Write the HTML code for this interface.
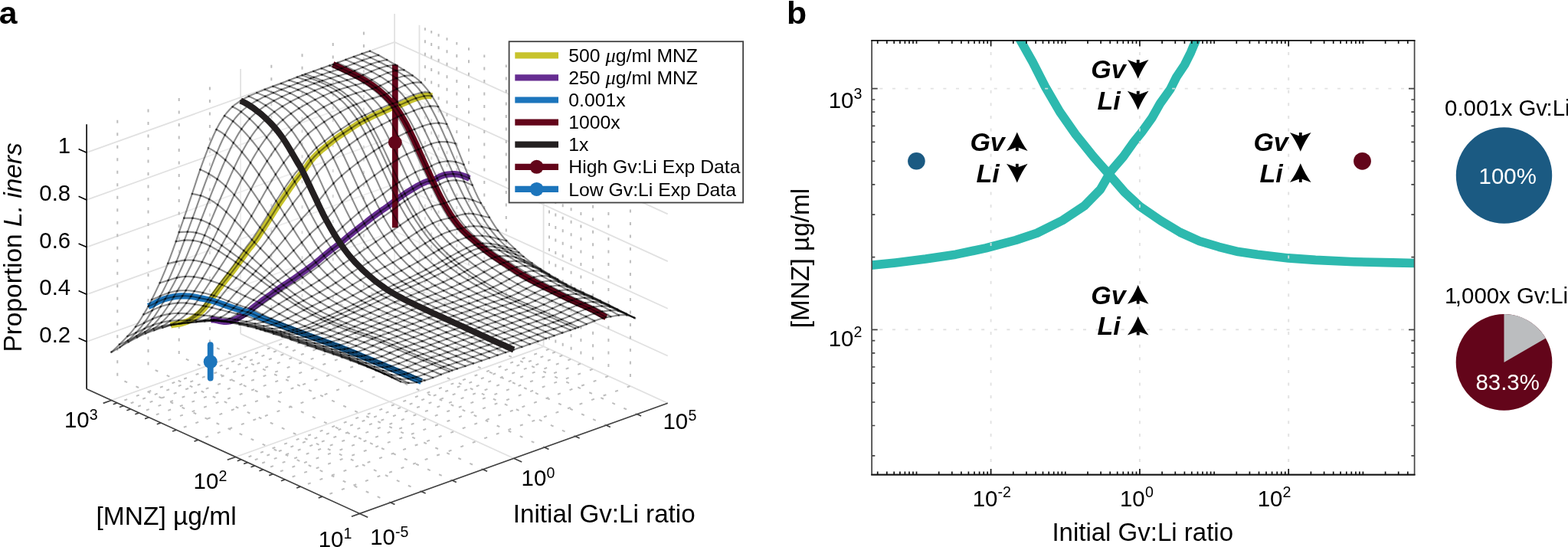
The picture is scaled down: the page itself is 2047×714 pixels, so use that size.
<!DOCTYPE html>
<html lang="en"><head><meta charset="utf-8"><title>Figure</title>
<style>html,body{margin:0;padding:0;background:#fff}body{width:2047px;height:714px;overflow:hidden}svg{display:block}text{font-family:"Liberation Sans",Arial,Helvetica,sans-serif;fill:#000}.t29{font-size:29.4px}.t33{font-size:33px}.t23{font-size:23.4px}.sup{font-size:19.6px}.lab{font-size:41.5px;font-weight:bold}.bi{font-size:34px;font-weight:bold;font-style:italic}.mu{font-family:"Liberation Serif","DejaVu Serif",serif;font-style:italic;font-size:25px}.gmaj path{fill:none;stroke:#e1e1e1;stroke-width:1.8}.gmin path{fill:none;stroke:#bdbdbd;stroke-width:2;stroke-dasharray:4 12.5}.ax path{fill:none;stroke:#404040;stroke-width:1.7}.zax path{fill:none;stroke:#000;stroke-width:1.6}.mesh path{fill:none;stroke:#000;stroke-opacity:.45;stroke-width:2.1;stroke-linejoin:round}.bgrid path{fill:none;stroke:#dfdfdf;stroke-opacity:.9;stroke-width:1.9;stroke-dasharray:4 12.6}.bax path{fill:none;stroke-width:1.7}</style></head><body>
<svg width="2047" height="714" viewBox="0 0 2047 714">
<rect width="2047" height="714" fill="#fff"/>
<g class="gmaj">
<path d="M113.1 446 L515.1 301.8 L871.7 464.5"/>
<path d="M113.1 384.3 L515.1 240.1 L871.7 402.8"/>
<path d="M113.1 322.6 L515.1 178.4 L871.7 341.1"/>
<path d="M113.1 260.9 L515.1 116.7 L871.7 279.4"/>
<path d="M113.1 199.2 L515.1 55 L871.7 217.7"/>
<path d="M314.1 435.6L314.1 90.1"/>
<path d="M515.1 363.5L515.1 18"/>
<path d="M709.6 452.3L709.6 106.7"/>
<path d="M547.5 378.3L547.5 32.8"/>
<path d="M670.7 598.3L314.1 435.6"/>
<path d="M871.7 526.2L515.1 363.5"/>
<path d="M307.6 596.5L709.6 452.3"/>
<path d="M145.5 522.5L547.5 378.3"/>
</g>
<g class="gmin">
<path d="M509.9 656 L153.3 493.3 L153.3 147.8" stroke-dashoffset="1.6"/>
<path d="M550.1 641.6 L193.5 478.9 L193.5 133.4" stroke-dashoffset="1.6"/>
<path d="M590.3 627.1 L233.7 464.5 L233.7 119" stroke-dashoffset="1.6"/>
<path d="M630.5 612.7 L273.9 450.1 L273.9 104.5" stroke-dashoffset="1.6"/>
<path d="M710.9 583.9 L354.3 421.2 L354.3 75.7" stroke-dashoffset="1.6"/>
<path d="M751.1 569.5 L394.5 406.8 L394.5 61.3" stroke-dashoffset="1.6"/>
<path d="M791.3 555 L434.7 392.4 L434.7 46.9" stroke-dashoffset="1.6"/>
<path d="M831.5 540.6 L474.9 378 L474.9 32.4" stroke-dashoffset="1.6"/>
<path d="M420.9 648.1 L822.9 503.9 L822.9 158.4" stroke-dashoffset="6.4"/>
<path d="M392.4 635.1 L794.4 490.9 L794.4 145.4" stroke-dashoffset="6.4"/>
<path d="M372.1 625.9 L774.1 481.7 L774.1 136.2" stroke-dashoffset="6.4"/>
<path d="M356.4 618.7 L758.4 474.5 L758.4 129" stroke-dashoffset="6.4"/>
<path d="M343.6 612.9 L745.6 468.7 L745.6 123.1" stroke-dashoffset="6.4"/>
<path d="M332.7 607.9 L734.7 463.7 L734.7 118.2" stroke-dashoffset="6.4"/>
<path d="M323.3 603.6 L725.3 459.4 L725.3 113.9" stroke-dashoffset="6.4"/>
<path d="M315 599.8 L717 455.6 L717 110.1" stroke-dashoffset="6.4"/>
<path d="M258.8 574.2 L660.8 430 L660.8 84.5" stroke-dashoffset="6.4"/>
<path d="M230.3 561.2 L632.3 417 L632.3 71.5" stroke-dashoffset="6.4"/>
<path d="M210 551.9 L612 407.7 L612 62.2" stroke-dashoffset="6.4"/>
<path d="M194.3 544.8 L596.3 400.6 L596.3 55.1" stroke-dashoffset="6.4"/>
<path d="M181.5 538.9 L583.5 394.7 L583.5 49.2" stroke-dashoffset="6.4"/>
<path d="M170.6 534 L572.6 389.8 L572.6 44.3" stroke-dashoffset="6.4"/>
<path d="M161.2 529.7 L563.2 385.5 L563.2 40" stroke-dashoffset="6.4"/>
<path d="M152.9 525.9 L554.9 381.7 L554.9 36.2" stroke-dashoffset="6.4"/>
</g>
<path d="M490.7 483.4 L501.3 487.5 L512.4 492.6 L501.9 488.3ZM479.6 478.9 L490.1 482.7 L501.3 487.5 L490.7 483.4ZM468.4 474.5 L479 478 L490.1 482.7 L479.6 478.9ZM457.3 470.3 L467.8 473.4 L479 478 L468.4 474.5ZM446.1 466.2 L456.7 468.8 L467.8 473.4 L457.3 470.3ZM435 462.3 L445.5 464.7 L456.7 468.8 L446.1 466.2ZM423.8 458.5 L434.4 460.8 L445.5 464.7 L435 462.3ZM412.7 454.7 L423.3 456.9 L434.4 460.8 L423.8 458.5ZM401.6 450.9 L412.1 453 L423.3 456.9 L412.7 454.7ZM390.4 447 L401 449.1 L412.1 453 L401.6 450.9ZM379.3 443 L389.8 445.2 L401 449.1 L390.4 447ZM368.1 439.3 L378.7 441.4 L389.8 445.2 L379.3 443ZM357 435.7 L367.5 437.7 L378.7 441.4 L368.1 439.3ZM345.8 432.1 L356.4 434 L367.5 437.7 L357 435.7ZM334.7 428.7 L345.2 430.4 L356.4 434 L345.8 432.1ZM323.6 425.9 L334.1 427.2 L345.2 430.4 L334.7 428.7ZM312.4 423.4 L323 424.4 L334.1 427.2 L323.6 425.9ZM301.3 421.2 L311.8 422 L323 424.4 L312.4 423.4ZM290.1 419 L300.7 420.1 L311.8 422 L301.3 421.2ZM290.1 419 L300.7 420.1 L289.5 418.9 L279 417.4ZM279 417.4 L289.5 418.9 L278.4 418.9 L267.8 418.2ZM267.8 418.2 L278.4 418.9 L267.2 419.5 L256.7 420ZM256.7 420 L267.2 419.5 L256.1 420.3 L245.5 421.5ZM234.4 422.5 L244.9 421.2 L256.1 420.3 L245.5 421.5ZM223.3 424.6 L233.8 422.4 L244.9 421.2 L234.4 422.5ZM212.1 427.7 L222.7 423.8 L233.8 422.4 L223.3 424.6ZM201 431.2 L211.5 425.9 L222.7 423.8 L212.1 427.7ZM189.8 435.4 L200.4 429 L211.5 425.9 L201 431.2ZM178.7 440.5 L189.2 433.3 L200.4 429 L189.8 435.4ZM167.5 446.5 L178.1 438.6 L189.2 433.3 L178.7 440.5ZM156.4 453.3 L166.9 444.5 L178.1 438.6 L167.5 446.5ZM145.2 459.7 L155.8 449.7 L166.9 444.5 L156.4 453.3ZM512.4 492.6 L523 498.1 L511.8 492.8 L501.3 487.5ZM490.1 482.7 L500.7 487.2 L511.8 492.8 L501.3 487.5ZM479 478 L489.5 482 L500.7 487.2 L490.1 482.7ZM467.8 473.4 L478.4 476.9 L489.5 482 L479 478ZM456.7 468.8 L467.2 471.8 L478.4 476.9 L467.8 473.4ZM445.5 464.7 L456.1 466.9 L467.2 471.8 L456.7 468.8ZM434.4 460.8 L445 462.7 L456.1 466.9 L445.5 464.7ZM423.3 456.9 L433.8 458.7 L445 462.7 L434.4 460.8ZM412.1 453 L422.7 454.9 L433.8 458.7 L423.3 456.9ZM401 449.1 L411.5 451 L422.7 454.9 L412.1 453ZM389.8 445.2 L400.4 447.1 L411.5 451 L401 449.1ZM378.7 441.4 L389.2 443.2 L400.4 447.1 L389.8 445.2ZM367.5 437.7 L378.1 439.4 L389.2 443.2 L378.7 441.4ZM356.4 434 L366.9 435.7 L378.1 439.4 L367.5 437.7ZM345.2 430.4 L355.8 432 L366.9 435.7 L356.4 434ZM334.1 427.2 L344.7 428.5 L355.8 432 L345.2 430.4ZM323 424.4 L333.5 425.5 L344.7 428.5 L334.1 427.2ZM311.8 422 L322.4 423 L333.5 425.5 L323 424.4ZM300.7 420.1 L311.2 421.2 L322.4 423 L311.8 422ZM300.7 420.1 L311.2 421.2 L300.1 420.1 L289.5 418.9ZM289.5 418.9 L300.1 420.1 L288.9 419.1 L278.4 418.9ZM267.2 419.5 L277.8 418.3 L288.9 419.1 L278.4 418.9ZM256.1 420.3 L266.6 418 L277.8 418.3 L267.2 419.5ZM244.9 421.2 L255.5 418 L266.6 418 L256.1 420.3ZM233.8 422.4 L244.4 418.1 L255.5 418 L244.9 421.2ZM222.7 423.8 L233.2 418.1 L244.4 418.1 L233.8 422.4ZM211.5 425.9 L222.1 418.9 L233.2 418.1 L222.7 423.8ZM200.4 429 L210.9 420.9 L222.1 418.9 L211.5 425.9ZM189.2 433.3 L199.8 424.3 L210.9 420.9 L200.4 429ZM178.1 438.6 L188.6 429 L199.8 424.3 L189.2 433.3ZM166.9 444.5 L177.5 434.3 L188.6 429 L178.1 438.6ZM155.8 449.7 L166.3 439.1 L177.5 434.3 L166.9 444.5ZM511.8 492.8 L522.4 494.7 L533.5 499.9 L523 498.1ZM500.7 487.2 L511.2 489.3 L522.4 494.7 L511.8 492.8ZM489.5 482 L500.1 483.9 L511.2 489.3 L500.7 487.2ZM478.4 476.9 L488.9 478.8 L500.1 483.9 L489.5 482ZM467.2 471.8 L477.8 473.7 L488.9 478.8 L478.4 476.9ZM456.1 466.9 L466.7 468.7 L477.8 473.7 L467.2 471.8ZM445 462.7 L455.5 463.9 L466.7 468.7 L456.1 466.9ZM433.8 458.7 L444.4 459.8 L455.5 463.9 L445 462.7ZM422.7 454.9 L433.2 455.8 L444.4 459.8 L433.8 458.7ZM411.5 451 L422.1 451.9 L433.2 455.8 L422.7 454.9ZM400.4 447.1 L410.9 448 L422.1 451.9 L411.5 451ZM389.2 443.2 L399.8 444.1 L410.9 448 L400.4 447.1ZM378.1 439.4 L388.6 440.2 L399.8 444.1 L389.2 443.2ZM366.9 435.7 L377.5 436.4 L388.6 440.2 L378.1 439.4ZM355.8 432 L366.4 432.7 L377.5 436.4 L366.9 435.7ZM344.7 428.5 L355.2 429 L366.4 432.7 L355.8 432ZM333.5 425.5 L344.1 425.5 L355.2 429 L344.7 428.5ZM322.4 423 L332.9 422.5 L344.1 425.5 L333.5 425.5ZM311.2 421.2 L321.8 419.9 L332.9 422.5 L322.4 423ZM300.1 420.1 L310.6 417.7 L321.8 419.9 L311.2 421.2ZM288.9 419.1 L299.5 415.9 L310.6 417.7 L300.1 420.1ZM277.8 418.3 L288.3 414.2 L299.5 415.9 L288.9 419.1ZM266.6 418 L277.2 412.8 L288.3 414.2 L277.8 418.3ZM255.5 418 L266.1 411.7 L277.2 412.8 L266.6 418ZM244.4 418.1 L254.9 410.5 L266.1 411.7 L255.5 418ZM233.2 418.1 L243.8 409.4 L254.9 410.5 L244.4 418.1ZM222.1 418.9 L232.6 408.9 L243.8 409.4 L233.2 418.1ZM210.9 420.9 L221.5 409.8 L232.6 408.9 L222.1 418.9ZM199.8 424.3 L210.3 412.3 L221.5 409.8 L210.9 420.9ZM188.6 429 L199.2 416.4 L210.3 412.3 L199.8 424.3ZM177.5 434.3 L188 421.7 L199.2 416.4 L188.6 429ZM166.3 439.1 L176.9 426.6 L188 421.7 L177.5 434.3ZM522.4 494.7 L532.9 494.3 L544.1 499.1 L533.5 499.9ZM511.2 489.3 L521.8 489.3 L532.9 494.3 L522.4 494.7ZM500.1 483.9 L510.6 484.3 L521.8 489.3 L511.2 489.3ZM488.9 478.8 L499.5 479.4 L510.6 484.3 L500.1 483.9ZM477.8 473.7 L488.3 474.6 L499.5 479.4 L488.9 478.8ZM466.7 468.7 L477.2 469.7 L488.3 474.6 L477.8 473.7ZM455.5 463.9 L466.1 465 L477.2 469.7 L466.7 468.7ZM444.4 459.8 L454.9 460.5 L466.1 465 L455.5 463.9ZM433.2 455.8 L443.8 456.2 L454.9 460.5 L444.4 459.8ZM422.1 451.9 L432.6 452 L443.8 456.2 L433.2 455.8ZM410.9 448 L421.5 447.9 L432.6 452 L422.1 451.9ZM399.8 444.1 L410.3 443.9 L421.5 447.9 L410.9 448ZM388.6 440.2 L399.2 439.9 L410.3 443.9 L399.8 444.1ZM377.5 436.4 L388 435.9 L399.2 439.9 L388.6 440.2ZM366.4 432.7 L376.9 431.8 L388 435.9 L377.5 436.4ZM355.2 429 L365.8 427.8 L376.9 431.8 L366.4 432.7ZM344.1 425.5 L354.6 424 L365.8 427.8 L355.2 429ZM332.9 422.5 L343.5 420.2 L354.6 424 L344.1 425.5ZM321.8 419.9 L332.3 416.4 L343.5 420.2 L332.9 422.5ZM310.6 417.7 L321.2 412.3 L332.3 416.4 L321.8 419.9ZM299.5 415.9 L310 409.7 L321.2 412.3 L310.6 417.7ZM288.3 414.2 L298.9 407.2 L310 409.7 L299.5 415.9ZM277.2 412.8 L287.7 404.3 L298.9 407.2 L288.3 414.2ZM266.1 411.7 L276.6 401.6 L287.7 404.3 L277.2 412.8ZM254.9 410.5 L265.5 399.3 L276.6 401.6 L266.1 411.7ZM243.8 409.4 L254.3 397.1 L265.5 399.3 L254.9 410.5ZM232.6 408.9 L243.2 395.6 L254.3 397.1 L243.8 409.4ZM221.5 409.8 L232 395.5 L243.2 395.6 L232.6 408.9ZM210.3 412.3 L220.9 397.1 L232 395.5 L221.5 409.8ZM199.2 416.4 L209.7 400.3 L220.9 397.1 L210.3 412.3ZM188 421.7 L198.6 405.3 L209.7 400.3 L199.2 416.4ZM176.9 426.6 L187.4 410.4 L198.6 405.3 L188 421.7ZM532.9 494.3 L543.5 492.1 L554.6 496.6 L544.1 499.1ZM521.8 489.3 L532.3 487.4 L543.5 492.1 L532.9 494.3ZM510.6 484.3 L521.2 482.6 L532.3 487.4 L521.8 489.3ZM499.5 479.4 L510 478 L521.2 482.6 L510.6 484.3ZM488.3 474.6 L498.9 473.4 L510 478 L499.5 479.4ZM477.2 469.7 L487.8 468.7 L498.9 473.4 L488.3 474.6ZM466.1 465 L476.6 464 L487.8 468.7 L477.2 469.7ZM454.9 460.5 L465.5 459.4 L476.6 464 L466.1 465ZM443.8 456.2 L454.3 454.8 L465.5 459.4 L454.9 460.5ZM432.6 452 L443.2 450.5 L454.3 454.8 L443.8 456.2ZM421.5 447.9 L432 446.3 L443.2 450.5 L432.6 452ZM410.3 443.9 L420.9 442.1 L432 446.3 L421.5 447.9ZM399.2 439.9 L409.7 438 L420.9 442.1 L410.3 443.9ZM388 435.9 L398.6 433.8 L409.7 438 L399.2 439.9ZM376.9 431.8 L387.5 429.4 L398.6 433.8 L388 435.9ZM365.8 427.8 L376.3 425 L387.5 429.4 L376.9 431.8ZM354.6 424 L365.2 420.5 L376.3 425 L365.8 427.8ZM343.5 420.2 L354 415.8 L365.2 420.5 L354.6 424ZM332.3 416.4 L342.9 410.7 L354 415.8 L343.5 420.2ZM321.2 412.3 L331.7 405 L342.9 410.7 L332.3 416.4ZM310 409.7 L320.6 401.3 L331.7 405 L321.2 412.3ZM298.9 407.2 L309.4 397.5 L320.6 401.3 L310 409.7ZM287.7 404.3 L298.3 393.1 L309.4 397.5 L298.9 407.2ZM276.6 401.6 L287.2 388.6 L298.3 393.1 L287.7 404.3ZM265.5 399.3 L276 384.9 L287.2 388.6 L276.6 401.6ZM254.3 397.1 L264.9 382.2 L276 384.9 L265.5 399.3ZM243.2 395.6 L253.7 380 L264.9 382.2 L254.3 397.1ZM232 395.5 L242.6 379.2 L253.7 380 L243.2 395.6ZM220.9 397.1 L231.4 379.8 L242.6 379.2 L232 395.5ZM209.7 400.3 L220.3 382.2 L231.4 379.8 L220.9 397.1ZM198.6 405.3 L209.1 386.5 L220.3 382.2 L209.7 400.3ZM187.4 410.4 L198 391.2 L209.1 386.5 L198.6 405.3ZM543.5 492.1 L554 488.5 L565.2 493 L554.6 496.6ZM532.3 487.4 L542.9 483.8 L554 488.5 L543.5 492.1ZM521.2 482.6 L531.7 479.2 L542.9 483.8 L532.3 487.4ZM510 478 L520.6 474.5 L531.7 479.2 L521.2 482.6ZM498.9 473.4 L509.5 469.9 L520.6 474.5 L510 478ZM487.8 468.7 L498.3 465.2 L509.5 469.9 L498.9 473.4ZM476.6 464 L487.2 460.5 L498.3 465.2 L487.8 468.7ZM465.5 459.4 L476 455.9 L487.2 460.5 L476.6 464ZM454.3 454.8 L464.9 451.4 L476 455.9 L465.5 459.4ZM443.2 450.5 L453.7 447.1 L464.9 451.4 L454.3 454.8ZM432 446.3 L442.6 443.1 L453.7 447.1 L443.2 450.5ZM420.9 442.1 L431.4 439 L442.6 443.1 L432 446.3ZM409.7 438 L420.3 434.8 L431.4 439 L420.9 442.1ZM398.6 433.8 L409.2 430.4 L420.3 434.8 L409.7 438ZM387.5 429.4 L398 425.8 L409.2 430.4 L398.6 433.8ZM376.3 425 L386.9 420.8 L398 425.8 L387.5 429.4ZM365.2 420.5 L375.7 415.6 L386.9 420.8 L376.3 425ZM354 415.8 L364.6 409.8 L375.7 415.6 L365.2 420.5ZM342.9 410.7 L353.4 403.6 L364.6 409.8 L354 415.8ZM331.7 405 L342.3 397.3 L353.4 403.6 L342.9 410.7ZM320.6 401.3 L331.1 391.7 L342.3 397.3 L331.7 405ZM309.4 397.5 L320 386.5 L331.1 391.7 L320.6 401.3ZM298.3 393.1 L308.9 381 L320 386.5 L309.4 397.5ZM287.2 388.6 L297.7 375.4 L308.9 381 L298.3 393.1ZM276 384.9 L286.6 370.4 L297.7 375.4 L287.2 388.6ZM264.9 382.2 L275.4 366.5 L286.6 370.4 L276 384.9ZM253.7 380 L264.3 363.4 L275.4 366.5 L264.9 382.2ZM242.6 379.2 L253.1 361.4 L264.3 363.4 L253.7 380ZM231.4 379.8 L242 361 L253.1 361.4 L242.6 379.2ZM220.3 382.2 L230.8 362.6 L242 361 L231.4 379.8ZM209.1 386.5 L219.7 365.9 L230.8 362.6 L220.3 382.2ZM198 391.2 L208.6 369.3 L219.7 365.9 L209.1 386.5ZM554 488.5 L564.6 484.2 L575.7 488.9 L565.2 493ZM542.9 483.8 L553.4 479.5 L564.6 484.2 L554 488.5ZM531.7 479.2 L542.3 474.8 L553.4 479.5 L542.9 483.8ZM520.6 474.5 L531.1 470.2 L542.3 474.8 L531.7 479.2ZM509.5 469.9 L520 465.5 L531.1 470.2 L520.6 474.5ZM498.3 465.2 L508.9 460.7 L520 465.5 L509.5 469.9ZM487.2 460.5 L497.7 456 L508.9 460.7 L498.3 465.2ZM476 455.9 L486.6 451.2 L497.7 456 L487.2 460.5ZM464.9 451.4 L475.4 446.8 L486.6 451.2 L476 455.9ZM453.7 447.1 L464.3 442.8 L475.4 446.8 L464.9 451.4ZM442.6 443.1 L453.1 438.9 L464.3 442.8 L453.7 447.1ZM431.4 439 L442 434.9 L453.1 438.9 L442.6 443.1ZM420.3 434.8 L430.9 430.7 L442 434.9 L431.4 439ZM409.2 430.4 L419.7 426.2 L430.9 430.7 L420.3 434.8ZM398 425.8 L408.6 421.4 L419.7 426.2 L409.2 430.4ZM386.9 420.8 L397.4 416 L408.6 421.4 L398 425.8ZM375.7 415.6 L386.3 410.2 L397.4 416 L386.9 420.8ZM364.6 409.8 L375.1 403.8 L386.3 410.2 L375.7 415.6ZM353.4 403.6 L364 396.9 L375.1 403.8 L364.6 409.8ZM342.3 397.3 L352.8 389.9 L364 396.9 L353.4 403.6ZM331.1 391.7 L341.7 383 L352.8 389.9 L342.3 397.3ZM320 386.5 L330.6 376.2 L341.7 383 L331.1 391.7ZM308.9 381 L319.4 369.4 L330.6 376.2 L320 386.5ZM297.7 375.4 L308.3 362.8 L319.4 369.4 L308.9 381ZM286.6 370.4 L297.1 356.6 L308.3 362.8 L297.7 375.4ZM275.4 366.5 L286 350.9 L297.1 356.6 L286.6 370.4ZM264.3 363.4 L274.8 345.9 L286 350.9 L275.4 366.5ZM253.1 361.4 L263.7 342 L274.8 345.9 L264.3 363.4ZM242 361 L252.5 339.8 L263.7 342 L253.1 361.4ZM230.8 362.6 L241.4 339.7 L252.5 339.8 L242 361ZM219.7 365.9 L230.3 341.6 L241.4 339.7 L230.8 362.6ZM208.6 369.3 L219.1 343.9 L230.3 341.6 L219.7 365.9ZM564.6 484.2 L575.1 480.2 L586.3 484.9 L575.7 488.9ZM553.4 479.5 L564 475.4 L575.1 480.2 L564.6 484.2ZM542.3 474.8 L552.8 470.6 L564 475.4 L553.4 479.5ZM531.1 470.2 L541.7 465.9 L552.8 470.6 L542.3 474.8ZM520 465.5 L530.6 461.1 L541.7 465.9 L531.1 470.2ZM508.9 460.7 L519.4 456.3 L530.6 461.1 L520 465.5ZM497.7 456 L508.3 451.5 L519.4 456.3 L508.9 460.7ZM486.6 451.2 L497.1 446.8 L508.3 451.5 L497.7 456ZM475.4 446.8 L486 442.4 L497.1 446.8 L486.6 451.2ZM464.3 442.8 L474.8 438.4 L486 442.4 L475.4 446.8ZM453.1 438.9 L463.7 434.5 L474.8 438.4 L464.3 442.8ZM442 434.9 L452.5 430.6 L463.7 434.5 L453.1 438.9ZM430.9 430.7 L441.4 426.3 L452.5 430.6 L442 434.9ZM419.7 426.2 L430.3 421.7 L441.4 426.3 L430.9 430.7ZM408.6 421.4 L419.1 416.6 L430.3 421.7 L419.7 426.2ZM397.4 416 L408 411 L419.1 416.6 L408.6 421.4ZM386.3 410.2 L396.8 404.8 L408 411 L397.4 416ZM375.1 403.8 L385.7 397.9 L396.8 404.8 L386.3 410.2ZM364 396.9 L374.5 390.5 L385.7 397.9 L375.1 403.8ZM352.8 389.9 L363.4 382.6 L374.5 390.5 L364 396.9ZM341.7 383 L352.2 374.5 L363.4 382.6 L352.8 389.9ZM330.6 376.2 L341.1 366.3 L352.2 374.5 L341.7 383ZM319.4 369.4 L330 358.1 L341.1 366.3 L330.6 376.2ZM308.3 362.8 L318.8 350 L330 358.1 L319.4 369.4ZM297.1 356.6 L307.7 342.2 L318.8 350 L308.3 362.8ZM286 350.9 L296.5 334.7 L307.7 342.2 L297.1 356.6ZM274.8 345.9 L285.4 327.5 L296.5 334.7 L286 350.9ZM263.7 342 L274.2 321.1 L285.4 327.5 L274.8 345.9ZM252.5 339.8 L263.1 316.4 L274.2 321.1 L263.7 342ZM241.4 339.7 L251.9 313.9 L263.1 316.4 L252.5 339.8ZM230.3 341.6 L240.8 313.6 L251.9 313.9 L241.4 339.7ZM219.1 343.9 L229.7 315.1 L240.8 313.6 L230.3 341.6ZM575.1 480.2 L585.7 476.5 L596.8 481.4 L586.3 484.9ZM564 475.4 L574.5 471.7 L585.7 476.5 L575.1 480.2ZM552.8 470.6 L563.4 466.9 L574.5 471.7 L564 475.4ZM541.7 465.9 L552.3 462.1 L563.4 466.9 L552.8 470.6ZM530.6 461.1 L541.1 457.3 L552.3 462.1 L541.7 465.9ZM519.4 456.3 L530 452.5 L541.1 457.3 L530.6 461.1ZM508.3 451.5 L518.8 447.6 L530 452.5 L519.4 456.3ZM497.1 446.8 L507.7 442.9 L518.8 447.6 L508.3 451.5ZM486 442.4 L496.5 438.4 L507.7 442.9 L497.1 446.8ZM474.8 438.4 L485.4 434.3 L496.5 438.4 L486 442.4ZM463.7 434.5 L474.2 430.3 L485.4 434.3 L474.8 438.4ZM452.5 430.6 L463.1 426.2 L474.2 430.3 L463.7 434.5ZM441.4 426.3 L452 421.8 L463.1 426.2 L452.5 430.6ZM430.3 421.7 L440.8 417.1 L452 421.8 L441.4 426.3ZM419.1 416.6 L429.7 411.9 L440.8 417.1 L430.3 421.7ZM408 411 L418.5 406 L429.7 411.9 L419.1 416.6ZM396.8 404.8 L407.4 399.5 L418.5 406 L408 411ZM385.7 397.9 L396.2 392.3 L407.4 399.5 L396.8 404.8ZM374.5 390.5 L385.1 384.3 L396.2 392.3 L385.7 397.9ZM363.4 382.6 L373.9 375.5 L385.1 384.3 L374.5 390.5ZM352.2 374.5 L362.8 366.3 L373.9 375.5 L363.4 382.6ZM341.1 366.3 L351.7 356.7 L362.8 366.3 L352.2 374.5ZM330 358.1 L340.5 346.8 L351.7 356.7 L341.1 366.3ZM318.8 350 L329.4 336.8 L340.5 346.8 L330 358.1ZM307.7 342.2 L318.2 327.1 L329.4 336.8 L318.8 350ZM296.5 334.7 L307.1 318 L318.2 327.1 L307.7 342.2ZM285.4 327.5 L295.9 308.3 L307.1 318 L296.5 334.7ZM274.2 321.1 L284.8 299.1 L295.9 308.3 L285.4 327.5ZM263.1 316.4 L273.6 292.1 L284.8 299.1 L274.2 321.1ZM251.9 313.9 L262.5 287.2 L273.6 292.1 L263.1 316.4ZM240.8 313.6 L251.4 284.7 L262.5 287.2 L251.9 313.9ZM229.7 315.1 L240.2 284.7 L251.4 284.7 L240.8 313.6ZM585.7 476.5 L596.2 473.1 L607.4 477.9 L596.8 481.4ZM574.5 471.7 L585.1 468.2 L596.2 473.1 L585.7 476.5ZM563.4 466.9 L574 463.4 L585.1 468.2 L574.5 471.7ZM552.3 462.1 L562.8 458.6 L574 463.4 L563.4 466.9ZM541.1 457.3 L551.7 453.7 L562.8 458.6 L552.3 462.1ZM530 452.5 L540.5 448.9 L551.7 453.7 L541.1 457.3ZM518.8 447.6 L529.4 443.9 L540.5 448.9 L530 452.5ZM507.7 442.9 L518.2 439.1 L529.4 443.9 L518.8 447.6ZM496.5 438.4 L507.1 434.6 L518.2 439.1 L507.7 442.9ZM485.4 434.3 L495.9 430.3 L507.1 434.6 L496.5 438.4ZM474.2 430.3 L484.8 426.1 L495.9 430.3 L485.4 434.3ZM463.1 426.2 L473.7 421.8 L484.8 426.1 L474.2 430.3ZM452 421.8 L462.5 417.3 L473.7 421.8 L463.1 426.2ZM440.8 417.1 L451.4 412.5 L462.5 417.3 L452 421.8ZM429.7 411.9 L440.2 407.1 L451.4 412.5 L440.8 417.1ZM418.5 406 L429.1 401.1 L440.2 407.1 L429.7 411.9ZM407.4 399.5 L417.9 394.4 L429.1 401.1 L418.5 406ZM396.2 392.3 L406.8 386.9 L417.9 394.4 L407.4 399.5ZM385.1 384.3 L395.6 378.4 L406.8 386.9 L396.2 392.3ZM373.9 375.5 L384.5 369 L395.6 378.4 L385.1 384.3ZM362.8 366.3 L373.4 358.5 L384.5 369 L373.9 375.5ZM351.7 356.7 L362.2 347.3 L373.4 358.5 L362.8 366.3ZM340.5 346.8 L351.1 335.7 L362.2 347.3 L351.7 356.7ZM329.4 336.8 L339.9 324.2 L351.1 335.7 L340.5 346.8ZM318.2 327.1 L328.8 312.8 L339.9 324.2 L329.4 336.8ZM307.1 318 L317.6 299.9 L328.8 312.8 L318.2 327.1ZM295.9 308.3 L306.5 287.8 L317.6 299.9 L307.1 318ZM284.8 299.1 L295.3 276.7 L306.5 287.8 L295.9 308.3ZM273.6 292.1 L284.2 267.3 L295.3 276.7 L284.8 299.1ZM262.5 287.2 L273.1 260.1 L284.2 267.3 L273.6 292.1ZM251.4 284.7 L261.9 255.3 L273.1 260.1 L262.5 287.2ZM240.2 284.7 L250.8 253 L261.9 255.3 L251.4 284.7ZM596.2 473.1 L606.8 469.6 L617.9 474.4 L607.4 477.9ZM585.1 468.2 L595.6 464.7 L606.8 469.6 L596.2 473.1ZM574 463.4 L584.5 459.8 L595.6 464.7 L585.1 468.2ZM562.8 458.6 L573.4 455 L584.5 459.8 L574 463.4ZM551.7 453.7 L562.2 450.1 L573.4 455 L562.8 458.6ZM540.5 448.9 L551.1 445.2 L562.2 450.1 L551.7 453.7ZM529.4 443.9 L539.9 440.2 L551.1 445.2 L540.5 448.9ZM518.2 439.1 L528.8 435.4 L539.9 440.2 L529.4 443.9ZM507.1 434.6 L517.6 430.7 L528.8 435.4 L518.2 439.1ZM495.9 430.3 L506.5 426.3 L517.6 430.7 L507.1 434.6ZM484.8 426.1 L495.3 421.9 L506.5 426.3 L495.9 430.3ZM473.7 421.8 L484.2 417.5 L495.3 421.9 L484.8 426.1ZM462.5 417.3 L473.1 412.8 L484.2 417.5 L473.7 421.8ZM451.4 412.5 L461.9 407.8 L473.1 412.8 L462.5 417.3ZM440.2 407.1 L450.8 402.3 L461.9 407.8 L451.4 412.5ZM429.1 401.1 L439.6 396.2 L450.8 402.3 L440.2 407.1ZM417.9 394.4 L428.5 389.2 L439.6 396.2 L429.1 401.1ZM406.8 386.9 L417.3 381.4 L428.5 389.2 L417.9 394.4ZM395.6 378.4 L406.2 372.4 L417.3 381.4 L406.8 386.9ZM384.5 369 L395.1 362.2 L406.2 372.4 L395.6 378.4ZM373.4 358.5 L383.9 350.4 L395.1 362.2 L384.5 369ZM362.2 347.3 L372.8 337.4 L383.9 350.4 L373.4 358.5ZM351.1 335.7 L361.6 323.7 L372.8 337.4 L362.2 347.3ZM339.9 324.2 L350.5 310 L361.6 323.7 L351.1 335.7ZM328.8 312.8 L339.3 296.8 L350.5 310 L339.9 324.2ZM317.6 299.9 L328.2 282 L339.3 296.8 L328.8 312.8ZM306.5 287.8 L317 267.3 L328.2 282 L317.6 299.9ZM295.3 276.7 L305.9 254.4 L317 267.3 L306.5 287.8ZM284.2 267.3 L294.8 243.1 L305.9 254.4 L295.3 276.7ZM273.1 260.1 L283.6 233.9 L294.8 243.1 L284.2 267.3ZM261.9 255.3 L272.5 226.8 L283.6 233.9 L273.1 260.1ZM250.8 253 L261.3 221.4 L272.5 226.8 L261.9 255.3ZM606.8 469.6 L617.3 466 L628.5 470.9 L617.9 474.4ZM595.6 464.7 L606.2 461.1 L617.3 466 L606.8 469.6ZM584.5 459.8 L595.1 456.2 L606.2 461.1 L595.6 464.7ZM573.4 455 L583.9 451.3 L595.1 456.2 L584.5 459.8ZM562.2 450.1 L572.8 446.3 L583.9 451.3 L573.4 455ZM551.1 445.2 L561.6 441.4 L572.8 446.3 L562.2 450.1ZM539.9 440.2 L550.5 436.4 L561.6 441.4 L551.1 445.2ZM528.8 435.4 L539.3 431.5 L550.5 436.4 L539.9 440.2ZM517.6 430.7 L528.2 426.8 L539.3 431.5 L528.8 435.4ZM506.5 426.3 L517 422.2 L528.2 426.8 L517.6 430.7ZM495.3 421.9 L505.9 417.7 L517 422.2 L506.5 426.3ZM484.2 417.5 L494.8 413.1 L505.9 417.7 L495.3 421.9ZM473.1 412.8 L483.6 408.3 L494.8 413.1 L484.2 417.5ZM461.9 407.8 L472.5 403.1 L483.6 408.3 L473.1 412.8ZM450.8 402.3 L461.3 397.4 L472.5 403.1 L461.9 407.8ZM439.6 396.2 L450.2 391 L461.3 397.4 L450.8 402.3ZM428.5 389.2 L439 383.8 L450.2 391 L439.6 396.2ZM417.3 381.4 L427.9 375.5 L439 383.8 L428.5 389.2ZM406.2 372.4 L416.7 366 L427.9 375.5 L417.3 381.4ZM395.1 362.2 L405.6 354.9 L416.7 366 L406.2 372.4ZM383.9 350.4 L394.5 341.8 L405.6 354.9 L395.1 362.2ZM372.8 337.4 L383.3 327 L394.5 341.8 L383.9 350.4ZM361.6 323.7 L372.2 311.1 L383.3 327 L372.8 337.4ZM350.5 310 L361 295.1 L372.2 311.1 L361.6 323.7ZM339.3 296.8 L349.9 279.9 L361 295.1 L350.5 310ZM328.2 282 L338.7 263.4 L349.9 279.9 L339.3 296.8ZM317 267.3 L327.6 247.2 L338.7 263.4 L328.2 282ZM305.9 254.4 L316.4 232.5 L327.6 247.2 L317 267.3ZM294.8 243.1 L305.3 219.8 L316.4 232.5 L305.9 254.4ZM283.6 233.9 L294.2 208.9 L305.3 219.8 L294.8 243.1ZM272.5 226.8 L283 199.6 L294.2 208.9 L283.6 233.9ZM261.3 221.4 L271.9 193.1 L283 199.6 L272.5 226.8ZM617.3 466 L627.9 462.4 L639 467.3 L628.5 470.9ZM606.2 461.1 L616.8 457.4 L627.9 462.4 L617.3 466ZM595.1 456.2 L605.6 452.5 L616.8 457.4 L606.2 461.1ZM583.9 451.3 L594.5 447.5 L605.6 452.5 L595.1 456.2ZM572.8 446.3 L583.3 442.5 L594.5 447.5 L583.9 451.3ZM561.6 441.4 L572.2 437.6 L583.3 442.5 L572.8 446.3ZM550.5 436.4 L561 432.6 L572.2 437.6 L561.6 441.4ZM539.3 431.5 L549.9 427.6 L561 432.6 L550.5 436.4ZM528.2 426.8 L538.7 422.8 L549.9 427.6 L539.3 431.5ZM517 422.2 L527.6 418.1 L538.7 422.8 L528.2 426.8ZM505.9 417.7 L516.5 413.4 L527.6 418.1 L517 422.2ZM494.8 413.1 L505.3 408.7 L516.5 413.4 L505.9 417.7ZM483.6 408.3 L494.2 403.7 L505.3 408.7 L494.8 413.1ZM472.5 403.1 L483 398.3 L494.2 403.7 L483.6 408.3ZM461.3 397.4 L471.9 392.3 L483 398.3 L472.5 403.1ZM450.2 391 L460.7 385.6 L471.9 392.3 L461.3 397.4ZM439 383.8 L449.6 378 L460.7 385.6 L450.2 391ZM427.9 375.5 L438.4 369.2 L449.6 378 L439 383.8ZM416.7 366 L427.3 359.1 L438.4 369.2 L427.9 375.5ZM405.6 354.9 L416.2 347.2 L427.3 359.1 L416.7 366ZM394.5 341.8 L405 332.8 L416.2 347.2 L405.6 354.9ZM383.3 327 L393.9 316.4 L405 332.8 L394.5 341.8ZM372.2 311.1 L382.7 298.6 L393.9 316.4 L383.3 327ZM361 295.1 L371.6 280.4 L382.7 298.6 L372.2 311.1ZM349.9 279.9 L360.4 262.4 L371.6 280.4 L361 295.1ZM338.7 263.4 L349.3 244.9 L360.4 262.4 L349.9 279.9ZM327.6 247.2 L338.1 227.9 L349.3 244.9 L338.7 263.4ZM316.4 232.5 L327 212.4 L338.1 227.9 L327.6 247.2ZM305.3 219.8 L315.9 198.5 L327 212.4 L316.4 232.5ZM294.2 208.9 L304.7 186.4 L315.9 198.5 L305.3 219.8ZM283 199.6 L293.6 176.2 L304.7 186.4 L294.2 208.9ZM271.9 193.1 L282.4 169 L293.6 176.2 L283 199.6ZM627.9 462.4 L638.5 458.8 L649.6 463.7 L639 467.3ZM616.8 457.4 L627.3 453.8 L638.5 458.8 L627.9 462.4ZM605.6 452.5 L616.2 448.8 L627.3 453.8 L616.8 457.4ZM594.5 447.5 L605 443.8 L616.2 448.8 L605.6 452.5ZM583.3 442.5 L593.9 438.8 L605 443.8 L594.5 447.5ZM572.2 437.6 L582.7 433.7 L593.9 438.8 L583.3 442.5ZM561 432.6 L571.6 428.7 L582.7 433.7 L572.2 437.6ZM549.9 427.6 L560.4 423.7 L571.6 428.7 L561 432.6ZM538.7 422.8 L549.3 418.8 L560.4 423.7 L549.9 427.6ZM527.6 418.1 L538.2 414 L549.3 418.8 L538.7 422.8ZM516.5 413.4 L527 409.1 L538.2 414 L527.6 418.1ZM505.3 408.7 L515.9 404.2 L527 409.1 L516.5 413.4ZM494.2 403.7 L504.7 399 L515.9 404.2 L505.3 408.7ZM483 398.3 L493.6 393.3 L504.7 399 L494.2 403.7ZM471.9 392.3 L482.4 387 L493.6 393.3 L483 398.3ZM460.7 385.6 L471.3 379.9 L482.4 387 L471.9 392.3ZM449.6 378 L460.1 371.8 L471.3 379.9 L460.7 385.6ZM438.4 369.2 L449 362.5 L460.1 371.8 L449.6 378ZM427.3 359.1 L437.9 351.6 L449 362.5 L438.4 369.2ZM416.2 347.2 L426.7 338.7 L437.9 351.6 L427.3 359.1ZM405 332.8 L415.6 323.5 L426.7 338.7 L416.2 347.2ZM393.9 316.4 L404.4 305.9 L415.6 323.5 L405 332.8ZM382.7 298.6 L393.3 286.5 L404.4 305.9 L393.9 316.4ZM371.6 280.4 L382.1 266.2 L393.3 286.5 L382.7 298.6ZM360.4 262.4 L371 246.4 L382.1 266.2 L371.6 280.4ZM349.3 244.9 L359.8 227.7 L371 246.4 L360.4 262.4ZM338.1 227.9 L348.7 210.3 L359.8 227.7 L349.3 244.9ZM327 212.4 L337.6 194.5 L348.7 210.3 L338.1 227.9ZM315.9 198.5 L326.4 180.6 L337.6 194.5 L327 212.4ZM304.7 186.4 L315.3 168.4 L326.4 180.6 L315.9 198.5ZM293.6 176.2 L304.1 158.3 L315.3 168.4 L304.7 186.4ZM282.4 169 L293 151.2 L304.1 158.3 L293.6 176.2ZM638.5 458.8 L649 455.1 L660.1 460.1 L649.6 463.7ZM627.3 453.8 L637.9 450.1 L649 455.1 L638.5 458.8ZM616.2 448.8 L626.7 445.1 L637.9 450.1 L627.3 453.8ZM605 443.8 L615.6 440.1 L626.7 445.1 L616.2 448.8ZM593.9 438.8 L604.4 435 L615.6 440.1 L605 443.8ZM582.7 433.7 L593.3 430 L604.4 435 L593.9 438.8ZM571.6 428.7 L582.1 424.9 L593.3 430 L582.7 433.7ZM560.4 423.7 L571 419.9 L582.1 424.9 L571.6 428.7ZM549.3 418.8 L559.8 414.8 L571 419.9 L560.4 423.7ZM538.2 414 L548.7 409.9 L559.8 414.8 L549.3 418.8ZM527 409.1 L537.6 404.8 L548.7 409.9 L538.2 414ZM515.9 404.2 L526.4 399.7 L537.6 404.8 L527 409.1ZM504.7 399 L515.3 394.3 L526.4 399.7 L515.9 404.2ZM493.6 393.3 L504.1 388.4 L515.3 394.3 L504.7 399ZM482.4 387 L493 381.8 L504.1 388.4 L493.6 393.3ZM471.3 379.9 L481.8 374.2 L493 381.8 L482.4 387ZM460.1 371.8 L470.7 365.5 L481.8 374.2 L471.3 379.9ZM449 362.5 L459.5 355.6 L470.7 365.5 L460.1 371.8ZM437.9 351.6 L448.4 344.1 L459.5 355.6 L449 362.5ZM426.7 338.7 L437.3 330.4 L448.4 344.1 L437.9 351.6ZM415.6 323.5 L426.1 314.5 L437.3 330.4 L426.7 338.7ZM404.4 305.9 L415 296.2 L426.1 314.5 L415.6 323.5ZM393.3 286.5 L403.8 275.2 L415 296.2 L404.4 305.9ZM382.1 266.2 L392.7 252.8 L403.8 275.2 L393.3 286.5ZM371 246.4 L381.5 231.3 L392.7 252.8 L382.1 266.2ZM359.8 227.7 L370.4 212.4 L381.5 231.3 L371 246.4ZM348.7 210.3 L359.2 194.7 L370.4 212.4 L359.8 227.7ZM337.6 194.5 L348.1 179.3 L359.2 194.7 L348.7 210.3ZM326.4 180.6 L337 166.2 L348.1 179.3 L337.6 194.5ZM315.3 168.4 L325.8 155.1 L337 166.2 L326.4 180.6ZM304.1 158.3 L314.7 145.9 L325.8 155.1 L315.3 168.4ZM293 151.2 L303.5 139.3 L314.7 145.9 L304.1 158.3ZM649 455.1 L659.6 451.5 L670.7 456.5 L660.1 460.1ZM637.9 450.1 L648.4 446.5 L659.6 451.5 L649 455.1ZM626.7 445.1 L637.3 441.4 L648.4 446.5 L637.9 450.1ZM615.6 440.1 L626.1 436.4 L637.3 441.4 L626.7 445.1ZM604.4 435 L615 431.3 L626.1 436.4 L615.6 440.1ZM593.3 430 L603.8 426.2 L615 431.3 L604.4 435ZM582.1 424.9 L592.7 421.1 L603.8 426.2 L593.3 430ZM571 419.9 L581.5 416 L592.7 421.1 L582.1 424.9ZM559.8 414.8 L570.4 411 L581.5 416 L571 419.9ZM548.7 409.9 L559.3 405.9 L570.4 411 L559.8 414.8ZM537.6 404.8 L548.1 400.6 L559.3 405.9 L548.7 409.9ZM526.4 399.7 L537 395.3 L548.1 400.6 L537.6 404.8ZM515.3 394.3 L525.8 389.7 L537 395.3 L526.4 399.7ZM504.1 388.4 L514.7 383.6 L525.8 389.7 L515.3 394.3ZM493 381.8 L503.5 376.7 L514.7 383.6 L504.1 388.4ZM481.8 374.2 L492.4 368.6 L503.5 376.7 L493 381.8ZM470.7 365.5 L481.2 359.4 L492.4 368.6 L481.8 374.2ZM459.5 355.6 L470.1 348.9 L481.2 359.4 L470.7 365.5ZM448.4 344.1 L459 337.1 L470.1 348.9 L459.5 355.6ZM437.3 330.4 L447.8 322.8 L459 337.1 L448.4 344.1ZM426.1 314.5 L436.7 306 L447.8 322.8 L437.3 330.4ZM415 296.2 L425.5 286.7 L436.7 306 L426.1 314.5ZM403.8 275.2 L414.4 264.1 L425.5 286.7 L415 296.2ZM392.7 252.8 L403.2 240.5 L414.4 264.1 L403.8 275.2ZM381.5 231.3 L392.1 218.1 L403.2 240.5 L392.7 252.8ZM370.4 212.4 L380.9 199.2 L392.1 218.1 L381.5 231.3ZM359.2 194.7 L369.8 181.1 L380.9 199.2 L370.4 212.4ZM348.1 179.3 L358.7 166.5 L369.8 181.1 L359.2 194.7ZM337 166.2 L347.5 155 L358.7 166.5 L348.1 179.3ZM325.8 155.1 L336.4 145.4 L347.5 155 L337 166.2ZM314.7 145.9 L325.2 137.5 L336.4 145.4 L325.8 155.1ZM303.5 139.3 L314.1 131.5 L325.2 137.5 L314.7 145.9ZM659.6 451.5 L670.1 447.9 L681.3 452.9 L670.7 456.5ZM648.4 446.5 L659 442.8 L670.1 447.9 L659.6 451.5ZM637.3 441.4 L647.8 437.8 L659 442.8 L648.4 446.5ZM626.1 436.4 L636.7 432.7 L647.8 437.8 L637.3 441.4ZM615 431.3 L625.5 427.6 L636.7 432.7 L626.1 436.4ZM603.8 426.2 L614.4 422.5 L625.5 427.6 L615 431.3ZM592.7 421.1 L603.2 417.4 L614.4 422.5 L603.8 426.2ZM581.5 416 L592.1 412.3 L603.2 417.4 L592.7 421.1ZM570.4 411 L581 407.2 L592.1 412.3 L581.5 416ZM559.3 405.9 L569.8 402.1 L581 407.2 L570.4 411ZM548.1 400.6 L558.7 396.8 L569.8 402.1 L559.3 405.9ZM537 395.3 L547.5 391.3 L558.7 396.8 L548.1 400.6ZM525.8 389.7 L536.4 385.5 L547.5 391.3 L537 395.3ZM514.7 383.6 L525.2 379.1 L536.4 385.5 L525.8 389.7ZM503.5 376.7 L514.1 371.8 L525.2 379.1 L514.7 383.6ZM492.4 368.6 L502.9 363.4 L514.1 371.8 L503.5 376.7ZM481.2 359.4 L491.8 353.8 L502.9 363.4 L492.4 368.6ZM470.1 348.9 L480.7 342.7 L491.8 353.8 L481.2 359.4ZM459 337.1 L469.5 329.8 L480.7 342.7 L470.1 348.9ZM447.8 322.8 L458.4 314.3 L469.5 329.8 L459 337.1ZM436.7 306 L447.2 296.1 L458.4 314.3 L447.8 322.8ZM425.5 286.7 L436.1 274.9 L447.2 296.1 L436.7 306ZM414.4 264.1 L424.9 251.1 L436.1 274.9 L425.5 286.7ZM403.2 240.5 L413.8 226.3 L424.9 251.1 L414.4 264.1ZM392.1 218.1 L402.6 203.8 L413.8 226.3 L403.2 240.5ZM380.9 199.2 L391.5 185.6 L402.6 203.8 L392.1 218.1ZM369.8 181.1 L380.4 169.7 L391.5 185.6 L380.9 199.2ZM358.7 166.5 L369.2 156.5 L380.4 169.7 L369.8 181.1ZM347.5 155 L358.1 146 L369.2 156.5 L358.7 166.5ZM336.4 145.4 L346.9 137.7 L358.1 146 L347.5 155ZM325.2 137.5 L335.8 131 L346.9 137.7 L336.4 145.4ZM314.1 131.5 L324.6 125.7 L335.8 131 L325.2 137.5ZM670.1 447.9 L680.7 444.2 L691.8 449.2 L681.3 452.9ZM659 442.8 L669.5 439.1 L680.7 444.2 L670.1 447.9ZM647.8 437.8 L658.4 434.1 L669.5 439.1 L659 442.8ZM636.7 432.7 L647.2 429 L658.4 434.1 L647.8 437.8ZM625.5 427.6 L636.1 423.9 L647.2 429 L636.7 432.7ZM614.4 422.5 L624.9 418.8 L636.1 423.9 L625.5 427.6ZM603.2 417.4 L613.8 413.7 L624.9 418.8 L614.4 422.5ZM592.1 412.3 L602.7 408.6 L613.8 413.7 L603.2 417.4ZM581 407.2 L591.5 403.5 L602.7 408.6 L592.1 412.3ZM569.8 402.1 L580.4 398.4 L591.5 403.5 L581 407.2ZM558.7 396.8 L569.2 393 L580.4 398.4 L569.8 402.1ZM547.5 391.3 L558.1 387.4 L569.2 393 L558.7 396.8ZM536.4 385.5 L546.9 381.4 L558.1 387.4 L547.5 391.3ZM525.2 379.1 L535.8 374.7 L546.9 381.4 L536.4 385.5ZM514.1 371.8 L524.6 367.1 L535.8 374.7 L525.2 379.1ZM502.9 363.4 L513.5 358.4 L524.6 367.1 L514.1 371.8ZM491.8 353.8 L502.4 348.3 L513.5 358.4 L502.9 363.4ZM480.7 342.7 L491.2 336.6 L502.4 348.3 L491.8 353.8ZM469.5 329.8 L480.1 322.8 L491.2 336.6 L480.7 342.7ZM458.4 314.3 L468.9 306.3 L480.1 322.8 L469.5 329.8ZM447.2 296.1 L457.8 286.5 L468.9 306.3 L458.4 314.3ZM436.1 274.9 L446.6 263.8 L457.8 286.5 L447.2 296.1ZM424.9 251.1 L435.5 239.3 L446.6 263.8 L436.1 274.9ZM413.8 226.3 L424.3 214.8 L435.5 239.3 L424.9 251.1ZM402.6 203.8 L413.2 192.8 L424.3 214.8 L413.8 226.3ZM391.5 185.6 L402.1 174.9 L413.2 192.8 L402.6 203.8ZM380.4 169.7 L390.9 160.2 L402.1 174.9 L391.5 185.6ZM369.2 156.5 L379.8 148.3 L390.9 160.2 L380.4 169.7ZM358.1 146 L368.6 138.9 L379.8 148.3 L369.2 156.5ZM346.9 137.7 L357.5 131.5 L368.6 138.9 L358.1 146ZM335.8 131 L346.3 125.8 L357.5 131.5 L346.9 137.7ZM324.6 125.7 L335.2 121.1 L346.3 125.8 L335.8 131ZM680.7 444.2 L691.2 440.5 L702.4 445.6 L691.8 449.2ZM669.5 439.1 L680.1 435.4 L691.2 440.5 L680.7 444.2ZM658.4 434.1 L668.9 430.3 L680.1 435.4 L669.5 439.1ZM647.2 429 L657.8 425.2 L668.9 430.3 L658.4 434.1ZM636.1 423.9 L646.6 420.2 L657.8 425.2 L647.2 429ZM624.9 418.8 L635.5 415.1 L646.6 420.2 L636.1 423.9ZM613.8 413.7 L624.3 410 L635.5 415.1 L624.9 418.8ZM602.7 408.6 L613.2 404.9 L624.3 410 L613.8 413.7ZM591.5 403.5 L602.1 399.8 L613.2 404.9 L602.7 408.6ZM580.4 398.4 L590.9 394.6 L602.1 399.8 L591.5 403.5ZM569.2 393 L579.8 389.2 L590.9 394.6 L580.4 398.4ZM558.1 387.4 L568.6 383.5 L579.8 389.2 L569.2 393ZM546.9 381.4 L557.5 377.2 L568.6 383.5 L558.1 387.4ZM535.8 374.7 L546.3 370.2 L557.5 377.2 L546.9 381.4ZM524.6 367.1 L535.2 362.3 L546.3 370.2 L535.8 374.7ZM513.5 358.4 L524 353.2 L535.2 362.3 L524.6 367.1ZM502.4 348.3 L512.9 342.6 L524 353.2 L513.5 358.4ZM491.2 336.6 L501.8 330.3 L512.9 342.6 L502.4 348.3ZM480.1 322.8 L490.6 315.7 L501.8 330.3 L491.2 336.6ZM468.9 306.3 L479.5 298.4 L490.6 315.7 L480.1 322.8ZM457.8 286.5 L468.3 277.6 L479.5 298.4 L468.9 306.3ZM446.6 263.8 L457.2 254 L468.3 277.6 L457.8 286.5ZM435.5 239.3 L446 229.4 L457.2 254 L446.6 263.8ZM424.3 214.8 L434.9 205.5 L446 229.4 L435.5 239.3ZM413.2 192.8 L423.7 184.2 L434.9 205.5 L424.3 214.8ZM402.1 174.9 L412.6 166.6 L423.7 184.2 L413.2 192.8ZM390.9 160.2 L401.5 152.5 L412.6 166.6 L402.1 174.9ZM379.8 148.3 L390.3 141.4 L401.5 152.5 L390.9 160.2ZM368.6 138.9 L379.2 132.9 L390.3 141.4 L379.8 148.3ZM357.5 131.5 L368 126.3 L379.2 132.9 L368.6 138.9ZM346.3 125.8 L356.9 121.1 L368 126.3 L357.5 131.5ZM335.2 121.1 L345.7 116.8 L356.9 121.1 L346.3 125.8ZM691.2 440.5 L701.8 436.8 L712.9 441.9 L702.4 445.6ZM680.1 435.4 L690.6 431.7 L701.8 436.8 L691.2 440.5ZM668.9 430.3 L679.5 426.6 L690.6 431.7 L680.1 435.4ZM657.8 425.2 L668.3 421.5 L679.5 426.6 L668.9 430.3ZM646.6 420.2 L657.2 416.4 L668.3 421.5 L657.8 425.2ZM635.5 415.1 L646 411.3 L657.2 416.4 L646.6 420.2ZM624.3 410 L634.9 406.3 L646 411.3 L635.5 415.1ZM613.2 404.9 L623.8 401.3 L634.9 406.3 L624.3 410ZM602.1 399.8 L612.6 396.1 L623.8 401.3 L613.2 404.9ZM590.9 394.6 L601.5 390.9 L612.6 396.1 L602.1 399.8ZM579.8 389.2 L590.3 385.3 L601.5 390.9 L590.9 394.6ZM568.6 383.5 L579.2 379.3 L590.3 385.3 L579.8 389.2ZM557.5 377.2 L568 372.8 L579.2 379.3 L568.6 383.5ZM546.3 370.2 L556.9 365.5 L568 372.8 L557.5 377.2ZM535.2 362.3 L545.7 357.2 L556.9 365.5 L546.3 370.2ZM524 353.2 L534.6 347.7 L545.7 357.2 L535.2 362.3ZM512.9 342.6 L523.5 336.7 L534.6 347.7 L524 353.2ZM501.8 330.3 L512.3 323.7 L523.5 336.7 L512.9 342.6ZM490.6 315.7 L501.2 308.5 L512.3 323.7 L501.8 330.3ZM479.5 298.4 L490 290.3 L501.2 308.5 L490.6 315.7ZM468.3 277.6 L478.9 268.9 L490 290.3 L479.5 298.4ZM457.2 254 L467.7 245.1 L478.9 268.9 L468.3 277.6ZM446 229.4 L456.6 220.5 L467.7 245.1 L457.2 254ZM434.9 205.5 L445.4 196.8 L456.6 220.5 L446 229.4ZM423.7 184.2 L434.3 176 L445.4 196.8 L434.9 205.5ZM412.6 166.6 L423.2 159.2 L434.3 176 L423.7 184.2ZM401.5 152.5 L412 145.8 L423.2 159.2 L412.6 166.6ZM390.3 141.4 L400.9 135.5 L412 145.8 L401.5 152.5ZM379.2 132.9 L389.7 127.6 L400.9 135.5 L390.3 141.4ZM368 126.3 L378.6 121.6 L389.7 127.6 L379.2 132.9ZM356.9 121.1 L367.4 116.9 L378.6 121.6 L368 126.3ZM345.7 116.8 L356.3 112.8 L367.4 116.9 L356.9 121.1ZM701.8 436.8 L712.3 433.1 L723.5 438.2 L712.9 441.9ZM690.6 431.7 L701.2 428 L712.3 433.1 L701.8 436.8ZM679.5 426.6 L690 422.9 L701.2 428 L690.6 431.7ZM668.3 421.5 L678.9 417.8 L690 422.9 L679.5 426.6ZM657.2 416.4 L667.7 412.7 L678.9 417.8 L668.3 421.5ZM646 411.3 L656.6 407.6 L667.7 412.7 L657.2 416.4ZM634.9 406.3 L645.5 402.6 L656.6 407.6 L646 411.3ZM623.8 401.3 L634.3 397.6 L645.5 402.6 L634.9 406.3ZM612.6 396.1 L623.2 392.4 L634.3 397.6 L623.8 401.3ZM601.5 390.9 L612 387 L623.2 392.4 L612.6 396.1ZM590.3 385.3 L600.9 381.3 L612 387 L601.5 390.9ZM579.2 379.3 L589.7 375 L600.9 381.3 L590.3 385.3ZM568 372.8 L578.6 368.2 L589.7 375 L579.2 379.3ZM556.9 365.5 L567.4 360.5 L578.6 368.2 L568 372.8ZM545.7 357.2 L556.3 351.9 L567.4 360.5 L556.9 365.5ZM534.6 347.7 L545.2 342 L556.3 351.9 L545.7 357.2ZM523.5 336.7 L534 330.5 L545.2 342 L534.6 347.7ZM512.3 323.7 L522.9 317.1 L534 330.5 L523.5 336.7ZM501.2 308.5 L511.7 301.3 L522.9 317.1 L512.3 323.7ZM490 290.3 L500.6 282.7 L511.7 301.3 L501.2 308.5ZM478.9 268.9 L489.4 261 L500.6 282.7 L490 290.3ZM467.7 245.1 L478.3 236.9 L489.4 261 L478.9 268.9ZM456.6 220.5 L467.1 212.4 L478.3 236.9 L467.7 245.1ZM445.4 196.8 L456 189.1 L467.1 212.4 L456.6 220.5ZM434.3 176 L444.9 168.8 L456 189.1 L445.4 196.8ZM423.2 159.2 L433.7 152.5 L444.9 168.8 L434.3 176ZM412 145.8 L422.6 139.8 L433.7 152.5 L423.2 159.2ZM400.9 135.5 L411.4 130.1 L422.6 139.8 L412 145.8ZM389.7 127.6 L400.3 122.7 L411.4 130.1 L400.9 135.5ZM378.6 121.6 L389.1 117.2 L400.3 122.7 L389.7 127.6ZM367.4 116.9 L378 112.8 L389.1 117.2 L378.6 121.6ZM356.3 112.8 L366.8 109 L378 112.8 L367.4 116.9ZM712.3 433.1 L722.9 429.4 L734 434.5 L723.5 438.2ZM701.2 428 L711.7 424.4 L722.9 429.4 L712.3 433.1ZM690 422.9 L700.6 419.3 L711.7 424.4 L701.2 428ZM678.9 417.8 L689.4 414.2 L700.6 419.3 L690 422.9ZM667.7 412.7 L678.3 409.1 L689.4 414.2 L678.9 417.8ZM656.6 407.6 L667.1 404.1 L678.3 409.1 L667.7 412.7ZM645.5 402.6 L656 399.1 L667.1 404.1 L656.6 407.6ZM634.3 397.6 L644.9 394 L656 399.1 L645.5 402.6ZM623.2 392.4 L633.7 388.7 L644.9 394 L634.3 397.6ZM612 387 L622.6 383.1 L633.7 388.7 L623.2 392.4ZM600.9 381.3 L611.4 377.1 L622.6 383.1 L612 387ZM589.7 375 L600.3 370.5 L611.4 377.1 L600.9 381.3ZM578.6 368.2 L589.1 363.3 L600.3 370.5 L589.7 375ZM567.4 360.5 L578 355.3 L589.1 363.3 L578.6 368.2ZM556.3 351.9 L566.8 346.3 L578 355.3 L567.4 360.5ZM545.2 342 L555.7 336 L566.8 346.3 L556.3 351.9ZM534 330.5 L544.6 324.1 L555.7 336 L545.2 342ZM522.9 317.1 L533.4 310.3 L544.6 324.1 L534 330.5ZM511.7 301.3 L522.3 294.2 L533.4 310.3 L522.9 317.1ZM500.6 282.7 L511.1 275.4 L522.3 294.2 L511.7 301.3ZM489.4 261 L500 253.4 L511.1 275.4 L500.6 282.7ZM478.3 236.9 L488.8 229.1 L500 253.4 L489.4 261ZM467.1 212.4 L477.7 204.6 L488.8 229.1 L478.3 236.9ZM456 189.1 L466.5 181.7 L477.7 204.6 L467.1 212.4ZM444.9 168.8 L455.4 162 L466.5 181.7 L456 189.1ZM433.7 152.5 L444.3 146.4 L455.4 162 L444.9 168.8ZM422.6 139.8 L433.1 134.3 L444.3 146.4 L433.7 152.5ZM411.4 130.1 L422 125.1 L433.1 134.3 L422.6 139.8ZM400.3 122.7 L410.8 118.2 L422 125.1 L411.4 130.1ZM389.1 117.2 L399.7 112.9 L410.8 118.2 L400.3 122.7ZM378 112.8 L388.5 108.6 L399.7 112.9 L389.1 117.2ZM366.8 109 L377.4 104.8 L388.5 108.6 L378 112.8ZM722.9 429.4 L733.4 425.8 L744.6 430.9 L734 434.5ZM711.7 424.4 L722.3 420.8 L733.4 425.8 L722.9 429.4ZM700.6 419.3 L711.1 415.8 L722.3 420.8 L711.7 424.4ZM689.4 414.2 L700 410.7 L711.1 415.8 L700.6 419.3ZM678.3 409.1 L688.8 405.7 L700 410.7 L689.4 414.2ZM667.1 404.1 L677.7 400.7 L688.8 405.7 L678.3 409.1ZM656 399.1 L666.6 395.8 L677.7 400.7 L667.1 404.1ZM644.9 394 L655.4 390.6 L666.6 395.8 L656 399.1ZM633.7 388.7 L644.3 385.2 L655.4 390.6 L644.9 394ZM622.6 383.1 L633.1 379.2 L644.3 385.2 L633.7 388.7ZM611.4 377.1 L622 372.7 L633.1 379.2 L622.6 383.1ZM600.3 370.5 L610.8 365.7 L622 372.7 L611.4 377.1ZM589.1 363.3 L599.7 358.2 L610.8 365.7 L600.3 370.5ZM578 355.3 L588.5 349.8 L599.7 358.2 L589.1 363.3ZM566.8 346.3 L577.4 340.5 L588.5 349.8 L578 355.3ZM555.7 336 L566.3 330 L577.4 340.5 L566.8 346.3ZM544.6 324.1 L555.1 317.7 L566.3 330 L555.7 336ZM533.4 310.3 L544 303.5 L555.1 317.7 L544.6 324.1ZM522.3 294.2 L532.8 286.8 L544 303.5 L533.4 310.3ZM511.1 275.4 L521.7 267.5 L532.8 286.8 L522.3 294.2ZM500 253.4 L510.5 245.3 L521.7 267.5 L511.1 275.4ZM488.8 229.1 L499.4 221.3 L510.5 245.3 L500 253.4ZM477.7 204.6 L488.2 197.2 L499.4 221.3 L488.8 229.1ZM466.5 181.7 L477.1 174.6 L488.2 197.2 L477.7 204.6ZM455.4 162 L466 155.5 L477.1 174.6 L466.5 181.7ZM444.3 146.4 L454.8 140.7 L466 155.5 L455.4 162ZM433.1 134.3 L443.7 129.4 L454.8 140.7 L444.3 146.4ZM422 125.1 L432.5 120.7 L443.7 129.4 L433.1 134.3ZM410.8 118.2 L421.4 114.1 L432.5 120.7 L422 125.1ZM399.7 112.9 L410.2 108.9 L421.4 114.1 L410.8 118.2ZM388.5 108.6 L399.1 104.6 L410.2 108.9 L399.7 112.9ZM377.4 104.8 L387.9 100.7 L399.1 104.6 L388.5 108.6ZM733.4 425.8 L744 422 L755.1 427.2 L744.6 430.9ZM722.3 420.8 L732.8 417 L744 422 L733.4 425.8ZM711.1 415.8 L721.7 412 L732.8 417 L722.3 420.8ZM700 410.7 L710.5 406.9 L721.7 412 L711.1 415.8ZM688.8 405.7 L699.4 401.9 L710.5 406.9 L700 410.7ZM677.7 400.7 L688.3 396.9 L699.4 401.9 L688.8 405.7ZM666.6 395.8 L677.1 392 L688.3 396.9 L677.7 400.7ZM655.4 390.6 L666 386.9 L677.1 392 L666.6 395.8ZM644.3 385.2 L654.8 381.3 L666 386.9 L655.4 390.6ZM633.1 379.2 L643.7 374.9 L654.8 381.3 L644.3 385.2ZM622 372.7 L632.5 368 L643.7 374.9 L633.1 379.2ZM610.8 365.7 L621.4 360.6 L632.5 368 L622 372.7ZM599.7 358.2 L610.2 352.7 L621.4 360.6 L610.8 365.7ZM588.5 349.8 L599.1 344.2 L610.2 352.7 L599.7 358.2ZM577.4 340.5 L588 334.7 L599.1 344.2 L588.5 349.8ZM566.3 330 L576.8 324 L588 334.7 L577.4 340.5ZM555.1 317.7 L565.7 311.6 L576.8 324 L566.3 330ZM544 303.5 L554.5 297 L565.7 311.6 L555.1 317.7ZM532.8 286.8 L543.4 279.9 L554.5 297 L544 303.5ZM521.7 267.5 L532.2 260.1 L543.4 279.9 L532.8 286.8ZM510.5 245.3 L521.1 237.8 L532.2 260.1 L521.7 267.5ZM499.4 221.3 L509.9 214 L521.1 237.8 L510.5 245.3ZM488.2 197.2 L498.8 190.4 L509.9 214 L499.4 221.3ZM477.1 174.6 L487.7 168.6 L498.8 190.4 L488.2 197.2ZM466 155.5 L476.5 150.3 L487.7 168.6 L477.1 174.6ZM454.8 140.7 L465.4 136 L476.5 150.3 L466 155.5ZM443.7 129.4 L454.2 125.2 L465.4 136 L454.8 140.7ZM432.5 120.7 L443.1 116.9 L454.2 125.2 L443.7 129.4ZM421.4 114.1 L431.9 110.5 L443.1 116.9 L432.5 120.7ZM410.2 108.9 L420.8 105.3 L431.9 110.5 L421.4 114.1ZM399.1 104.6 L409.6 100.9 L420.8 105.3 L410.2 108.9ZM387.9 100.7 L398.5 96.8 L409.6 100.9 L399.1 104.6ZM744 422 L754.5 417.8 L765.7 423.1 L755.1 427.2ZM732.8 417 L743.4 412.6 L754.5 417.8 L744 422ZM721.7 412 L732.2 407.6 L743.4 412.6 L732.8 417ZM710.5 406.9 L721.1 402.6 L732.2 407.6 L721.7 412ZM699.4 401.9 L710 397.5 L721.1 402.6 L710.5 406.9ZM688.3 396.9 L698.8 392.5 L710 397.5 L699.4 401.9ZM677.1 392 L687.7 387.5 L698.8 392.5 L688.3 396.9ZM666 386.9 L676.5 382.3 L687.7 387.5 L677.1 392ZM654.8 381.3 L665.4 376.5 L676.5 382.3 L666 386.9ZM643.7 374.9 L654.2 369.9 L665.4 376.5 L654.8 381.3ZM632.5 368 L643.1 362.7 L654.2 369.9 L643.7 374.9ZM621.4 360.6 L631.9 355.1 L643.1 362.7 L632.5 368ZM610.2 352.7 L620.8 347.1 L631.9 355.1 L621.4 360.6ZM599.1 344.2 L609.7 338.5 L620.8 347.1 L610.2 352.7ZM588 334.7 L598.5 329.1 L609.7 338.5 L599.1 344.2ZM576.8 324 L587.4 318.5 L598.5 329.1 L588 334.7ZM565.7 311.6 L576.2 306.2 L587.4 318.5 L576.8 324ZM554.5 297 L565.1 291.4 L576.2 306.2 L565.7 311.6ZM543.4 279.9 L553.9 273.9 L565.1 291.4 L554.5 297ZM532.2 260.1 L542.8 253.7 L553.9 273.9 L543.4 279.9ZM521.1 237.8 L531.6 231.1 L542.8 253.7 L532.2 260.1ZM509.9 214 L520.5 207.3 L531.6 231.1 L521.1 237.8ZM498.8 190.4 L509.4 184.1 L520.5 207.3 L509.9 214ZM487.7 168.6 L498.2 162.9 L509.4 184.1 L498.8 190.4ZM476.5 150.3 L487.1 145.3 L498.2 162.9 L487.7 168.6ZM465.4 136 L475.9 131.9 L487.1 145.3 L476.5 150.3ZM454.2 125.2 L464.8 121.7 L475.9 131.9 L465.4 136ZM443.1 116.9 L453.6 113.7 L464.8 121.7 L454.2 125.2ZM431.9 110.5 L442.5 107.3 L453.6 113.7 L443.1 116.9ZM420.8 105.3 L431.3 102 L442.5 107.3 L431.9 110.5ZM409.6 100.9 L420.2 97.4 L431.3 102 L420.8 105.3ZM398.5 96.8 L409.1 93 L420.2 97.4 L409.6 100.9ZM754.5 417.8 L765.1 413.2 L776.2 418.9 L765.7 423.1ZM743.4 412.6 L753.9 407.9 L765.1 413.2 L754.5 417.8ZM732.2 407.6 L742.8 402.8 L753.9 407.9 L743.4 412.6ZM721.1 402.6 L731.6 397.8 L742.8 402.8 L732.2 407.6ZM710 397.5 L720.5 392.7 L731.6 397.8 L721.1 402.6ZM698.8 392.5 L709.4 387.5 L720.5 392.7 L710 397.5ZM687.7 387.5 L698.2 382.3 L709.4 387.5 L698.8 392.5ZM676.5 382.3 L687.1 376.9 L698.2 382.3 L687.7 387.5ZM665.4 376.5 L675.9 370.9 L687.1 376.9 L676.5 382.3ZM654.2 369.9 L664.8 364.4 L675.9 370.9 L665.4 376.5ZM643.1 362.7 L653.6 357.2 L664.8 364.4 L654.2 369.9ZM631.9 355.1 L642.5 349.6 L653.6 357.2 L643.1 362.7ZM620.8 347.1 L631.3 341.6 L642.5 349.6 L631.9 355.1ZM609.7 338.5 L620.2 333.2 L631.3 341.6 L620.8 347.1ZM598.5 329.1 L609.1 323.9 L620.2 333.2 L609.7 338.5ZM587.4 318.5 L597.9 313.8 L609.1 323.9 L598.5 329.1ZM576.2 306.2 L586.8 301.9 L597.9 313.8 L587.4 318.5ZM565.1 291.4 L575.6 287.3 L586.8 301.9 L576.2 306.2ZM553.9 273.9 L564.5 269.2 L575.6 287.3 L565.1 291.4ZM542.8 253.7 L553.3 247.9 L564.5 269.2 L553.9 273.9ZM531.6 231.1 L542.2 224.9 L553.3 247.9 L542.8 253.7ZM520.5 207.3 L531 201.4 L542.2 224.9 L531.6 231.1ZM509.4 184.1 L519.9 178.3 L531 201.4 L520.5 207.3ZM498.2 162.9 L508.8 157.6 L519.9 178.3 L509.4 184.1ZM487.1 145.3 L497.6 141 L508.8 157.6 L498.2 162.9ZM475.9 131.9 L486.5 128.4 L497.6 141 L487.1 145.3ZM464.8 121.7 L475.3 118.7 L486.5 128.4 L475.9 131.9ZM453.6 113.7 L464.2 110.9 L475.3 118.7 L464.8 121.7ZM442.5 107.3 L453 104.5 L464.2 110.9 L453.6 113.7ZM431.3 102 L441.9 99 L453 104.5 L442.5 107.3ZM420.2 97.4 L430.7 94 L441.9 99 L431.3 102ZM409.1 93 L419.6 89.3 L430.7 94 L420.2 97.4ZM765.1 413.2 L775.6 409.2 L786.8 415.3 L776.2 418.9ZM753.9 407.9 L764.5 403.6 L775.6 409.2 L765.1 413.2ZM742.8 402.8 L753.3 398.5 L764.5 403.6 L753.9 407.9ZM731.6 397.8 L742.2 393.5 L753.3 398.5 L742.8 402.8ZM720.5 392.7 L731.1 388.3 L742.2 393.5 L731.6 397.8ZM709.4 387.5 L719.9 382.9 L731.1 388.3 L720.5 392.7ZM698.2 382.3 L708.8 377.4 L719.9 382.9 L709.4 387.5ZM687.1 376.9 L697.6 371.8 L708.8 377.4 L698.2 382.3ZM675.9 370.9 L686.5 365.8 L697.6 371.8 L687.1 376.9ZM664.8 364.4 L675.3 359.4 L686.5 365.8 L675.9 370.9ZM653.6 357.2 L664.2 352.2 L675.3 359.4 L664.8 364.4ZM642.5 349.6 L653 344.7 L664.2 352.2 L653.6 357.2ZM631.3 341.6 L641.9 337.1 L653 344.7 L642.5 349.6ZM620.2 333.2 L630.8 328.8 L641.9 337.1 L631.3 341.6ZM609.1 323.9 L619.6 319.7 L630.8 328.8 L620.2 333.2ZM597.9 313.8 L608.5 310.1 L619.6 319.7 L609.1 323.9ZM586.8 301.9 L597.3 299 L608.5 310.1 L597.9 313.8ZM575.6 287.3 L586.2 284.8 L597.3 299 L586.8 301.9ZM564.5 269.2 L575 266.6 L586.2 284.8 L575.6 287.3ZM553.3 247.9 L563.9 244.4 L575 266.6 L564.5 269.2ZM542.2 224.9 L552.7 220.9 L563.9 244.4 L553.3 247.9ZM531 201.4 L541.6 196.8 L552.7 220.9 L542.2 224.9ZM519.9 178.3 L530.5 173.1 L541.6 196.8 L531 201.4ZM508.8 157.6 L519.3 152.5 L530.5 173.1 L519.9 178.3ZM497.6 141 L508.2 136.7 L519.3 152.5 L508.8 157.6ZM486.5 128.4 L497 125.3 L508.2 136.7 L497.6 141ZM475.3 118.7 L485.9 115.9 L497 125.3 L486.5 128.4ZM464.2 110.9 L474.7 108.1 L485.9 115.9 L475.3 118.7ZM453 104.5 L463.6 101.6 L474.7 108.1 L464.2 110.9ZM441.9 99 L452.4 96 L463.6 101.6 L453 104.5ZM430.7 94 L441.3 90.7 L452.4 96 L441.9 99ZM419.6 89.3 L430.2 85.6 L441.3 90.7 L430.7 94ZM775.6 409.2 L786.2 406.6 L797.3 413.3 L786.8 415.3ZM764.5 403.6 L775 400.7 L786.2 406.6 L775.6 409.2ZM753.3 398.5 L763.9 395.4 L775 400.7 L764.5 403.6ZM742.2 393.5 L752.8 390.3 L763.9 395.4 L753.3 398.5ZM731.1 388.3 L741.6 385 L752.8 390.3 L742.2 393.5ZM719.9 382.9 L730.5 379.6 L741.6 385 L731.1 388.3ZM708.8 377.4 L719.3 373.9 L730.5 379.6 L719.9 382.9ZM697.6 371.8 L708.2 368.1 L719.3 373.9 L708.8 377.4ZM686.5 365.8 L697 361.9 L708.2 368.1 L697.6 371.8ZM675.3 359.4 L685.9 355.5 L697 361.9 L686.5 365.8ZM664.2 352.2 L674.7 348.6 L685.9 355.5 L675.3 359.4ZM653 344.7 L663.6 341.6 L674.7 348.6 L664.2 352.2ZM641.9 337.1 L652.5 334.5 L663.6 341.6 L653 344.7ZM630.8 328.8 L641.3 326.6 L652.5 334.5 L641.9 337.1ZM619.6 319.7 L630.2 317.7 L641.3 326.6 L630.8 328.8ZM608.5 310.1 L619 308 L630.2 317.7 L619.6 319.7ZM597.3 299 L607.9 296.6 L619 308 L608.5 310.1ZM586.2 284.8 L596.7 281.9 L607.9 296.6 L597.3 299ZM575 266.6 L585.6 263.1 L596.7 281.9 L586.2 284.8ZM563.9 244.4 L574.4 240.6 L585.6 263.1 L575 266.6ZM552.7 220.9 L563.3 216.6 L574.4 240.6 L563.9 244.4ZM541.6 196.8 L552.2 192.3 L563.3 216.6 L552.7 220.9ZM530.5 173.1 L541 168.8 L552.2 192.3 L541.6 196.8ZM519.3 152.5 L529.9 148.6 L541 168.8 L530.5 173.1ZM508.2 136.7 L518.7 133 L529.9 148.6 L519.3 152.5ZM497 125.3 L507.6 121.3 L518.7 133 L508.2 136.7ZM485.9 115.9 L496.4 111.9 L507.6 121.3 L497 125.3ZM474.7 108.1 L485.3 104.2 L496.4 111.9 L485.9 115.9ZM463.6 101.6 L474.1 97.8 L485.3 104.2 L474.7 108.1ZM452.4 96 L463 92.3 L474.1 97.8 L463.6 101.6ZM441.3 90.7 L451.9 87 L463 92.3 L452.4 96ZM430.2 85.6 L440.7 81.9 L451.9 87 L441.3 90.7ZM786.2 406.6 L796.7 405.2 L807.9 411.5 L797.3 413.3ZM775 400.7 L785.6 399.5 L796.7 405.2 L786.2 406.6ZM763.9 395.4 L774.4 394.1 L785.6 399.5 L775 400.7ZM752.8 390.3 L763.3 388.8 L774.4 394.1 L763.9 395.4ZM741.6 385 L752.2 383.7 L763.3 388.8 L752.8 390.3ZM730.5 379.6 L741 378.4 L752.2 383.7 L741.6 385ZM719.3 373.9 L729.9 372.7 L741 378.4 L730.5 379.6ZM708.2 368.1 L718.7 366.5 L729.9 372.7 L719.3 373.9ZM697 361.9 L707.6 360.1 L718.7 366.5 L708.2 368.1ZM685.9 355.5 L696.4 353.5 L707.6 360.1 L697 361.9ZM674.7 348.6 L685.3 347.1 L696.4 353.5 L685.9 355.5ZM663.6 341.6 L674.2 340.8 L685.3 347.1 L674.7 348.6ZM652.5 334.5 L663 334.2 L674.2 340.8 L663.6 341.6ZM641.3 326.6 L651.9 326.7 L663 334.2 L652.5 334.5ZM630.2 317.7 L640.7 318.1 L651.9 326.7 L641.3 326.6ZM619 308 L629.6 307.8 L640.7 318.1 L630.2 317.7ZM607.9 296.6 L618.4 295.2 L629.6 307.8 L619 308ZM596.7 281.9 L607.3 279.2 L618.4 295.2 L607.9 296.6ZM585.6 263.1 L596.1 259.4 L607.3 279.2 L596.7 281.9ZM574.4 240.6 L585 236.3 L596.1 259.4 L585.6 263.1ZM563.3 216.6 L573.9 212.1 L585 236.3 L574.4 240.6ZM552.2 192.3 L562.7 187.9 L573.9 212.1 L563.3 216.6ZM541 168.8 L551.6 164.8 L562.7 187.9 L552.2 192.3ZM529.9 148.6 L540.4 144.5 L551.6 164.8 L541 168.8ZM518.7 133 L529.3 128.3 L540.4 144.5 L529.9 148.6ZM507.6 121.3 L518.1 116.1 L529.3 128.3 L518.7 133ZM496.4 111.9 L507 106.8 L518.1 116.1 L507.6 121.3ZM485.3 104.2 L495.8 99.4 L507 106.8 L496.4 111.9ZM474.1 97.8 L484.7 93.3 L495.8 99.4 L485.3 104.2ZM463 92.3 L473.6 87.9 L484.7 93.3 L474.1 97.8ZM451.9 87 L462.4 82.9 L473.6 87.9 L463 92.3ZM440.7 81.9 L451.3 77.9 L462.4 82.9 L451.9 87ZM796.7 405.2 L807.3 405.8 L818.4 411.4 L807.9 411.5ZM785.6 399.5 L796.1 400.5 L807.3 405.8 L796.7 405.2ZM774.4 394.1 L785 395.2 L796.1 400.5 L785.6 399.5ZM763.3 388.8 L773.9 389.9 L785 395.2 L774.4 394.1ZM752.2 383.7 L762.7 384.8 L773.9 389.9 L763.3 388.8ZM741 378.4 L751.6 379.7 L762.7 384.8 L752.2 383.7ZM729.9 372.7 L740.4 374.2 L751.6 379.7 L741 378.4ZM718.7 366.5 L729.3 368 L740.4 374.2 L729.9 372.7ZM707.6 360.1 L718.1 361.4 L729.3 368 L718.7 366.5ZM696.4 353.5 L707 354.5 L718.1 361.4 L707.6 360.1ZM685.3 347.1 L695.8 348.3 L707 354.5 L696.4 353.5ZM674.2 340.8 L684.7 342.4 L695.8 348.3 L685.3 347.1ZM663 334.2 L673.6 336.1 L684.7 342.4 L674.2 340.8ZM651.9 326.7 L662.4 328.8 L673.6 336.1 L663 334.2ZM640.7 318.1 L651.3 320 L662.4 328.8 L651.9 326.7ZM629.6 307.8 L640.1 309.3 L651.3 320 L640.7 318.1ZM618.4 295.2 L629 295.9 L640.1 309.3 L629.6 307.8ZM607.3 279.2 L617.8 279.2 L629 295.9 L618.4 295.2ZM596.1 259.4 L606.7 258.8 L617.8 279.2 L607.3 279.2ZM585 236.3 L595.5 235.4 L606.7 258.8 L596.1 259.4ZM573.9 212.1 L584.4 210.4 L595.5 235.4 L585 236.3ZM562.7 187.9 L573.3 185.4 L584.4 210.4 L573.9 212.1ZM551.6 164.8 L562.1 161.7 L573.3 185.4 L562.7 187.9ZM540.4 144.5 L551 140.8 L562.1 161.7 L551.6 164.8ZM529.3 128.3 L539.8 123.9 L551 140.8 L540.4 144.5ZM518.1 116.1 L528.7 111.3 L539.8 123.9 L529.3 128.3ZM507 106.8 L517.5 102.1 L528.7 111.3 L518.1 116.1ZM495.8 99.4 L506.4 95 L517.5 102.1 L507 106.8ZM484.7 93.3 L495.2 89.1 L506.4 95 L495.8 99.4ZM473.6 87.9 L484.1 83.8 L495.2 89.1 L484.7 93.3ZM462.4 82.9 L473 78.9 L484.1 83.8 L473.6 87.9ZM451.3 77.9 L461.8 74 L473 78.9 L462.4 82.9ZM807.3 405.8 L817.8 409.9 L829 415.3 L818.4 411.4ZM796.1 400.5 L806.7 404.5 L817.8 409.9 L807.3 405.8ZM785 395.2 L795.6 399 L806.7 404.5 L796.1 400.5ZM773.9 389.9 L784.4 393.6 L795.6 399 L785 395.2ZM762.7 384.8 L773.3 388.3 L784.4 393.6 L773.9 389.9ZM751.6 379.7 L762.1 383.2 L773.3 388.3 L762.7 384.8ZM740.4 374.2 L751 378 L762.1 383.2 L751.6 379.7ZM729.3 368 L739.8 372.4 L751 378 L740.4 374.2ZM718.1 361.4 L728.7 366.1 L739.8 372.4 L729.3 368ZM707 354.5 L717.5 359.5 L728.7 366.1 L718.1 361.4ZM695.8 348.3 L706.4 352.7 L717.5 359.5 L707 354.5ZM684.7 342.4 L695.3 346.4 L706.4 352.7 L695.8 348.3ZM673.6 336.1 L684.1 339.7 L695.3 346.4 L684.7 342.4ZM662.4 328.8 L673 331.9 L684.1 339.7 L673.6 336.1ZM651.3 320 L661.8 322.7 L673 331.9 L662.4 328.8ZM640.1 309.3 L650.7 311.9 L661.8 322.7 L651.3 320ZM629 295.9 L639.5 298.4 L650.7 311.9 L640.1 309.3ZM617.8 279.2 L628.4 281.5 L639.5 298.4 L629 295.9ZM606.7 258.8 L617.2 261.3 L628.4 281.5 L617.8 279.2ZM595.5 235.4 L606.1 237.3 L617.2 261.3 L606.7 258.8ZM584.4 210.4 L595 211.4 L606.1 237.3 L595.5 235.4ZM573.3 185.4 L583.8 185.3 L595 211.4 L584.4 210.4ZM562.1 161.7 L572.7 160.5 L583.8 185.3 L573.3 185.4ZM551 140.8 L561.5 138.6 L572.7 160.5 L562.1 161.7ZM539.8 123.9 L550.4 120.9 L561.5 138.6 L551 140.8ZM528.7 111.3 L539.2 108.1 L550.4 120.9 L539.8 123.9ZM517.5 102.1 L528.1 99.1 L539.2 108.1 L528.7 111.3ZM506.4 95 L516.9 92.2 L528.1 99.1 L517.5 102.1ZM495.2 89.1 L505.8 86.1 L516.9 92.2 L506.4 95ZM484.1 83.8 L494.7 80.5 L505.8 86.1 L495.2 89.1ZM473 78.9 L483.5 75.1 L494.7 80.5 L484.1 83.8ZM461.8 74 L472.4 70.1 L483.5 75.1 L473 78.9ZM806.7 404.5 L817.3 409.4 L828.4 414.9 L817.8 409.9ZM795.6 399 L806.1 403.8 L817.3 409.4 L806.7 404.5ZM784.4 393.6 L795 398.2 L806.1 403.8 L795.6 399ZM773.3 388.3 L783.8 392.6 L795 398.2 L784.4 393.6ZM762.1 383.2 L772.7 387.1 L783.8 392.6 L773.3 388.3ZM751 378 L761.5 381.9 L772.7 387.1 L762.1 383.2ZM739.8 372.4 L750.4 376.7 L761.5 381.9 L751 378ZM728.7 366.1 L739.2 371 L750.4 376.7 L739.8 372.4ZM717.5 359.5 L728.1 364.7 L739.2 371 L728.7 366.1ZM706.4 352.7 L717 358.1 L728.1 364.7 L717.5 359.5ZM695.3 346.4 L705.8 351.1 L717 358.1 L706.4 352.7ZM684.1 339.7 L694.7 343.6 L705.8 351.1 L695.3 346.4ZM673 331.9 L683.5 335 L694.7 343.6 L684.1 339.7ZM661.8 322.7 L672.4 325 L683.5 335 L673 331.9ZM650.7 311.9 L661.2 314.2 L672.4 325 L661.8 322.7ZM639.5 298.4 L650.1 300.9 L661.2 314.2 L650.7 311.9ZM628.4 281.5 L638.9 283.8 L650.1 300.9 L639.5 298.4ZM617.2 261.3 L627.8 265.1 L638.9 283.8 L628.4 281.5ZM606.1 237.3 L616.7 241.7 L627.8 265.1 L617.2 261.3ZM595 211.4 L605.5 214.9 L616.7 241.7 L606.1 237.3ZM583.8 185.3 L594.4 187.3 L605.5 214.9 L595 211.4ZM572.7 160.5 L583.2 162 L594.4 187.3 L583.8 185.3ZM561.5 138.6 L572.1 139.3 L583.2 162 L572.7 160.5ZM550.4 120.9 L560.9 121 L572.1 139.3 L561.5 138.6ZM539.2 108.1 L549.8 107.7 L560.9 121 L550.4 120.9ZM528.1 99.1 L538.6 98.6 L549.8 107.7 L539.2 108.1ZM516.9 92.2 L527.5 91.4 L538.6 98.6 L528.1 99.1ZM505.8 86.1 L516.4 84.6 L527.5 91.4 L516.9 92.2ZM494.7 80.5 L505.2 78.2 L516.4 84.6 L505.8 86.1ZM483.5 75.1 L494.1 72 L505.2 78.2 L494.7 80.5ZM472.4 70.1 L482.9 66.7 L494.1 72 L483.5 75.1Z" fill="#fff" fill-opacity="0.4" stroke="none"/>
<g fill="none" stroke-width="8.2">
<path d="M222.8 424.6 L225.7 423.8 L228.6 423.4 L231.4 423 L234.3 422.6 L237.2 422 L240 421.2 L242.9 420.2 L245.8 419 L248.6 417.5 L251.5 415.8 L254.4 413.8 L257.3 411.6 L260.1 409.1 L263 406.4 L265.9 403.3 L268.7 399.9 L271.6 396.2 L274.5 392.3 L277.3 388.4 L280.2 384.5 L283.1 380.6 L285.9 376.7 L288.8 372.9 L291.7 369.3 L294.5 365.6 L297.4 362 L300.3 358.4 L303.1 354.7 L306 350.9 L308.9 347.1 L311.7 343.2 L314.6 339.3 L317.5 335.3 L320.3 331.3 L323.2 327.4 L326.1 323.6 L329 320.1 L331.8 316.4 L334.7 312.4 L337.6 308.2 L340.4 303.7 L343.3 299.3 L346.2 294.9 L349 290.4 L351.9 285.9 L354.8 281.4 L357.6 276.9 L360.5 272.4 L363.4 267.9 L366.2 263.6 L369.1 259.4 L372 255.2 L374.8 251.1 L377.7 246.9 L380.6 242.9 L383.4 238.9 L386.3 235.1 L389.2 231.4 L392 227.7 L394.9 224.3 L397.8 220.9 L400.7 216.9 L403.5 212.7 L406.4 209 L409.3 205.7 L412.1 202.8 L415 200 L417.9 197.4 L420.7 195 L423.6 192.7 L426.5 190.4 L429.3 188 L432.2 185.7 L435.1 183.4 L437.9 181.2 L440.8 179.2 L443.7 177.2 L446.5 175.3 L449.4 173.4 L452.3 171.5 L455.1 169.6 L458 167.7 L460.9 165.7 L463.8 163.9 L466.6 162 L469.5 160.3 L472.4 158.8 L475.2 157.3 L478.1 155.9 L481 154.5 L483.8 153 L486.7 151.6 L489.6 150.3 L492.4 149 L495.3 147.7 L498.2 146.5 L501 145.2 L503.9 144 L506.8 142.7 L509.6 141.4 L512.5 140.1 L515.4 139.2 L518.2 138.3 L521.1 137.3 L524 136.2 L526.8 135 L529.7 133.7 L532.6 132.4 L535.5 131.1 L538.3 130 L541.2 128.9 L544.1 127.9 L546.9 127.1 L549.8 126.3 L552.7 125.6 L555.5 125.1 L558.4 124.9 L561.3 125 L564.1 125.6" stroke="#c8c32c"/>
<path d="M275.2 417.4 L278.1 417.2 L280.9 417.7 L283.8 418.3 L286.6 419 L289.4 419.5 L292.3 419.8 L295.1 419.8 L297.9 419.6 L300.8 419.2 L303.6 418.4 L306.5 417.3 L309.3 415.9 L312.1 414.4 L315 412.7 L317.8 411 L320.6 409.4 L323.5 407.4 L326.3 405 L329.2 402.5 L332 400.2 L334.8 398.1 L337.7 395.9 L340.5 393.8 L343.3 391.7 L346.2 389.7 L349 387.6 L351.9 385.5 L354.7 383.5 L357.5 381.4 L360.4 379.4 L363.2 377.4 L366 375.4 L368.9 373.4 L371.7 371.5 L374.6 369.6 L377.4 367.8 L380.2 366 L383.1 364.1 L385.9 362.2 L388.8 360.2 L391.6 358.2 L394.4 356.2 L397.3 354.2 L400.1 352.1 L402.9 350 L405.8 347.8 L408.6 345.7 L411.5 343.5 L414.3 341.1 L417.1 338.8 L420 336.4 L422.8 334 L425.6 331.7 L428.5 329.3 L431.3 327 L434.2 324.8 L437 322.7 L439.8 320.7 L442.7 318.6 L445.5 316.2 L448.3 313.8 L451.2 311.4 L454 309 L456.9 306.7 L459.7 304.5 L462.5 302.2 L465.4 299.9 L468.2 297.7 L471 295.5 L473.9 293.3 L476.7 291.1 L479.6 288.8 L482.4 286.5 L485.2 284.3 L488.1 282.2 L490.9 280.1 L493.7 278 L496.6 276 L499.4 274 L502.3 272.1 L505.1 270.1 L507.9 268 L510.8 265.9 L513.6 263.7 L516.4 261.5 L519.3 259.4 L522.1 257.3 L525 255.3 L527.8 253.4 L530.6 251.5 L533.5 249.7 L536.3 248 L539.1 246.3 L542 244.6 L544.8 242.9 L547.7 241.3 L550.5 239.9 L553.3 238.6 L556.2 237.4 L559 236.6 L561.8 236.3 L564.7 235.8 L567.5 234.5 L570.4 232.8 L573.2 231.1 L576 229.8 L578.9 228.8 L581.7 228.1 L584.5 227.6 L587.4 227.3 L590.2 227.1 L593.1 227.1 L595.9 227.4 L598.7 227.8 L601.6 228.5 L604.4 229.3 L607.2 230.4 L610.1 231.7 L612.9 232.9" stroke="#662d91"/>
<path d="M550.1 497.9 L547.1 496.7 L544.1 495.4 L541.1 494.2 L538.1 492.9 L535.1 491.6 L532.1 490.3 L529.1 489 L526.1 487.7 L523.1 486.4 L520.1 485.1 L517.1 483.8 L514.1 482.5 L511.1 481.2 L508.1 479.9 L505.1 478.7 L502.2 477.4 L499.2 476.2 L496.2 474.9 L493.2 473.7 L490.2 472.4 L487.2 471.1 L484.2 469.9 L481.2 468.6 L478.2 467.4 L475.2 466.2 L472.2 464.9 L469.2 463.6 L466.2 462.3 L463.2 461.1 L460.2 459.9 L457.2 458.7 L454.2 457.5 L451.2 456.3 L448.2 455.1 L445.2 453.9 L442.2 452.7 L439.2 451.6 L436.2 450.5 L433.2 449.3 L430.2 448.2 L427.2 447.1 L424.2 446 L421.2 444.9 L418.2 443.8 L415.2 442.7 L412.2 441.6 L409.3 440.5 L406.3 439.4 L403.3 438.3 L400.3 437.2 L397.3 436.1 L394.3 434.9 L391.3 433.8 L388.3 432.7 L385.3 431.5 L382.3 430.4 L379.3 429.2 L376.3 428.1 L373.3 427 L370.3 425.8 L367.3 424.7 L364.3 423.6 L361.3 422.4 L358.3 421.3 L355.3 420.2 L352.3 419 L349.3 417.9 L346.3 416.8 L343.3 415.6 L340.3 414.4 L337.3 413.1 L334.3 411.7 L331.3 410.3 L328.3 409 L325.3 407.9 L322.3 407.1 L319.3 406.4 L316.3 405.6 L313.4 404.7 L310.4 403.7 L307.4 402.8 L304.4 401.8 L301.4 400.8 L298.4 399.8 L295.4 398.8 L292.4 397.7 L289.4 396.6 L286.4 395.6 L283.4 394.6 L280.4 393.6 L277.4 392.7 L274.4 391.9 L271.4 391.2 L268.4 390.5 L265.4 389.9 L262.4 389.4 L259.4 388.7 L256.4 388 L253.4 387.5 L250.4 387 L247.4 386.7 L244.4 386.5 L241.4 386.3 L238.4 386.3 L235.4 386.4 L232.4 386.7 L229.4 387 L226.4 387.4 L223.4 388 L220.5 388.7 L217.5 389.5 L214.5 390.4 L211.5 391.5 L208.5 392.7 L205.5 394.2 L202.5 395.7 L199.5 397.3 L196.5 398.7 L193.5 399.9" stroke="#1c75bc"/>
<path d="M791.3 414.2 L788.3 412.5 L785.3 410.8 L782.3 409 L779.3 407.4 L776.3 405.7 L773.3 404.2 L770.3 402.8 L767.3 401.4 L764.3 400 L761.3 398.6 L758.3 397.2 L755.3 395.9 L752.3 394.5 L749.3 393.1 L746.3 391.8 L743.4 390.4 L740.4 389 L737.4 387.6 L734.4 386.1 L731.4 384.7 L728.4 383.2 L725.4 381.7 L722.4 380.2 L719.4 378.7 L716.4 377.2 L713.4 375.7 L710.4 374.2 L707.4 372.7 L704.4 371.2 L701.4 369.6 L698.4 368 L695.4 366.4 L692.4 364.8 L689.4 363.1 L686.4 361.4 L683.4 359.7 L680.4 357.9 L677.4 356.1 L674.4 354.2 L671.4 352.2 L668.4 350.2 L665.4 348.2 L662.4 346.2 L659.4 344.2 L656.4 342.3 L653.4 340.3 L650.5 338.4 L647.5 336.4 L644.5 334.3 L641.5 332.2 L638.5 330 L635.5 327.7 L632.5 325.4 L629.5 322.9 L626.5 320.4 L623.5 317.8 L620.5 315.2 L617.5 312.7 L614.5 310.2 L611.5 307.6 L608.5 304.8 L605.5 301.9 L602.5 298.7 L599.5 295.3 L596.5 291.6 L593.5 287.7 L590.5 283.5 L587.5 278.9 L584.5 274.1 L581.5 269 L578.5 263.6 L575.5 258 L572.5 252 L569.5 245.9 L566.5 239.7 L563.5 233.3 L560.5 226.7 L557.5 220.2 L554.6 213.7 L551.6 207.1 L548.6 200.5 L545.6 193.8 L542.6 187.2 L539.6 180.7 L536.6 174.4 L533.6 168.3 L530.6 162.5 L527.6 157 L524.6 151.9 L521.6 147.1 L518.6 142.7 L515.6 138.7 L512.6 135.1 L509.6 131.9 L506.6 128.8 L503.6 125.8 L500.6 123 L497.6 120.3 L494.6 117.7 L491.6 115.3 L488.6 113.1 L485.6 110.9 L482.6 108.8 L479.6 106.9 L476.6 105 L473.6 103.2 L470.6 101.5 L467.6 99.9 L464.6 98.3 L461.7 96.8 L458.7 95.4 L455.7 93.9 L452.7 92.5 L449.7 91.1 L446.7 89.6 L443.7 88.2 L440.7 86.8 L437.7 85.4 L434.7 84.1" stroke="#63051a"/>
</g>
<path d="M515.8 84.5V297.3" stroke="#63051a" stroke-width="7.8" fill="none"/>
<g class="mesh">
<path d="M501.9 488.3 L498.1 486.6 L494.4 485 L490.7 483.4 L487 481.9 L483.3 480.4 L479.6 478.9 L475.9 477.4 L472.1 476 L468.4 474.5 L464.7 473.1 L461 471.7 L457.3 470.3 L453.6 468.9 L449.9 467.5 L446.1 466.2 L442.4 464.8 L438.7 463.6 L435 462.3 L431.3 461 L427.6 459.8 L423.8 458.5 L420.1 457.2 L416.4 456 L412.7 454.7 L409 453.4 L405.3 452.2 L401.6 450.9 L397.8 449.6 L394.1 448.3 L390.4 447 L386.7 445.7 L383 444.4 L379.3 443 L375.6 441.8 L371.8 440.6 L368.1 439.3 L364.4 438.1 L360.7 436.9 L357 435.7 L353.3 434.5 L349.6 433.3 L345.8 432.1 L342.1 430.9 L338.4 429.7 L334.7 428.7 L331 427.7 L327.3 426.8 L323.6 425.9 L319.8 425.1 L316.1 424.3 L312.4 423.4 L308.7 422.7 L305 421.9 L301.3 421.2 L297.5 420.4 L293.8 419.7 L290.1 419 L286.4 418.4 L282.7 417.8 L279 417.4 L275.3 417.4 L271.5 417.7 L267.8 418.2 L264.1 418.9 L260.4 419.5 L256.7 420 L253 420.5 L249.3 421 L245.5 421.5 L241.8 421.9 L238.1 422.2 L234.4 422.5 L230.7 422.9 L227 423.5 L223.3 424.6 L219.5 425.6 L215.8 426.7 L212.1 427.7 L208.4 428.8 L204.7 429.9 L201 431.2 L197.2 432.5 L193.5 433.9 L189.8 435.4 L186.1 437 L182.4 438.7 L178.7 440.5 L175 442.5 L171.2 444.5 L167.5 446.5 L163.8 448.7 L160.1 450.9 L156.4 453.3 L152.7 455.6 L149 457.7 L145.2 459.7"/>
<path d="M512.4 492.6 L508.7 490.9 L505 489.3 L501.3 487.5 L497.6 485.9 L493.8 484.3 L490.1 482.7 L486.4 481.1 L482.7 479.6 L479 478 L475.3 476.5 L471.5 474.9 L467.8 473.4 L464.1 471.8 L460.4 470.3 L456.7 468.8 L453 467.4 L449.3 466 L445.5 464.7 L441.8 463.4 L438.1 462.1 L434.4 460.8 L430.7 459.5 L427 458.2 L423.3 456.9 L419.5 455.6 L415.8 454.3 L412.1 453 L408.4 451.7 L404.7 450.4 L401 449.1 L397.3 447.8 L393.5 446.5 L389.8 445.2 L386.1 443.9 L382.4 442.7 L378.7 441.4 L375 440.2 L371.3 438.9 L367.5 437.7 L363.8 436.5 L360.1 435.2 L356.4 434 L352.7 432.8 L349 431.6 L345.2 430.4 L341.5 429.3 L337.8 428.2 L334.1 427.2 L330.4 426.2 L326.7 425.3 L323 424.4 L319.2 423.6 L315.5 422.8 L311.8 422 L308.1 421.3 L304.4 420.7 L300.7 420.1 L297 419.6 L293.2 419.2 L289.5 418.9 L285.8 418.8 L282.1 418.8 L278.4 418.9 L274.7 419 L271 419.2 L267.2 419.5 L263.5 419.7 L259.8 420 L256.1 420.3 L252.4 420.5 L248.7 420.8 L244.9 421.2 L241.2 421.6 L237.5 422 L233.8 422.4 L230.1 422.8 L226.4 423.3 L222.7 423.8 L218.9 424.4 L215.2 425.1 L211.5 425.9 L207.8 426.8 L204.1 427.8 L200.4 429 L196.7 430.3 L192.9 431.8 L189.2 433.3 L185.5 435 L181.8 436.8 L178.1 438.6 L174.4 440.6 L170.7 442.5 L166.9 444.5 L163.2 446.4 L159.5 448.1 L155.8 449.7"/>
<path d="M523 498.1 L519.3 496.4 L515.5 494.6 L511.8 492.8 L508.1 490.9 L504.4 489 L500.7 487.2 L497 485.5 L493.2 483.7 L489.5 482 L485.8 480.3 L482.1 478.6 L478.4 476.9 L474.7 475.2 L471 473.5 L467.2 471.8 L463.5 470.1 L459.8 468.5 L456.1 466.9 L452.4 465.4 L448.7 464 L445 462.7 L441.2 461.3 L437.5 460 L433.8 458.7 L430.1 457.5 L426.4 456.2 L422.7 454.9 L419 453.6 L415.2 452.3 L411.5 451 L407.8 449.7 L404.1 448.4 L400.4 447.1 L396.7 445.8 L392.9 444.5 L389.2 443.2 L385.5 442 L381.8 440.7 L378.1 439.4 L374.4 438.2 L370.7 436.9 L366.9 435.7 L363.2 434.5 L359.5 433.3 L355.8 432 L352.1 430.8 L348.4 429.6 L344.7 428.5 L340.9 427.4 L337.2 426.4 L333.5 425.5 L329.8 424.6 L326.1 423.7 L322.4 423 L318.7 422.3 L314.9 421.7 L311.2 421.2 L307.5 420.8 L303.8 420.4 L300.1 420.1 L296.4 419.8 L292.6 419.4 L288.9 419.1 L285.2 418.8 L281.5 418.5 L277.8 418.3 L274.1 418.1 L270.4 418 L266.6 418 L262.9 417.9 L259.2 418 L255.5 418 L251.8 418 L248.1 418.1 L244.4 418.1 L240.6 418.1 L236.9 418.1 L233.2 418.1 L229.5 418.3 L225.8 418.5 L222.1 418.9 L218.4 419.4 L214.6 420.1 L210.9 420.9 L207.2 421.9 L203.5 423 L199.8 424.3 L196.1 425.8 L192.3 427.3 L188.6 429 L184.9 430.8 L181.2 432.5 L177.5 434.3 L173.8 436 L170.1 437.6 L166.3 439.1"/>
<path d="M533.5 499.9 L529.8 498.3 L526.1 496.5 L522.4 494.7 L518.7 492.9 L514.9 491.1 L511.2 489.3 L507.5 487.5 L503.8 485.7 L500.1 483.9 L496.4 482.2 L492.7 480.5 L488.9 478.8 L485.2 477.1 L481.5 475.4 L477.8 473.7 L474.1 472.1 L470.4 470.4 L466.7 468.7 L462.9 467 L459.2 465.4 L455.5 463.9 L451.8 462.5 L448.1 461.1 L444.4 459.8 L440.6 458.4 L436.9 457.1 L433.2 455.8 L429.5 454.5 L425.8 453.2 L422.1 451.9 L418.4 450.6 L414.6 449.3 L410.9 448 L407.2 446.7 L403.5 445.4 L399.8 444.1 L396.1 442.8 L392.4 441.5 L388.6 440.2 L384.9 439 L381.2 437.7 L377.5 436.4 L373.8 435.2 L370.1 433.9 L366.4 432.7 L362.6 431.5 L358.9 430.2 L355.2 429 L351.5 427.8 L347.8 426.6 L344.1 425.5 L340.3 424.5 L336.6 423.5 L332.9 422.5 L329.2 421.6 L325.5 420.8 L321.8 419.9 L318.1 419.2 L314.3 418.4 L310.6 417.7 L306.9 417.1 L303.2 416.5 L299.5 415.9 L295.8 415.3 L292.1 414.7 L288.3 414.2 L284.6 413.7 L280.9 413.3 L277.2 412.8 L273.5 412.4 L269.8 412 L266.1 411.7 L262.3 411.3 L258.6 410.9 L254.9 410.5 L251.2 410.1 L247.5 409.7 L243.8 409.4 L240 409.1 L236.3 408.9 L232.6 408.9 L228.9 409 L225.2 409.3 L221.5 409.8 L217.8 410.4 L214 411.3 L210.3 412.3 L206.6 413.5 L202.9 414.9 L199.2 416.4 L195.5 418.1 L191.8 419.8 L188 421.7 L184.3 423.4 L180.6 425.1 L176.9 426.6"/>
<path d="M544.1 499.1 L540.4 497.6 L536.6 496 L532.9 494.3 L529.2 492.7 L525.5 491 L521.8 489.3 L518.1 487.6 L514.4 485.9 L510.6 484.3 L506.9 482.6 L503.2 481 L499.5 479.4 L495.8 477.8 L492.1 476.2 L488.3 474.6 L484.6 472.9 L480.9 471.3 L477.2 469.7 L473.5 468.1 L469.8 466.6 L466.1 465 L462.3 463.5 L458.6 462 L454.9 460.5 L451.2 459 L447.5 457.6 L443.8 456.2 L440.1 454.8 L436.3 453.4 L432.6 452 L428.9 450.6 L425.2 449.3 L421.5 447.9 L417.8 446.6 L414.1 445.2 L410.3 443.9 L406.6 442.5 L402.9 441.2 L399.2 439.9 L395.5 438.5 L391.8 437.2 L388 435.9 L384.3 434.5 L380.6 433.2 L376.9 431.8 L373.2 430.5 L369.5 429.2 L365.8 427.8 L362 426.5 L358.3 425.2 L354.6 424 L350.9 422.7 L347.2 421.5 L343.5 420.2 L339.8 419 L336 417.7 L332.3 416.4 L328.6 415 L324.9 413.6 L321.2 412.3 L317.5 411.2 L313.8 410.4 L310 409.7 L306.3 408.9 L302.6 408.1 L298.9 407.2 L295.2 406.3 L291.5 405.3 L287.7 404.3 L284 403.4 L280.3 402.5 L276.6 401.6 L272.9 400.8 L269.2 400 L265.5 399.3 L261.7 398.5 L258 397.8 L254.3 397.1 L250.6 396.5 L246.9 396 L243.2 395.6 L239.5 395.4 L235.7 395.4 L232 395.5 L228.3 395.9 L224.6 396.4 L220.9 397.1 L217.2 398 L213.5 399 L209.7 400.3 L206 401.8 L202.3 403.4 L198.6 405.3 L194.9 407.1 L191.2 408.9 L187.4 410.4"/>
<path d="M550.1 497.9 L546.4 496.4 L542.7 494.8 L539 493.2 L535.2 491.6 L531.5 490 L527.8 488.4 L524.1 486.8 L520.4 485.2 L516.7 483.6 L513 482 L509.2 480.4 L505.5 478.8 L501.8 477.3 L498.1 475.8 L494.4 474.2 L490.7 472.6 L486.9 471.1 L483.2 469.5 L479.5 468 L475.8 466.4 L472.1 464.8 L468.4 463.3 L464.7 461.7 L460.9 460.2 L457.2 458.7 L453.5 457.2 L449.8 455.7 L446.1 454.2 L442.4 452.8 L438.7 451.4 L434.9 450 L431.2 448.6 L427.5 447.2 L423.8 445.8 L420.1 444.4 L416.4 443.1 L412.7 441.7 L408.9 440.4 L405.2 439 L401.5 437.6 L397.8 436.3 L394.1 434.9 L390.4 433.5 L386.6 432.1 L382.9 430.6 L379.2 429.2 L375.5 427.8 L371.8 426.4 L368.1 425 L364.4 423.6 L360.6 422.2 L356.9 420.8 L353.2 419.4 L349.5 418 L345.8 416.6 L342.1 415.1 L338.4 413.5 L334.6 411.8 L330.9 410.1 L327.2 408.6 L323.5 407.4 L319.8 406.5 L316.1 405.5 L312.4 404.3 L308.6 403.2 L304.9 402 L301.2 400.8 L297.5 399.5 L293.8 398.2 L290.1 396.9 L286.3 395.6 L282.6 394.3 L278.9 393.1 L275.2 392.1 L271.5 391.2 L267.8 390.4 L264.1 389.7 L260.3 388.9 L256.6 388.1 L252.9 387.4 L249.2 386.9 L245.5 386.5 L241.8 386.3 L238.1 386.3 L234.3 386.5 L230.6 386.9 L226.9 387.4 L223.2 388.1 L219.5 389 L215.8 390 L212.1 391.3 L208.3 392.8 L204.6 394.6 L200.9 396.6 L197.2 398.4 L193.5 399.9"/>
<path d="M554.6 496.6 L550.9 495.1 L547.2 493.6 L543.5 492.1 L539.8 490.5 L536 488.9 L532.3 487.4 L528.6 485.8 L524.9 484.2 L521.2 482.6 L517.5 481.1 L513.8 479.5 L510 478 L506.3 476.4 L502.6 474.9 L498.9 473.4 L495.2 471.8 L491.5 470.2 L487.8 468.7 L484 467.2 L480.3 465.6 L476.6 464 L472.9 462.5 L469.2 460.9 L465.5 459.4 L461.8 457.8 L458 456.3 L454.3 454.8 L450.6 453.4 L446.9 451.9 L443.2 450.5 L439.5 449.1 L435.7 447.7 L432 446.3 L428.3 444.9 L424.6 443.5 L420.9 442.1 L417.2 440.8 L413.5 439.4 L409.7 438 L406 436.6 L402.3 435.2 L398.6 433.8 L394.9 432.4 L391.2 430.9 L387.5 429.4 L383.7 428 L380 426.5 L376.3 425 L372.6 423.5 L368.9 422 L365.2 420.5 L361.5 418.9 L357.7 417.4 L354 415.8 L350.3 414.2 L346.6 412.5 L342.9 410.7 L339.2 408.8 L335.4 406.8 L331.7 405 L328 403.5 L324.3 402.3 L320.6 401.3 L316.9 400.1 L313.2 398.8 L309.4 397.5 L305.7 396.1 L302 394.6 L298.3 393.1 L294.6 391.6 L290.9 390.1 L287.2 388.6 L283.4 387.2 L279.7 386 L276 384.9 L272.3 384 L268.6 383.1 L264.9 382.2 L261.2 381.4 L257.4 380.7 L253.7 380 L250 379.6 L246.3 379.3 L242.6 379.2 L238.9 379.2 L235.2 379.4 L231.4 379.8 L227.7 380.4 L224 381.2 L220.3 382.2 L216.6 383.4 L212.9 384.9 L209.1 386.5 L205.4 388.2 L201.7 389.8 L198 391.2"/>
<path d="M565.2 493 L561.5 491.5 L557.7 490 L554 488.5 L550.3 486.9 L546.6 485.4 L542.9 483.8 L539.2 482.3 L535.5 480.7 L531.7 479.2 L528 477.6 L524.3 476.1 L520.6 474.5 L516.9 473 L513.2 471.5 L509.5 469.9 L505.7 468.4 L502 466.8 L498.3 465.2 L494.6 463.7 L490.9 462.1 L487.2 460.5 L483.4 459 L479.7 457.4 L476 455.9 L472.3 454.3 L468.6 452.8 L464.9 451.4 L461.2 449.9 L457.4 448.5 L453.7 447.1 L450 445.8 L446.3 444.4 L442.6 443.1 L438.9 441.7 L435.2 440.3 L431.4 439 L427.7 437.6 L424 436.2 L420.3 434.8 L416.6 433.4 L412.9 431.9 L409.2 430.4 L405.4 428.9 L401.7 427.4 L398 425.8 L394.3 424.2 L390.6 422.5 L386.9 420.8 L383.2 419.1 L379.4 417.4 L375.7 415.6 L372 413.7 L368.3 411.8 L364.6 409.8 L360.9 407.8 L357.1 405.7 L353.4 403.6 L349.7 401.5 L346 399.3 L342.3 397.3 L338.6 395.3 L334.9 393.4 L331.1 391.7 L327.4 390 L323.7 388.3 L320 386.5 L316.3 384.7 L312.6 382.9 L308.9 381 L305.1 379.1 L301.4 377.2 L297.7 375.4 L294 373.6 L290.3 371.9 L286.6 370.4 L282.9 369 L279.1 367.7 L275.4 366.5 L271.7 365.4 L268 364.3 L264.3 363.4 L260.6 362.6 L256.8 361.9 L253.1 361.4 L249.4 361.1 L245.7 360.9 L242 361 L238.3 361.3 L234.6 361.9 L230.8 362.6 L227.1 363.6 L223.4 364.7 L219.7 365.9 L216 367.1 L212.3 368.3 L208.6 369.3"/>
<path d="M575.7 488.9 L572 487.3 L568.3 485.8 L564.6 484.2 L560.9 482.7 L557.2 481.1 L553.4 479.5 L549.7 478 L546 476.4 L542.3 474.8 L538.6 473.3 L534.9 471.7 L531.1 470.2 L527.4 468.6 L523.7 467.1 L520 465.5 L516.3 463.9 L512.6 462.3 L508.9 460.7 L505.1 459.1 L501.4 457.5 L497.7 456 L494 454.4 L490.3 452.8 L486.6 451.2 L482.9 449.7 L479.1 448.2 L475.4 446.8 L471.7 445.4 L468 444.1 L464.3 442.8 L460.6 441.5 L456.9 440.2 L453.1 438.9 L449.4 437.6 L445.7 436.3 L442 434.9 L438.3 433.6 L434.6 432.2 L430.9 430.7 L427.1 429.3 L423.4 427.8 L419.7 426.2 L416 424.7 L412.3 423 L408.6 421.4 L404.8 419.6 L401.1 417.9 L397.4 416 L393.7 414.1 L390 412.2 L386.3 410.2 L382.6 408.1 L378.8 406 L375.1 403.8 L371.4 401.5 L367.7 399.2 L364 396.9 L360.3 394.6 L356.6 392.2 L352.8 389.9 L349.1 387.5 L345.4 385.2 L341.7 383 L338 380.7 L334.3 378.4 L330.6 376.2 L326.8 373.9 L323.1 371.7 L319.4 369.4 L315.7 367.2 L312 365 L308.3 362.8 L304.5 360.7 L300.8 358.6 L297.1 356.6 L293.4 354.6 L289.7 352.7 L286 350.9 L282.3 349.1 L278.5 347.4 L274.8 345.9 L271.1 344.4 L267.4 343.1 L263.7 342 L260 341.1 L256.3 340.3 L252.5 339.8 L248.8 339.5 L245.1 339.5 L241.4 339.7 L237.7 340.1 L234 340.8 L230.3 341.6 L226.5 342.4 L222.8 343.2 L219.1 343.9"/>
<path d="M586.3 484.9 L582.6 483.3 L578.9 481.8 L575.1 480.2 L571.4 478.6 L567.7 477 L564 475.4 L560.3 473.8 L556.6 472.2 L552.8 470.6 L549.1 469.1 L545.4 467.5 L541.7 465.9 L538 464.3 L534.3 462.7 L530.6 461.1 L526.8 459.5 L523.1 457.9 L519.4 456.3 L515.7 454.7 L512 453.1 L508.3 451.5 L504.6 449.9 L500.8 448.4 L497.1 446.8 L493.4 445.3 L489.7 443.8 L486 442.4 L482.3 441 L478.6 439.7 L474.8 438.4 L471.1 437.1 L467.4 435.8 L463.7 434.5 L460 433.2 L456.3 431.9 L452.5 430.6 L448.8 429.2 L445.1 427.8 L441.4 426.3 L437.7 424.8 L434 423.3 L430.3 421.7 L426.5 420.1 L422.8 418.4 L419.1 416.6 L415.4 414.8 L411.7 413 L408 411 L404.3 409 L400.5 406.9 L396.8 404.8 L393.1 402.6 L389.4 400.3 L385.7 397.9 L382 395.5 L378.3 393 L374.5 390.5 L370.8 387.9 L367.1 385.2 L363.4 382.6 L359.7 379.9 L356 377.2 L352.2 374.5 L348.5 371.8 L344.8 369.1 L341.1 366.3 L337.4 363.6 L333.7 360.8 L330 358.1 L326.2 355.3 L322.5 352.6 L318.8 350 L315.1 347.3 L311.4 344.7 L307.7 342.2 L304 339.7 L300.2 337.2 L296.5 334.7 L292.8 332.3 L289.1 329.9 L285.4 327.5 L281.7 325.3 L278 323.1 L274.2 321.1 L270.5 319.3 L266.8 317.7 L263.1 316.4 L259.4 315.3 L255.7 314.5 L251.9 313.9 L248.2 313.6 L244.5 313.4 L240.8 313.6 L237.1 314 L233.4 314.6 L229.7 315.1"/>
<path d="M590.3 483.5 L586.6 481.9 L582.9 480.4 L579.2 478.8 L575.4 477.2 L571.7 475.6 L568 474 L564.3 472.4 L560.6 470.8 L556.9 469.2 L553.2 467.6 L549.4 466 L545.7 464.4 L542 462.8 L538.3 461.2 L534.6 459.6 L530.9 458 L527.1 456.4 L523.4 454.8 L519.7 453.2 L516 451.6 L512.3 450 L508.6 448.4 L504.9 446.8 L501.1 445.3 L497.4 443.8 L493.7 442.3 L490 440.9 L486.3 439.5 L482.6 438.1 L478.9 436.8 L475.1 435.5 L471.4 434.2 L467.7 432.9 L464 431.6 L460.3 430.2 L456.6 428.9 L452.9 427.5 L449.1 426.1 L445.4 424.6 L441.7 423.1 L438 421.5 L434.3 420 L430.6 418.3 L426.8 416.6 L423.1 414.8 L419.4 413 L415.7 411.1 L412 409.1 L408.3 407.1 L404.6 405 L400.8 402.8 L397.1 400.5 L393.4 398.2 L389.7 395.7 L386 393.3 L382.3 390.7 L378.6 388.1 L374.8 385.4 L371.1 382.6 L367.4 379.9 L363.7 377 L360 374.2 L356.3 371.3 L352.6 368.5 L348.8 365.6 L345.1 362.6 L341.4 359.7 L337.7 356.7 L334 353.8 L330.3 350.8 L326.5 347.9 L322.8 344.9 L319.1 342.1 L315.4 339.3 L311.7 336.5 L308 333.8 L304.3 331.1 L300.5 328.4 L296.8 325.7 L293.1 323 L289.4 320.3 L285.7 317.7 L282 315.2 L278.3 312.9 L274.5 310.7 L270.8 308.9 L267.1 307.2 L263.4 305.8 L259.7 304.7 L256 303.8 L252.3 303.1 L248.5 302.7 L244.8 302.6 L241.1 302.7 L237.4 302.9 L233.7 303.1"/>
<path d="M596.8 481.4 L593.1 479.8 L589.4 478.1 L585.7 476.5 L582 474.9 L578.3 473.3 L574.5 471.7 L570.8 470.1 L567.1 468.5 L563.4 466.9 L559.7 465.3 L556 463.7 L552.3 462.1 L548.5 460.5 L544.8 458.9 L541.1 457.3 L537.4 455.7 L533.7 454.1 L530 452.5 L526.3 450.8 L522.5 449.2 L518.8 447.6 L515.1 446 L511.4 444.4 L507.7 442.9 L504 441.4 L500.2 439.9 L496.5 438.4 L492.8 437 L489.1 435.6 L485.4 434.3 L481.7 432.9 L478 431.6 L474.2 430.3 L470.5 428.9 L466.8 427.5 L463.1 426.2 L459.4 424.7 L455.7 423.3 L452 421.8 L448.2 420.3 L444.5 418.7 L440.8 417.1 L437.1 415.4 L433.4 413.7 L429.7 411.9 L426 410 L422.2 408.1 L418.5 406 L414.8 404 L411.1 401.8 L407.4 399.5 L403.7 397.2 L399.9 394.8 L396.2 392.3 L392.5 389.7 L388.8 387 L385.1 384.3 L381.4 381.4 L377.7 378.5 L373.9 375.5 L370.2 372.5 L366.5 369.4 L362.8 366.3 L359.1 363.2 L355.4 360 L351.7 356.7 L347.9 353.4 L344.2 350.1 L340.5 346.8 L336.8 343.5 L333.1 340.2 L329.4 336.8 L325.7 333.5 L321.9 330.3 L318.2 327.1 L314.5 324.1 L310.8 321.1 L307.1 318 L303.4 314.7 L299.6 311.5 L295.9 308.3 L292.2 305.1 L288.5 302 L284.8 299.1 L281.1 296.5 L277.4 294.2 L273.6 292.1 L269.9 290.2 L266.2 288.6 L262.5 287.2 L258.8 286.1 L255.1 285.2 L251.4 284.7 L247.6 284.6 L243.9 284.6 L240.2 284.7"/>
<path d="M607.4 477.9 L603.7 476.3 L600 474.7 L596.2 473.1 L592.5 471.5 L588.8 469.8 L585.1 468.2 L581.4 466.6 L577.7 465 L574 463.4 L570.2 461.8 L566.5 460.2 L562.8 458.6 L559.1 456.9 L555.4 455.3 L551.7 453.7 L547.9 452.1 L544.2 450.5 L540.5 448.9 L536.8 447.2 L533.1 445.6 L529.4 443.9 L525.7 442.3 L521.9 440.7 L518.2 439.1 L514.5 437.6 L510.8 436 L507.1 434.6 L503.4 433.1 L499.7 431.7 L495.9 430.3 L492.2 428.9 L488.5 427.5 L484.8 426.1 L481.1 424.7 L477.4 423.3 L473.7 421.8 L469.9 420.4 L466.2 418.9 L462.5 417.3 L458.8 415.8 L455.1 414.1 L451.4 412.5 L447.6 410.7 L443.9 409 L440.2 407.1 L436.5 405.2 L432.8 403.2 L429.1 401.1 L425.4 399 L421.6 396.7 L417.9 394.4 L414.2 392 L410.5 389.5 L406.8 386.9 L403.1 384.2 L399.4 381.3 L395.6 378.4 L391.9 375.4 L388.2 372.3 L384.5 369 L380.8 365.6 L377.1 362.1 L373.4 358.5 L369.6 354.8 L365.9 351.1 L362.2 347.3 L358.5 343.4 L354.8 339.5 L351.1 335.7 L347.3 331.8 L343.6 328 L339.9 324.2 L336.2 320.4 L332.5 316.7 L328.8 312.8 L325.1 308.6 L321.3 304.3 L317.6 299.9 L313.9 295.8 L310.2 291.7 L306.5 287.8 L302.8 283.9 L299.1 280.2 L295.3 276.7 L291.6 273.4 L287.9 270.2 L284.2 267.3 L280.5 264.6 L276.8 262.2 L273.1 260.1 L269.3 258.2 L265.6 256.6 L261.9 255.3 L258.2 254.4 L254.5 253.6 L250.8 253"/>
<path d="M617.9 474.4 L614.2 472.8 L610.5 471.2 L606.8 469.6 L603.1 468 L599.4 466.3 L595.6 464.7 L591.9 463.1 L588.2 461.5 L584.5 459.8 L580.8 458.2 L577.1 456.6 L573.4 455 L569.6 453.3 L565.9 451.7 L562.2 450.1 L558.5 448.4 L554.8 446.8 L551.1 445.2 L547.4 443.5 L543.6 441.9 L539.9 440.2 L536.2 438.6 L532.5 437 L528.8 435.4 L525.1 433.8 L521.4 432.2 L517.6 430.7 L513.9 429.2 L510.2 427.7 L506.5 426.3 L502.8 424.8 L499.1 423.4 L495.3 421.9 L491.6 420.5 L487.9 419 L484.2 417.5 L480.5 416 L476.8 414.4 L473.1 412.8 L469.3 411.2 L465.6 409.6 L461.9 407.8 L458.2 406.1 L454.5 404.2 L450.8 402.3 L447.1 400.3 L443.3 398.3 L439.6 396.2 L435.9 393.9 L432.2 391.6 L428.5 389.2 L424.8 386.7 L421.1 384.1 L417.3 381.4 L413.6 378.5 L409.9 375.5 L406.2 372.4 L402.5 369.2 L398.8 365.7 L395.1 362.2 L391.3 358.4 L387.6 354.5 L383.9 350.4 L380.2 346.2 L376.5 341.8 L372.8 337.4 L369 332.9 L365.3 328.3 L361.6 323.7 L357.9 319.1 L354.2 314.6 L350.5 310 L346.8 305.5 L343 301 L339.3 296.8 L335.6 292.1 L331.9 287.1 L328.2 282 L324.5 277 L320.8 272.1 L317 267.3 L313.3 262.8 L309.6 258.5 L305.9 254.4 L302.2 250.4 L298.5 246.7 L294.8 243.1 L291 239.8 L287.3 236.7 L283.6 233.9 L279.9 231.3 L276.2 229 L272.5 226.8 L268.7 224.7 L265 222.9 L261.3 221.4"/>
<path d="M628.5 470.9 L624.8 469.3 L621.1 467.6 L617.3 466 L613.6 464.4 L609.9 462.7 L606.2 461.1 L602.5 459.5 L598.8 457.8 L595.1 456.2 L591.3 454.5 L587.6 452.9 L583.9 451.3 L580.2 449.6 L576.5 448 L572.8 446.3 L569.1 444.7 L565.3 443 L561.6 441.4 L557.9 439.7 L554.2 438.1 L550.5 436.4 L546.8 434.8 L543 433.2 L539.3 431.5 L535.6 429.9 L531.9 428.4 L528.2 426.8 L524.5 425.3 L520.8 423.7 L517 422.2 L513.3 420.7 L509.6 419.2 L505.9 417.7 L502.2 416.2 L498.5 414.7 L494.8 413.1 L491 411.5 L487.3 409.9 L483.6 408.3 L479.9 406.6 L476.2 404.9 L472.5 403.1 L468.8 401.3 L465 399.4 L461.3 397.4 L457.6 395.3 L453.9 393.2 L450.2 391 L446.5 388.7 L442.8 386.3 L439 383.8 L435.3 381.1 L431.6 378.4 L427.9 375.5 L424.2 372.5 L420.5 369.3 L416.7 366 L413 362.5 L409.3 358.8 L405.6 354.9 L401.9 350.8 L398.2 346.4 L394.5 341.8 L390.7 337 L387 332.1 L383.3 327 L379.6 321.8 L375.9 316.5 L372.2 311.1 L368.5 305.8 L364.7 300.4 L361 295.1 L357.3 289.8 L353.6 284.7 L349.9 279.9 L346.2 274.6 L342.5 269 L338.7 263.4 L335 257.9 L331.3 252.4 L327.6 247.2 L323.9 242.1 L320.2 237.2 L316.4 232.5 L312.7 228.1 L309 223.8 L305.3 219.8 L301.6 216 L297.9 212.3 L294.2 208.9 L290.4 205.6 L286.7 202.5 L283 199.6 L279.3 197.1 L275.6 194.9 L271.9 193.1"/>
<path d="M639 467.3 L635.3 465.7 L631.6 464 L627.9 462.4 L624.2 460.7 L620.5 459.1 L616.8 457.4 L613 455.8 L609.3 454.1 L605.6 452.5 L601.9 450.8 L598.2 449.2 L594.5 447.5 L590.8 445.9 L587 444.2 L583.3 442.5 L579.6 440.9 L575.9 439.2 L572.2 437.6 L568.5 435.9 L564.7 434.2 L561 432.6 L557.3 430.9 L553.6 429.3 L549.9 427.6 L546.2 426 L542.5 424.4 L538.7 422.8 L535 421.2 L531.3 419.7 L527.6 418.1 L523.9 416.6 L520.2 415 L516.5 413.4 L512.7 411.9 L509 410.3 L505.3 408.7 L501.6 407 L497.9 405.4 L494.2 403.7 L490.5 401.9 L486.7 400.1 L483 398.3 L479.3 396.4 L475.6 394.4 L471.9 392.3 L468.2 390.1 L464.4 387.9 L460.7 385.6 L457 383.1 L453.3 380.6 L449.6 378 L445.9 375.2 L442.2 372.3 L438.4 369.2 L434.7 366 L431 362.6 L427.3 359.1 L423.6 355.3 L419.9 351.4 L416.2 347.2 L412.4 342.7 L408.7 337.9 L405 332.8 L401.3 327.5 L397.6 322 L393.9 316.4 L390.2 310.6 L386.4 304.6 L382.7 298.6 L379 292.5 L375.3 286.4 L371.6 280.4 L367.9 274.3 L364.1 268.3 L360.4 262.4 L356.7 256.6 L353 250.7 L349.3 244.9 L345.6 239.1 L341.9 233.5 L338.1 227.9 L334.4 222.6 L330.7 217.4 L327 212.4 L323.3 207.6 L319.6 203 L315.9 198.5 L312.1 194.3 L308.4 190.3 L304.7 186.4 L301 182.8 L297.3 179.4 L293.6 176.2 L289.9 173.4 L286.1 171 L282.4 169"/>
<path d="M649.6 463.7 L645.9 462.1 L642.2 460.4 L638.5 458.8 L634.7 457.1 L631 455.4 L627.3 453.8 L623.6 452.1 L619.9 450.5 L616.2 448.8 L612.4 447.1 L608.7 445.4 L605 443.8 L601.3 442.1 L597.6 440.4 L593.9 438.8 L590.2 437.1 L586.4 435.4 L582.7 433.7 L579 432.1 L575.3 430.4 L571.6 428.7 L567.9 427 L564.2 425.4 L560.4 423.7 L556.7 422.1 L553 420.4 L549.3 418.8 L545.6 417.2 L541.9 415.6 L538.2 414 L534.4 412.4 L530.7 410.7 L527 409.1 L523.3 407.5 L519.6 405.8 L515.9 404.2 L512.1 402.5 L508.4 400.7 L504.7 399 L501 397.1 L497.3 395.3 L493.6 393.3 L489.9 391.3 L486.1 389.2 L482.4 387 L478.7 384.8 L475 382.4 L471.3 379.9 L467.6 377.3 L463.9 374.6 L460.1 371.8 L456.4 368.8 L452.7 365.7 L449 362.5 L445.3 359 L441.6 355.4 L437.9 351.6 L434.1 347.5 L430.4 343.2 L426.7 338.7 L423 333.9 L419.3 328.8 L415.6 323.5 L411.8 317.9 L408.1 312 L404.4 305.9 L400.7 299.6 L397 293.1 L393.3 286.5 L389.6 279.8 L385.8 273 L382.1 266.2 L378.4 259.5 L374.7 252.9 L371 246.4 L367.3 240 L363.6 233.8 L359.8 227.7 L356.1 221.8 L352.4 215.9 L348.7 210.3 L345 204.8 L341.3 199.6 L337.6 194.5 L333.8 189.7 L330.1 185 L326.4 180.6 L322.7 176.3 L319 172.3 L315.3 168.4 L311.5 164.8 L307.8 161.4 L304.1 158.3 L300.4 155.6 L296.7 153.2 L293 151.2"/>
<path d="M660.1 460.1 L656.4 458.5 L652.7 456.8 L649 455.1 L645.3 453.5 L641.6 451.8 L637.9 450.1 L634.1 448.5 L630.4 446.8 L626.7 445.1 L623 443.4 L619.3 441.8 L615.6 440.1 L611.9 438.4 L608.1 436.7 L604.4 435 L600.7 433.3 L597 431.6 L593.3 430 L589.6 428.3 L585.9 426.6 L582.1 424.9 L578.4 423.2 L574.7 421.5 L571 419.9 L567.3 418.2 L563.6 416.5 L559.8 414.8 L556.1 413.2 L552.4 411.5 L548.7 409.9 L545 408.2 L541.3 406.5 L537.6 404.8 L533.8 403.1 L530.1 401.4 L526.4 399.7 L522.7 397.9 L519 396.1 L515.3 394.3 L511.6 392.4 L507.8 390.4 L504.1 388.4 L500.4 386.3 L496.7 384.1 L493 381.8 L489.3 379.4 L485.6 376.8 L481.8 374.2 L478.1 371.4 L474.4 368.5 L470.7 365.5 L467 362.4 L463.3 359.1 L459.5 355.6 L455.8 352 L452.1 348.2 L448.4 344.1 L444.7 339.8 L441 335.2 L437.3 330.4 L433.5 325.3 L429.8 320 L426.1 314.5 L422.4 308.7 L418.7 302.6 L415 296.2 L411.3 289.5 L407.5 282.5 L403.8 275.2 L400.1 267.8 L396.4 260.3 L392.7 252.8 L389 245.3 L385.3 238.1 L381.5 231.3 L377.8 224.9 L374.1 218.6 L370.4 212.4 L366.7 206.3 L363 200.4 L359.2 194.7 L355.5 189.3 L351.8 184.1 L348.1 179.3 L344.4 174.7 L340.7 170.3 L337 166.2 L333.2 162.3 L329.5 158.6 L325.8 155.1 L322.1 151.8 L318.4 148.8 L314.7 145.9 L311 143.4 L307.2 141.2 L303.5 139.3"/>
<path d="M670.7 456.5 L667 454.8 L663.3 453.2 L659.6 451.5 L655.8 449.9 L652.1 448.2 L648.4 446.5 L644.7 444.8 L641 443.1 L637.3 441.4 L633.6 439.8 L629.8 438.1 L626.1 436.4 L622.4 434.7 L618.7 433 L615 431.3 L611.3 429.6 L607.5 427.9 L603.8 426.2 L600.1 424.5 L596.4 422.8 L592.7 421.1 L589 419.4 L585.3 417.7 L581.5 416 L577.8 414.3 L574.1 412.7 L570.4 411 L566.7 409.3 L563 407.6 L559.3 405.9 L555.5 404.1 L551.8 402.4 L548.1 400.6 L544.4 398.9 L540.7 397.1 L537 395.3 L533.3 393.5 L529.5 391.6 L525.8 389.7 L522.1 387.8 L518.4 385.8 L514.7 383.6 L511 381.4 L507.2 379.1 L503.5 376.7 L499.8 374.2 L496.1 371.5 L492.4 368.6 L488.7 365.7 L485 362.6 L481.2 359.4 L477.5 356.1 L473.8 352.6 L470.1 348.9 L466.4 345.2 L462.7 341.3 L459 337.1 L455.2 332.7 L451.5 327.9 L447.8 322.8 L444.1 317.5 L440.4 311.9 L436.7 306 L433 299.9 L429.2 293.4 L425.5 286.7 L421.8 279.6 L418.1 271.9 L414.4 264.1 L410.7 256.2 L406.9 248.4 L403.2 240.5 L399.5 232.5 L395.8 224.9 L392.1 218.1 L388.4 211.9 L384.7 205.6 L380.9 199.2 L377.2 192.9 L373.5 186.8 L369.8 181.1 L366.1 175.8 L362.4 171 L358.7 166.5 L354.9 162.4 L351.2 158.6 L347.5 155 L343.8 151.6 L340.1 148.4 L336.4 145.4 L332.7 142.6 L328.9 139.9 L325.2 137.5 L321.5 135.2 L317.8 133.2 L314.1 131.5"/>
<path d="M681.3 452.9 L677.5 451.2 L673.8 449.5 L670.1 447.9 L666.4 446.2 L662.7 444.5 L659 442.8 L655.2 441.1 L651.5 439.5 L647.8 437.8 L644.1 436.1 L640.4 434.4 L636.7 432.7 L633 431 L629.2 429.3 L625.5 427.6 L621.8 425.9 L618.1 424.2 L614.4 422.5 L610.7 420.8 L607 419.1 L603.2 417.4 L599.5 415.7 L595.8 414 L592.1 412.3 L588.4 410.6 L584.7 408.9 L581 407.2 L577.2 405.5 L573.5 403.8 L569.8 402.1 L566.1 400.3 L562.4 398.6 L558.7 396.8 L554.9 395 L551.2 393.2 L547.5 391.3 L543.8 389.4 L540.1 387.5 L536.4 385.5 L532.7 383.4 L528.9 381.3 L525.2 379.1 L521.5 376.8 L517.8 374.4 L514.1 371.8 L510.4 369.2 L506.7 366.4 L502.9 363.4 L499.2 360.4 L495.5 357.2 L491.8 353.8 L488.1 350.3 L484.4 346.6 L480.7 342.7 L476.9 338.7 L473.2 334.4 L469.5 329.8 L465.8 325 L462.1 319.8 L458.4 314.3 L454.7 308.5 L450.9 302.5 L447.2 296.1 L443.5 289.4 L439.8 282.3 L436.1 274.9 L432.4 267.2 L428.6 259.3 L424.9 251.1 L421.2 242.9 L417.5 234.6 L413.8 226.3 L410.1 218.3 L406.4 210.6 L402.6 203.8 L398.9 197.4 L395.2 191.4 L391.5 185.6 L387.8 180.1 L384.1 174.7 L380.4 169.7 L376.6 165 L372.9 160.6 L369.2 156.5 L365.5 152.7 L361.8 149.3 L358.1 146 L354.4 143.1 L350.6 140.3 L346.9 137.7 L343.2 135.3 L339.5 133.1 L335.8 131 L332.1 129.1 L328.3 127.3 L324.6 125.7"/>
<path d="M691.8 449.2 L688.1 447.6 L684.4 445.9 L680.7 444.2 L676.9 442.5 L673.2 440.8 L669.5 439.1 L665.8 437.4 L662.1 435.8 L658.4 434.1 L654.7 432.4 L650.9 430.7 L647.2 429 L643.5 427.3 L639.8 425.6 L636.1 423.9 L632.4 422.2 L628.7 420.5 L624.9 418.8 L621.2 417.1 L617.5 415.4 L613.8 413.7 L610.1 412 L606.4 410.3 L602.7 408.6 L598.9 406.9 L595.2 405.2 L591.5 403.5 L587.8 401.8 L584.1 400.1 L580.4 398.4 L576.6 396.6 L572.9 394.8 L569.2 393 L565.5 391.2 L561.8 389.3 L558.1 387.4 L554.4 385.5 L550.6 383.4 L546.9 381.4 L543.2 379.2 L539.5 377 L535.8 374.7 L532.1 372.2 L528.4 369.7 L524.6 367.1 L520.9 364.3 L517.2 361.4 L513.5 358.4 L509.8 355.2 L506.1 351.8 L502.4 348.3 L498.6 344.6 L494.9 340.7 L491.2 336.6 L487.5 332.2 L483.8 327.6 L480.1 322.8 L476.3 317.6 L472.6 312.1 L468.9 306.3 L465.2 300.1 L461.5 293.5 L457.8 286.5 L454.1 279.2 L450.3 271.6 L446.6 263.8 L442.9 255.7 L439.2 247.6 L435.5 239.3 L431.8 231 L428.1 222.8 L424.3 214.8 L420.6 207 L416.9 199.7 L413.2 192.8 L409.5 186.4 L405.8 180.5 L402.1 174.9 L398.3 169.7 L394.6 164.8 L390.9 160.2 L387.2 155.9 L383.5 152 L379.8 148.3 L376 144.9 L372.3 141.8 L368.6 138.9 L364.9 136.2 L361.2 133.8 L357.5 131.5 L353.8 129.5 L350 127.5 L346.3 125.8 L342.6 124.1 L338.9 122.6 L335.2 121.1"/>
<path d="M702.4 445.6 L698.6 443.9 L694.9 442.2 L691.2 440.5 L687.5 438.8 L683.8 437.1 L680.1 435.4 L676.4 433.7 L672.6 432 L668.9 430.3 L665.2 428.6 L661.5 426.9 L657.8 425.2 L654.1 423.5 L650.4 421.8 L646.6 420.2 L642.9 418.5 L639.2 416.8 L635.5 415.1 L631.8 413.4 L628.1 411.7 L624.3 410 L620.6 408.3 L616.9 406.6 L613.2 404.9 L609.5 403.2 L605.8 401.5 L602.1 399.8 L598.3 398.1 L594.6 396.4 L590.9 394.6 L587.2 392.9 L583.5 391.1 L579.8 389.2 L576.1 387.3 L572.3 385.4 L568.6 383.5 L564.9 381.4 L561.2 379.3 L557.5 377.2 L553.8 374.9 L550.1 372.6 L546.3 370.2 L542.6 367.6 L538.9 365 L535.2 362.3 L531.5 359.4 L527.8 356.3 L524 353.2 L520.3 349.8 L516.6 346.3 L512.9 342.6 L509.2 338.7 L505.5 334.6 L501.8 330.3 L498 325.7 L494.3 320.8 L490.6 315.7 L486.9 310.3 L483.2 304.5 L479.5 298.4 L475.8 291.9 L472 284.9 L468.3 277.6 L464.6 269.9 L460.9 262.1 L457.2 254 L453.5 245.8 L449.8 237.6 L446 229.4 L442.3 221.2 L438.6 213.2 L434.9 205.5 L431.2 198 L427.5 190.9 L423.7 184.2 L420 177.9 L416.3 172 L412.6 166.6 L408.9 161.5 L405.2 156.8 L401.5 152.5 L397.7 148.5 L394 144.8 L390.3 141.4 L386.6 138.3 L382.9 135.5 L379.2 132.9 L375.5 130.5 L371.7 128.3 L368 126.3 L364.3 124.4 L360.6 122.7 L356.9 121.1 L353.2 119.7 L349.5 118.2 L345.7 116.8"/>
<path d="M712.9 441.9 L709.2 440.2 L705.5 438.5 L701.8 436.8 L698.1 435.1 L694.3 433.4 L690.6 431.7 L686.9 430 L683.2 428.3 L679.5 426.6 L675.8 424.9 L672 423.2 L668.3 421.5 L664.6 419.8 L660.9 418.1 L657.2 416.4 L653.5 414.7 L649.8 413 L646 411.3 L642.3 409.7 L638.6 408 L634.9 406.3 L631.2 404.6 L627.5 402.9 L623.8 401.3 L620 399.6 L616.3 397.8 L612.6 396.1 L608.9 394.4 L605.2 392.6 L601.5 390.9 L597.8 389 L594 387.2 L590.3 385.3 L586.6 383.4 L582.9 381.4 L579.2 379.3 L575.5 377.2 L571.7 375.1 L568 372.8 L564.3 370.5 L560.6 368 L556.9 365.5 L553.2 362.9 L549.5 360.1 L545.7 357.2 L542 354.2 L538.3 351 L534.6 347.7 L530.9 344.2 L527.2 340.5 L523.5 336.7 L519.7 332.6 L516 328.3 L512.3 323.7 L508.6 318.9 L504.9 313.8 L501.2 308.5 L497.5 302.7 L493.7 296.7 L490 290.3 L486.3 283.5 L482.6 276.4 L478.9 268.9 L475.2 261.2 L471.4 253.2 L467.7 245.1 L464 236.9 L460.3 228.7 L456.6 220.5 L452.9 212.4 L449.2 204.5 L445.4 196.8 L441.7 189.4 L438 182.5 L434.3 176 L430.6 170 L426.9 164.4 L423.2 159.2 L419.4 154.3 L415.7 149.9 L412 145.8 L408.3 142.1 L404.6 138.6 L400.9 135.5 L397.2 132.6 L393.4 130 L389.7 127.6 L386 125.4 L382.3 123.4 L378.6 121.6 L374.9 119.9 L371.1 118.3 L367.4 116.9 L363.7 115.5 L360 114.1 L356.3 112.8"/>
<path d="M723.5 438.2 L719.7 436.5 L716 434.8 L712.3 433.1 L708.6 431.4 L704.9 429.7 L701.2 428 L697.5 426.3 L693.7 424.6 L690 422.9 L686.3 421.2 L682.6 419.5 L678.9 417.8 L675.2 416.1 L671.5 414.4 L667.7 412.7 L664 411 L660.3 409.3 L656.6 407.6 L652.9 406 L649.2 404.3 L645.5 402.6 L641.7 401 L638 399.3 L634.3 397.6 L630.6 395.9 L626.9 394.1 L623.2 392.4 L619.4 390.6 L615.7 388.8 L612 387 L608.3 385.1 L604.6 383.2 L600.9 381.3 L597.2 379.2 L593.4 377.2 L589.7 375 L586 372.8 L582.3 370.5 L578.6 368.2 L574.9 365.7 L571.2 363.2 L567.4 360.5 L563.7 357.8 L560 354.9 L556.3 351.9 L552.6 348.7 L548.9 345.4 L545.2 342 L541.4 338.3 L537.7 334.5 L534 330.5 L530.3 326.3 L526.6 321.8 L522.9 317.1 L519.1 312.1 L515.4 306.9 L511.7 301.3 L508 295.5 L504.3 289.3 L500.6 282.7 L496.9 275.8 L493.1 268.6 L489.4 261 L485.7 253.1 L482 245.1 L478.3 236.9 L474.6 228.7 L470.9 220.5 L467.1 212.4 L463.4 204.4 L459.7 196.6 L456 189.1 L452.3 181.9 L448.6 175.1 L444.9 168.8 L441.1 163 L437.4 157.5 L433.7 152.5 L430 147.9 L426.3 143.7 L422.6 139.8 L418.8 136.3 L415.1 133 L411.4 130.1 L407.7 127.4 L404 125 L400.3 122.7 L396.6 120.7 L392.8 118.9 L389.1 117.2 L385.4 115.6 L381.7 114.2 L378 112.8 L374.3 111.5 L370.6 110.3 L366.8 109"/>
<path d="M734 434.5 L730.3 432.8 L726.6 431.1 L722.9 429.4 L719.2 427.7 L715.4 426 L711.7 424.4 L708 422.7 L704.3 421 L700.6 419.3 L696.9 417.6 L693.2 415.9 L689.4 414.2 L685.7 412.5 L682 410.8 L678.3 409.1 L674.6 407.5 L670.9 405.8 L667.1 404.1 L663.4 402.5 L659.7 400.8 L656 399.1 L652.3 397.5 L648.6 395.8 L644.9 394 L641.1 392.3 L637.4 390.5 L633.7 388.7 L630 386.9 L626.3 385 L622.6 383.1 L618.9 381.2 L615.1 379.2 L611.4 377.1 L607.7 375 L604 372.8 L600.3 370.5 L596.6 368.2 L592.9 365.8 L589.1 363.3 L585.4 360.7 L581.7 358.1 L578 355.3 L574.3 352.4 L570.6 349.4 L566.8 346.3 L563.1 343 L559.4 339.6 L555.7 336 L552 332.3 L548.3 328.3 L544.6 324.1 L540.8 319.8 L537.1 315.2 L533.4 310.3 L529.7 305.2 L526 299.8 L522.3 294.2 L518.6 288.3 L514.8 282 L511.1 275.4 L507.4 268.5 L503.7 261.1 L500 253.4 L496.3 245.4 L492.6 237.3 L488.8 229.1 L485.1 220.9 L481.4 212.7 L477.7 204.6 L474 196.7 L470.3 189.1 L466.5 181.7 L462.8 174.7 L459.1 168.1 L455.4 162 L451.7 156.4 L448 151.1 L444.3 146.4 L440.5 142 L436.8 138 L433.1 134.3 L429.4 131 L425.7 127.9 L422 125.1 L418.3 122.6 L414.5 120.3 L410.8 118.2 L407.1 116.3 L403.4 114.5 L399.7 112.9 L396 111.4 L392.3 110 L388.5 108.6 L384.8 107.3 L381.1 106 L377.4 104.8"/>
<path d="M744.6 430.9 L740.9 429.2 L737.1 427.5 L733.4 425.8 L729.7 424.1 L726 422.5 L722.3 420.8 L718.6 419.1 L714.8 417.4 L711.1 415.8 L707.4 414.1 L703.7 412.4 L700 410.7 L696.3 409 L692.6 407.4 L688.8 405.7 L685.1 404 L681.4 402.4 L677.7 400.7 L674 399.1 L670.3 397.4 L666.6 395.8 L662.8 394.1 L659.1 392.4 L655.4 390.6 L651.7 388.9 L648 387.1 L644.3 385.2 L640.6 383.2 L636.8 381.3 L633.1 379.2 L629.4 377.1 L625.7 374.9 L622 372.7 L618.3 370.5 L614.5 368.1 L610.8 365.7 L607.1 363.3 L603.4 360.8 L599.7 358.2 L596 355.5 L592.3 352.7 L588.5 349.8 L584.8 346.9 L581.1 343.8 L577.4 340.5 L573.7 337.2 L570 333.6 L566.3 330 L562.5 326.1 L558.8 322 L555.1 317.7 L551.4 313.2 L547.7 308.5 L544 303.5 L540.3 298.2 L536.5 292.7 L532.8 286.8 L529.1 280.7 L525.4 274.3 L521.7 267.5 L518 260.4 L514.3 253 L510.5 245.3 L506.8 237.4 L503.1 229.4 L499.4 221.3 L495.7 213.2 L492 205.1 L488.2 197.2 L484.5 189.4 L480.8 181.9 L477.1 174.6 L473.4 167.8 L469.7 161.3 L466 155.5 L462.2 150.1 L458.5 145.2 L454.8 140.7 L451.1 136.6 L447.4 132.8 L443.7 129.4 L440 126.2 L436.2 123.3 L432.5 120.7 L428.8 118.3 L425.1 116.1 L421.4 114.1 L417.7 112.2 L414 110.5 L410.2 108.9 L406.5 107.4 L402.8 106 L399.1 104.6 L395.4 103.3 L391.7 102 L387.9 100.7"/>
<path d="M751.1 428.6 L747.4 426.9 L743.7 425.2 L740 423.5 L736.2 421.8 L732.5 420.1 L728.8 418.5 L725.1 416.8 L721.4 415.1 L717.7 413.5 L714 411.8 L710.2 410.1 L706.5 408.4 L702.8 406.7 L699.1 405.1 L695.4 403.4 L691.7 401.7 L687.9 400.1 L684.2 398.4 L680.5 396.8 L676.8 395.2 L673.1 393.5 L669.4 391.8 L665.7 390.2 L661.9 388.4 L658.2 386.6 L654.5 384.8 L650.8 382.9 L647.1 380.8 L643.4 378.8 L639.7 376.6 L635.9 374.4 L632.2 372.2 L628.5 369.8 L624.8 367.5 L621.1 365.1 L617.4 362.6 L613.7 360.1 L609.9 357.5 L606.2 354.8 L602.5 352.1 L598.8 349.3 L595.1 346.3 L591.4 343.3 L587.6 340.2 L583.9 336.9 L580.2 333.5 L576.5 330 L572.8 326.2 L569.1 322.3 L565.4 318.2 L561.6 313.9 L557.9 309.3 L554.2 304.5 L550.5 299.4 L546.8 294 L543.1 288.4 L539.4 282.4 L535.6 276.2 L531.9 269.6 L528.2 262.8 L524.5 255.7 L520.8 248.2 L517.1 240.6 L513.4 232.7 L509.6 224.7 L505.9 216.7 L502.2 208.7 L498.5 200.7 L494.8 192.9 L491.1 185.2 L487.3 177.9 L483.6 170.8 L479.9 164.1 L476.2 157.9 L472.5 152.2 L468.8 146.9 L465.1 142.1 L461.3 137.7 L457.6 133.7 L453.9 130 L450.2 126.7 L446.5 123.6 L442.8 120.8 L439.1 118.3 L435.3 115.9 L431.6 113.8 L427.9 111.8 L424.2 109.9 L420.5 108.2 L416.8 106.6 L413.1 105.1 L409.3 103.7 L405.6 102.3 L401.9 100.9 L398.2 99.6 L394.5 98.2"/>
<path d="M755.1 427.2 L751.4 425.4 L747.7 423.7 L744 422 L740.3 420.3 L736.5 418.6 L732.8 417 L729.1 415.3 L725.4 413.7 L721.7 412 L718 410.3 L714.3 408.6 L710.5 406.9 L706.8 405.2 L703.1 403.6 L699.4 401.9 L695.7 400.2 L692 398.6 L688.3 396.9 L684.5 395.3 L680.8 393.6 L677.1 392 L673.4 390.3 L669.7 388.7 L666 386.9 L662.3 385.2 L658.5 383.3 L654.8 381.3 L651.1 379.3 L647.4 377.1 L643.7 374.9 L640 372.7 L636.2 370.3 L632.5 368 L628.8 365.6 L625.1 363.1 L621.4 360.6 L617.7 358 L614 355.4 L610.2 352.7 L606.5 349.9 L602.8 347.1 L599.1 344.2 L595.4 341.1 L591.7 338 L588 334.7 L584.2 331.3 L580.5 327.7 L576.8 324 L573.1 320.1 L569.4 315.9 L565.7 311.6 L562 307 L558.2 302.1 L554.5 297 L550.8 291.6 L547.1 285.9 L543.4 279.9 L539.7 273.6 L535.9 267 L532.2 260.1 L528.5 252.9 L524.8 245.5 L521.1 237.8 L517.4 229.9 L513.7 222 L509.9 214 L506.2 206 L502.5 198.1 L498.8 190.4 L495.1 182.8 L491.4 175.5 L487.7 168.6 L483.9 162 L480.2 155.9 L476.5 150.3 L472.8 145.1 L469.1 140.3 L465.4 136 L461.7 132.1 L457.9 128.5 L454.2 125.2 L450.5 122.2 L446.8 119.4 L443.1 116.9 L439.4 114.6 L435.6 112.4 L431.9 110.5 L428.2 108.6 L424.5 106.9 L420.8 105.3 L417.1 103.8 L413.4 102.3 L409.6 100.9 L405.9 99.5 L402.2 98.1 L398.5 96.8"/>
<path d="M765.7 423.1 L762 421.3 L758.2 419.5 L754.5 417.8 L750.8 416 L747.1 414.3 L743.4 412.6 L739.7 411 L736 409.3 L732.2 407.6 L728.5 406 L724.8 404.3 L721.1 402.6 L717.4 400.9 L713.7 399.2 L710 397.5 L706.2 395.8 L702.5 394.1 L698.8 392.5 L695.1 390.8 L691.4 389.1 L687.7 387.5 L683.9 385.8 L680.2 384 L676.5 382.3 L672.8 380.5 L669.1 378.6 L665.4 376.5 L661.7 374.4 L657.9 372.2 L654.2 369.9 L650.5 367.5 L646.8 365.1 L643.1 362.7 L639.4 360.2 L635.7 357.7 L631.9 355.1 L628.2 352.5 L624.5 349.8 L620.8 347.1 L617.1 344.3 L613.4 341.4 L609.7 338.5 L605.9 335.5 L602.2 332.3 L598.5 329.1 L594.8 325.7 L591.1 322.2 L587.4 318.5 L583.6 314.6 L579.9 310.5 L576.2 306.2 L572.5 301.5 L568.8 296.6 L565.1 291.4 L561.4 285.9 L557.6 280 L553.9 273.9 L550.2 267.4 L546.5 260.7 L542.8 253.7 L539.1 246.4 L535.4 238.8 L531.6 231.1 L527.9 223.2 L524.2 215.2 L520.5 207.3 L516.8 199.4 L513.1 191.7 L509.4 184.1 L505.6 176.7 L501.9 169.6 L498.2 162.9 L494.5 156.6 L490.8 150.7 L487.1 145.3 L483.3 140.5 L479.6 136 L475.9 131.9 L472.2 128.2 L468.5 124.8 L464.8 121.7 L461.1 118.8 L457.3 116.1 L453.6 113.7 L449.9 111.4 L446.2 109.3 L442.5 107.3 L438.8 105.5 L435.1 103.7 L431.3 102 L427.6 100.4 L423.9 98.9 L420.2 97.4 L416.5 95.9 L412.8 94.5 L409.1 93"/>
<path d="M776.2 418.9 L772.5 417 L768.8 415.1 L765.1 413.2 L761.4 411.4 L757.7 409.6 L753.9 407.9 L750.2 406.2 L746.5 404.5 L742.8 402.8 L739.1 401.2 L735.4 399.5 L731.6 397.8 L727.9 396.1 L724.2 394.4 L720.5 392.7 L716.8 391 L713.1 389.3 L709.4 387.5 L705.6 385.8 L701.9 384.1 L698.2 382.3 L694.5 380.5 L690.8 378.7 L687.1 376.9 L683.4 375 L679.6 373 L675.9 370.9 L672.2 368.8 L668.5 366.6 L664.8 364.4 L661.1 362 L657.4 359.6 L653.6 357.2 L649.9 354.7 L646.2 352.1 L642.5 349.6 L638.8 347 L635.1 344.3 L631.3 341.6 L627.6 338.9 L623.9 336.1 L620.2 333.2 L616.5 330.2 L612.8 327.1 L609.1 323.9 L605.3 320.7 L601.6 317.3 L597.9 313.8 L594.2 310.1 L590.5 306.1 L586.8 301.9 L583.1 297.4 L579.3 292.5 L575.6 287.3 L571.9 281.7 L568.2 275.6 L564.5 269.2 L560.8 262.4 L557.1 255.3 L553.3 247.9 L549.6 240.4 L545.9 232.7 L542.2 224.9 L538.5 217.1 L534.8 209.3 L531 201.4 L527.3 193.5 L523.6 185.8 L519.9 178.3 L516.2 171.1 L512.5 164.1 L508.8 157.6 L505 151.6 L501.3 146.1 L497.6 141 L493.9 136.4 L490.2 132.2 L486.5 128.4 L482.8 124.9 L479 121.7 L475.3 118.7 L471.6 115.9 L467.9 113.4 L464.2 110.9 L460.5 108.7 L456.8 106.6 L453 104.5 L449.3 102.6 L445.6 100.8 L441.9 99 L438.2 97.3 L434.5 95.7 L430.7 94 L427 92.4 L423.3 90.8 L419.6 89.3"/>
<path d="M786.8 415.3 L783.1 413.2 L779.3 411.2 L775.6 409.2 L771.9 407.2 L768.2 405.4 L764.5 403.6 L760.8 401.9 L757.1 400.2 L753.3 398.5 L749.6 396.9 L745.9 395.2 L742.2 393.5 L738.5 391.8 L734.8 390 L731.1 388.3 L727.3 386.5 L723.6 384.7 L719.9 382.9 L716.2 381.1 L712.5 379.3 L708.8 377.4 L705.1 375.6 L701.3 373.7 L697.6 371.8 L693.9 369.9 L690.2 367.9 L686.5 365.8 L682.8 363.8 L679 361.6 L675.3 359.4 L671.6 357 L667.9 354.6 L664.2 352.2 L660.5 349.7 L656.8 347.2 L653 344.7 L649.3 342.2 L645.6 339.7 L641.9 337.1 L638.2 334.5 L634.5 331.7 L630.8 328.8 L627 325.9 L623.3 322.8 L619.6 319.7 L615.9 316.5 L612.2 313.3 L608.5 310.1 L604.8 306.6 L601 303 L597.3 299 L593.6 294.7 L589.9 289.9 L586.2 284.8 L582.5 279.2 L578.7 273.1 L575 266.6 L571.3 259.6 L567.6 252.2 L563.9 244.4 L560.2 236.5 L556.5 228.7 L552.7 220.9 L549 213 L545.3 204.9 L541.6 196.8 L537.9 188.8 L534.2 180.8 L530.5 173.1 L526.7 165.8 L523 158.9 L519.3 152.5 L515.6 146.6 L511.9 141.3 L508.2 136.7 L504.5 132.6 L500.7 128.8 L497 125.3 L493.3 121.9 L489.6 118.8 L485.9 115.9 L482.2 113.1 L478.4 110.6 L474.7 108.1 L471 105.8 L467.3 103.7 L463.6 101.6 L459.9 99.7 L456.2 97.8 L452.4 96 L448.7 94.2 L445 92.5 L441.3 90.7 L437.6 89 L433.9 87.3 L430.2 85.6"/>
<path d="M791.3 414.2 L787.6 412.1 L783.9 409.9 L780.2 407.8 L776.4 405.8 L772.7 403.9 L769 402.1 L765.3 400.4 L761.6 398.7 L757.9 397 L754.2 395.3 L750.4 393.6 L746.7 391.9 L743 390.2 L739.3 388.5 L735.6 386.7 L731.9 384.9 L728.1 383.1 L724.4 381.3 L720.7 379.4 L717 377.5 L713.3 375.7 L709.6 373.8 L705.9 371.9 L702.1 370 L698.4 368 L694.7 366 L691 364 L687.3 361.9 L683.6 359.8 L679.9 357.6 L676.1 355.2 L672.4 352.9 L668.7 350.4 L665 348 L661.3 345.5 L657.6 343 L653.9 340.6 L650.1 338.2 L646.4 335.7 L642.7 333.1 L639 330.4 L635.3 327.6 L631.6 324.6 L627.8 321.6 L624.1 318.4 L620.4 315.2 L616.7 312.1 L613 308.9 L609.3 305.6 L605.6 302 L601.8 298 L598.1 293.7 L594.4 288.9 L590.7 283.7 L587 278.1 L583.3 272 L579.6 265.5 L575.8 258.6 L572.1 251.2 L568.4 243.6 L564.7 235.8 L561 227.7 L557.3 219.6 L553.6 211.5 L549.8 203.3 L546.1 195.1 L542.4 186.9 L538.7 178.9 L535 171.2 L531.3 163.8 L527.5 157 L523.8 150.7 L520.1 144.9 L516.4 139.7 L512.7 135.2 L509 131.2 L505.3 127.4 L501.5 123.8 L497.8 120.5 L494.1 117.3 L490.4 114.4 L486.7 111.7 L483 109.1 L479.3 106.6 L475.5 104.3 L471.8 102.2 L468.1 100.2 L464.4 98.2 L460.7 96.3 L457 94.5 L453.3 92.8 L449.5 91 L445.8 89.2 L442.1 87.5 L438.4 85.8 L434.7 84.1"/>
<path d="M797.3 413.3 L793.6 411 L789.9 408.8 L786.2 406.6 L782.5 404.5 L778.8 402.6 L775 400.7 L771.3 398.9 L767.6 397.2 L763.9 395.4 L760.2 393.7 L756.5 392 L752.8 390.3 L749 388.5 L745.3 386.8 L741.6 385 L737.9 383.2 L734.2 381.4 L730.5 379.6 L726.7 377.7 L723 375.8 L719.3 373.9 L715.6 372 L711.9 370.1 L708.2 368.1 L704.5 366.1 L700.7 364 L697 361.9 L693.3 359.8 L689.6 357.7 L685.9 355.5 L682.2 353.2 L678.5 350.9 L674.7 348.6 L671 346.3 L667.3 343.9 L663.6 341.6 L659.9 339.3 L656.2 336.9 L652.5 334.5 L648.7 332 L645 329.4 L641.3 326.6 L637.6 323.7 L633.9 320.7 L630.2 317.7 L626.4 314.5 L622.7 311.3 L619 308 L615.3 304.5 L611.6 300.7 L607.9 296.6 L604.2 292.1 L600.4 287.2 L596.7 281.9 L593 276.1 L589.3 269.8 L585.6 263.1 L581.9 256 L578.2 248.4 L574.4 240.6 L570.7 232.6 L567 224.6 L563.3 216.6 L559.6 208.5 L555.9 200.4 L552.2 192.3 L548.4 184.2 L544.7 176.4 L541 168.8 L537.3 161.6 L533.6 154.8 L529.9 148.6 L526.2 142.9 L522.4 137.7 L518.7 133 L515 128.8 L511.3 124.9 L507.6 121.3 L503.9 117.9 L500.1 114.8 L496.4 111.9 L492.7 109.2 L489 106.6 L485.3 104.2 L481.6 102 L477.9 99.8 L474.1 97.8 L470.4 95.9 L466.7 94.1 L463 92.3 L459.3 90.5 L455.6 88.8 L451.9 87 L448.1 85.3 L444.4 83.6 L440.7 81.9"/>
<path d="M807.9 411.5 L804.2 409.4 L800.5 407.3 L796.7 405.2 L793 403.3 L789.3 401.4 L785.6 399.5 L781.9 397.6 L778.2 395.8 L774.4 394.1 L770.7 392.3 L767 390.6 L763.3 388.8 L759.6 387.1 L755.9 385.4 L752.2 383.7 L748.4 381.9 L744.7 380.2 L741 378.4 L737.3 376.5 L733.6 374.6 L729.9 372.7 L726.2 370.7 L722.4 368.6 L718.7 366.5 L715 364.4 L711.3 362.3 L707.6 360.1 L703.9 357.9 L700.2 355.7 L696.4 353.5 L692.7 351.3 L689 349.2 L685.3 347.1 L681.6 345 L677.9 342.9 L674.2 340.8 L670.4 338.7 L666.7 336.5 L663 334.2 L659.3 331.8 L655.6 329.3 L651.9 326.7 L648.1 324 L644.4 321.1 L640.7 318.1 L637 314.9 L633.3 311.5 L629.6 307.8 L625.9 303.9 L622.1 299.7 L618.4 295.2 L614.7 290.3 L611 285 L607.3 279.2 L603.6 273 L599.9 266.4 L596.1 259.4 L592.4 252 L588.7 244.3 L585 236.3 L581.3 228.3 L577.6 220.2 L573.9 212.1 L570.1 204 L566.4 195.9 L562.7 187.9 L559 180 L555.3 172.3 L551.6 164.8 L547.8 157.6 L544.1 150.9 L540.4 144.5 L536.7 138.6 L533 133.2 L529.3 128.3 L525.6 123.8 L521.8 119.7 L518.1 116.1 L514.4 112.7 L510.7 109.6 L507 106.8 L503.3 104.1 L499.6 101.7 L495.8 99.4 L492.1 97.3 L488.4 95.2 L484.7 93.3 L481 91.5 L477.3 89.7 L473.6 87.9 L469.8 86.2 L466.1 84.5 L462.4 82.9 L458.7 81.2 L455 79.6 L451.3 77.9"/>
<path d="M818.4 411.4 L814.7 409.4 L811 407.6 L807.3 405.8 L803.6 404.1 L799.9 402.3 L796.1 400.5 L792.4 398.7 L788.7 397 L785 395.2 L781.3 393.4 L777.6 391.6 L773.9 389.9 L770.1 388.2 L766.4 386.5 L762.7 384.8 L759 383.1 L755.3 381.4 L751.6 379.7 L747.9 377.9 L744.1 376.1 L740.4 374.2 L736.7 372.2 L733 370.1 L729.3 368 L725.6 365.8 L721.9 363.6 L718.1 361.4 L714.4 359.1 L710.7 356.8 L707 354.5 L703.3 352.2 L699.6 350.2 L695.8 348.3 L692.1 346.3 L688.4 344.4 L684.7 342.4 L681 340.4 L677.3 338.3 L673.6 336.1 L669.8 333.8 L666.1 331.4 L662.4 328.8 L658.7 326 L655 323.1 L651.3 320 L647.6 316.7 L643.8 313.1 L640.1 309.3 L636.4 305.2 L632.7 300.7 L629 295.9 L625.3 290.8 L621.6 285.2 L617.8 279.2 L614.1 272.8 L610.4 266 L606.7 258.8 L603 251.3 L599.3 243.5 L595.5 235.4 L591.8 227.1 L588.1 218.8 L584.4 210.4 L580.7 202 L577 193.7 L573.3 185.4 L569.5 177.3 L565.8 169.4 L562.1 161.7 L558.4 154.4 L554.7 147.4 L551 140.8 L547.3 134.7 L543.5 129 L539.8 123.9 L536.1 119.3 L532.4 115.1 L528.7 111.3 L525 108 L521.3 104.9 L517.5 102.1 L513.8 99.6 L510.1 97.2 L506.4 95 L502.7 93 L499 91 L495.2 89.1 L491.5 87.3 L487.8 85.5 L484.1 83.8 L480.4 82.2 L476.7 80.5 L473 78.9 L469.2 77.3 L465.5 75.7 L461.8 74"/>
<path d="M829 415.3 L825.3 413.5 L821.6 411.7 L817.8 409.9 L814.1 408.1 L810.4 406.3 L806.7 404.5 L803 402.7 L799.3 400.8 L795.6 399 L791.8 397.2 L788.1 395.4 L784.4 393.6 L780.7 391.8 L777 390 L773.3 388.3 L769.6 386.6 L765.8 384.9 L762.1 383.2 L758.4 381.5 L754.7 379.8 L751 378 L747.3 376.3 L743.5 374.4 L739.8 372.4 L736.1 370.4 L732.4 368.3 L728.7 366.1 L725 363.9 L721.3 361.7 L717.5 359.5 L713.8 357.2 L710.1 354.9 L706.4 352.7 L702.7 350.5 L699 348.4 L695.3 346.4 L691.5 344.2 L687.8 342 L684.1 339.7 L680.4 337.3 L676.7 334.7 L673 331.9 L669.3 329 L665.5 326 L661.8 322.7 L658.1 319.3 L654.4 315.7 L650.7 311.9 L647 307.8 L643.2 303.3 L639.5 298.4 L635.8 293.2 L632.1 287.5 L628.4 281.5 L624.7 275.1 L621 268.4 L617.2 261.3 L613.5 253.7 L609.8 245.7 L606.1 237.3 L602.4 228.7 L598.7 220.1 L595 211.4 L591.2 202.6 L587.5 193.9 L583.8 185.3 L580.1 176.8 L576.4 168.5 L572.7 160.5 L569 152.8 L565.2 145.5 L561.5 138.6 L557.8 132.1 L554.1 126.2 L550.4 120.9 L546.7 116.1 L542.9 111.9 L539.2 108.1 L535.5 104.8 L531.8 101.8 L528.1 99.1 L524.4 96.6 L520.7 94.3 L516.9 92.2 L513.2 90.1 L509.5 88.1 L505.8 86.1 L502.1 84.2 L498.4 82.3 L494.7 80.5 L490.9 78.6 L487.2 76.9 L483.5 75.1 L479.8 73.4 L476.1 71.8 L472.4 70.1"/>
<path d="M828.4 414.9 L824.7 413.1 L821 411.3 L817.3 409.4 L813.5 407.5 L809.8 405.6 L806.1 403.8 L802.4 401.9 L798.7 400 L795 398.2 L791.2 396.3 L787.5 394.5 L783.8 392.6 L780.1 390.8 L776.4 388.9 L772.7 387.1 L769 385.4 L765.2 383.6 L761.5 381.9 L757.8 380.2 L754.1 378.5 L750.4 376.7 L746.7 374.9 L743 373 L739.2 371 L735.5 369 L731.8 366.9 L728.1 364.7 L724.4 362.5 L720.7 360.3 L717 358.1 L713.2 355.7 L709.5 353.4 L705.8 351.1 L702.1 348.7 L698.4 346.2 L694.7 343.6 L690.9 340.9 L687.2 338 L683.5 335 L679.8 331.8 L676.1 328.4 L672.4 325 L668.7 321.5 L664.9 317.9 L661.2 314.2 L657.5 310.2 L653.8 305.8 L650.1 300.9 L646.4 295.6 L642.7 289.9 L638.9 283.8 L635.2 277.5 L631.5 271.3 L627.8 265.1 L624.1 258 L620.4 250.1 L616.7 241.7 L612.9 232.9 L609.2 224 L605.5 214.9 L601.8 205.7 L598.1 196.4 L594.4 187.3 L590.6 178.6 L586.9 170.2 L583.2 162 L579.5 154.1 L575.8 146.5 L572.1 139.3 L568.4 132.6 L564.6 126.4 L560.9 121 L557.2 116.1 L553.5 111.7 L549.8 107.7 L546.1 104.3 L542.4 101.3 L538.6 98.6 L534.9 96 L531.2 93.7 L527.5 91.4 L523.8 89.1 L520.1 86.8 L516.4 84.6 L512.6 82.5 L508.9 80.3 L505.2 78.2 L501.5 76.1 L497.8 74 L494.1 72 L490.3 70.2 L486.6 68.4 L482.9 66.7"/>
<path d="M501.9 488.3 L505.3 489.5 L508.7 490.9 L512.1 492.4 L515.5 494.3 L518.9 496.2 L522.3 497.9 L525.7 498.9 L529.1 499.6 L532.5 499.9 L535.9 499.9 L539.3 499.7 L542.8 499.3 L546.2 498.7 L549.6 498 L553 497.1 L556.4 496.1 L559.8 495 L563.2 493.8 L566.6 492.5 L570 491.2 L573.4 489.8 L576.8 488.4 L580.2 487.1 L583.6 485.9 L587 484.7 L590.5 483.5 L593.9 482.3 L597.3 481.2 L600.7 480.1 L604.1 479 L607.5 477.9 L610.9 476.8 L614.3 475.6 L617.7 474.5 L621.1 473.4 L624.5 472.2 L627.9 471.1 L631.3 469.9 L634.8 468.8 L638.2 467.6 L641.6 466.5 L645 465.3 L648.4 464.1 L651.8 463 L655.2 461.8 L658.6 460.6 L662 459.5 L665.4 458.3 L668.8 457.1 L672.2 455.9 L675.6 454.8 L679.1 453.6 L682.5 452.4 L685.9 451.3 L689.3 450.1 L692.7 448.9 L696.1 447.8 L699.5 446.6 L702.9 445.4 L706.3 444.2 L709.7 443 L713.1 441.8 L716.5 440.6 L719.9 439.4 L723.4 438.2 L726.8 437 L730.2 435.8 L733.6 434.7 L737 433.5 L740.4 432.3 L743.8 431.2 L747.2 430 L750.6 428.8 L754 427.6 L757.4 426.3 L760.8 425 L764.2 423.7 L767.7 422.3 L771.1 421 L774.5 419.6 L777.9 418.3 L781.3 417.1 L784.7 416 L788.1 415 L791.5 414.2 L794.9 413.6 L798.3 413.1 L801.7 412.5 L805.1 411.9 L808.5 411.4 L811.9 411.1 L815.4 411 L818.8 411.4 L822.2 412.4 L825.6 413.8 L829 415.3"/>
<path d="M490.7 483.4 L494.2 484.6 L497.8 485.9 L501.3 487.5 L504.8 489.4 L508.3 491.2 L511.8 492.8 L515.3 493.8 L518.9 494.4 L522.4 494.7 L525.9 494.8 L529.4 494.7 L532.9 494.3 L536.4 493.8 L540 493 L543.5 492.1 L547 491 L550.5 489.8 L554 488.5 L557.5 487.1 L561.1 485.7 L564.6 484.2 L568.1 482.8 L571.6 481.5 L575.1 480.2 L578.7 478.9 L582.2 477.7 L585.7 476.5 L589.2 475.4 L592.7 474.2 L596.2 473.1 L599.8 471.9 L603.3 470.7 L606.8 469.6 L610.3 468.4 L613.8 467.2 L617.3 466 L620.9 464.8 L624.4 463.6 L627.9 462.4 L631.4 461.2 L634.9 460 L638.5 458.8 L642 457.6 L645.5 456.4 L649 455.1 L652.5 453.9 L656 452.7 L659.6 451.5 L663.1 450.3 L666.6 449.1 L670.1 447.9 L673.6 446.6 L677.1 445.4 L680.7 444.2 L684.2 443 L687.7 441.7 L691.2 440.5 L694.7 439.3 L698.2 438 L701.8 436.8 L705.3 435.5 L708.8 434.3 L712.3 433.1 L715.8 431.8 L719.4 430.6 L722.9 429.4 L726.4 428.2 L729.9 427 L733.4 425.8 L736.9 424.6 L740.5 423.3 L744 422 L747.5 420.7 L751 419.2 L754.5 417.8 L758 416.3 L761.6 414.7 L765.1 413.2 L768.6 411.8 L772.1 410.4 L775.6 409.2 L779.2 408.1 L782.7 407.3 L786.2 406.6 L789.7 406.1 L793.2 405.6 L796.7 405.2 L800.3 405.1 L803.8 405.3 L807.3 405.8 L810.8 406.9 L814.3 408.3 L817.8 409.9 L821.4 411.6 L824.9 413.4 L828.4 414.9"/>
<path d="M479.6 478.9 L483.1 480 L486.6 481.3 L490.1 482.7 L493.6 484.3 L497.2 485.9 L500.7 487.2 L504.2 488.2 L507.7 488.9 L511.2 489.3 L514.7 489.5 L518.3 489.5 L521.8 489.3 L525.3 488.9 L528.8 488.2 L532.3 487.4 L535.9 486.3 L539.4 485.1 L542.9 483.8 L546.4 482.4 L549.9 481 L553.4 479.5 L557 478.1 L560.5 476.7 L564 475.4 L567.5 474.1 L571 472.9 L574.5 471.7 L578.1 470.6 L581.6 469.4 L585.1 468.2 L588.6 467.1 L592.1 465.9 L595.6 464.7 L599.2 463.5 L602.7 462.3 L606.2 461.1 L609.7 459.9 L613.2 458.7 L616.8 457.4 L620.3 456.2 L623.8 455 L627.3 453.8 L630.8 452.6 L634.3 451.4 L637.9 450.1 L641.4 448.9 L644.9 447.7 L648.4 446.5 L651.9 445.3 L655.4 444.1 L659 442.8 L662.5 441.6 L666 440.4 L669.5 439.1 L673 437.9 L676.6 436.7 L680.1 435.4 L683.6 434.2 L687.1 432.9 L690.6 431.7 L694.1 430.4 L697.7 429.2 L701.2 428 L704.7 426.7 L708.2 425.5 L711.7 424.4 L715.2 423.2 L718.8 422 L722.3 420.8 L725.8 419.6 L729.3 418.3 L732.8 417 L736.3 415.6 L739.9 414.2 L743.4 412.6 L746.9 411.1 L750.4 409.5 L753.9 407.9 L757.5 406.4 L761 404.9 L764.5 403.6 L768 402.4 L771.5 401.5 L775 400.7 L778.6 400.1 L782.1 399.7 L785.6 399.5 L789.1 399.5 L792.6 399.8 L796.1 400.5 L799.7 401.6 L803.2 402.9 L806.7 404.5 L810.2 406.2 L813.7 407.8 L817.3 409.4"/>
<path d="M468.4 474.5 L471.9 475.5 L475.5 476.7 L479 478 L482.5 479.4 L486 480.8 L489.5 482 L493 482.9 L496.6 483.5 L500.1 483.9 L503.6 484.2 L507.1 484.3 L510.6 484.3 L514.2 484 L517.7 483.4 L521.2 482.6 L524.7 481.6 L528.2 480.5 L531.7 479.2 L535.3 477.8 L538.8 476.3 L542.3 474.8 L545.8 473.4 L549.3 472 L552.8 470.6 L556.4 469.4 L559.9 468.1 L563.4 466.9 L566.9 465.7 L570.4 464.6 L574 463.4 L577.5 462.2 L581 461 L584.5 459.8 L588 458.6 L591.5 457.4 L595.1 456.2 L598.6 454.9 L602.1 453.7 L605.6 452.5 L609.1 451.2 L612.6 450 L616.2 448.8 L619.7 447.6 L623.2 446.3 L626.7 445.1 L630.2 443.9 L633.7 442.7 L637.3 441.4 L640.8 440.2 L644.3 439 L647.8 437.8 L651.3 436.5 L654.9 435.3 L658.4 434.1 L661.9 432.8 L665.4 431.6 L668.9 430.3 L672.4 429.1 L676 427.8 L679.5 426.6 L683 425.3 L686.5 424.1 L690 422.9 L693.5 421.7 L697.1 420.5 L700.6 419.3 L704.1 418.1 L707.6 416.9 L711.1 415.8 L714.7 414.5 L718.2 413.3 L721.7 412 L725.2 410.7 L728.7 409.2 L732.2 407.6 L735.8 406 L739.3 404.4 L742.8 402.8 L746.3 401.3 L749.8 399.9 L753.3 398.5 L756.9 397.3 L760.4 396.3 L763.9 395.4 L767.4 394.7 L770.9 394.3 L774.4 394.1 L778 394.1 L781.5 394.5 L785 395.2 L788.5 396.2 L792 397.5 L795.6 399 L799.1 400.6 L802.6 402.2 L806.1 403.8"/>
<path d="M457.3 470.3 L460.8 471.2 L464.3 472.2 L467.8 473.4 L471.4 474.6 L474.9 475.8 L478.4 476.9 L481.9 477.7 L485.4 478.3 L488.9 478.8 L492.5 479.1 L496 479.3 L499.5 479.4 L503 479.1 L506.5 478.7 L510 478 L513.6 477 L517.1 475.8 L520.6 474.5 L524.1 473.1 L527.6 471.7 L531.1 470.2 L534.7 468.7 L538.2 467.3 L541.7 465.9 L545.2 464.6 L548.7 463.3 L552.3 462.1 L555.8 460.9 L559.3 459.7 L562.8 458.6 L566.3 457.4 L569.8 456.2 L573.4 455 L576.9 453.7 L580.4 452.5 L583.9 451.3 L587.4 450 L590.9 448.8 L594.5 447.5 L598 446.3 L601.5 445 L605 443.8 L608.5 442.5 L612.1 441.3 L615.6 440.1 L619.1 438.8 L622.6 437.6 L626.1 436.4 L629.6 435.1 L633.2 433.9 L636.7 432.7 L640.2 431.4 L643.7 430.2 L647.2 429 L650.7 427.7 L654.3 426.5 L657.8 425.2 L661.3 424 L664.8 422.7 L668.3 421.5 L671.9 420.2 L675.4 419 L678.9 417.8 L682.4 416.6 L685.9 415.4 L689.4 414.2 L693 413.1 L696.5 411.9 L700 410.7 L703.5 409.5 L707 408.2 L710.5 406.9 L714.1 405.5 L717.6 404.1 L721.1 402.6 L724.6 401 L728.1 399.4 L731.6 397.8 L735.2 396.3 L738.7 394.8 L742.2 393.5 L745.7 392.3 L749.2 391.2 L752.8 390.3 L756.3 389.6 L759.8 389.1 L763.3 388.8 L766.8 388.9 L770.3 389.2 L773.9 389.9 L777.4 390.9 L780.9 392.2 L784.4 393.6 L787.9 395.2 L791.4 396.7 L795 398.2"/>
<path d="M446.1 466.2 L449.7 467 L453.2 467.8 L456.7 468.8 L460.2 469.8 L463.7 470.9 L467.2 471.8 L470.8 472.6 L474.3 473.2 L477.8 473.7 L481.3 474.2 L484.8 474.4 L488.3 474.6 L491.9 474.4 L495.4 474.1 L498.9 473.4 L502.4 472.4 L505.9 471.2 L509.5 469.9 L513 468.5 L516.5 467 L520 465.5 L523.5 464 L527 462.5 L530.6 461.1 L534.1 459.8 L537.6 458.5 L541.1 457.3 L544.6 456.1 L548.1 454.9 L551.7 453.7 L555.2 452.5 L558.7 451.3 L562.2 450.1 L565.7 448.8 L569.3 447.6 L572.8 446.3 L576.3 445.1 L579.8 443.8 L583.3 442.5 L586.8 441.3 L590.4 440 L593.9 438.8 L597.4 437.5 L600.9 436.3 L604.4 435 L607.9 433.8 L611.5 432.5 L615 431.3 L618.5 430.1 L622 428.8 L625.5 427.6 L629 426.4 L632.6 425.1 L636.1 423.9 L639.6 422.6 L643.1 421.4 L646.6 420.2 L650.2 418.9 L653.7 417.7 L657.2 416.4 L660.7 415.2 L664.2 413.9 L667.7 412.7 L671.3 411.5 L674.8 410.3 L678.3 409.1 L681.8 408 L685.3 406.9 L688.8 405.7 L692.4 404.5 L695.9 403.2 L699.4 401.9 L702.9 400.5 L706.4 399 L710 397.5 L713.5 395.9 L717 394.3 L720.5 392.7 L724 391.1 L727.5 389.7 L731.1 388.3 L734.6 387 L738.1 385.9 L741.6 385 L745.1 384.3 L748.6 383.9 L752.2 383.7 L755.7 383.8 L759.2 384.1 L762.7 384.8 L766.2 385.7 L769.7 386.9 L773.3 388.3 L776.8 389.7 L780.3 391.2 L783.8 392.6"/>
<path d="M435 462.3 L438.5 463 L442 463.8 L445.5 464.7 L449.1 465.5 L452.6 466.2 L456.1 466.9 L459.6 467.6 L463.1 468.2 L466.7 468.7 L470.2 469.2 L473.7 469.5 L477.2 469.7 L480.7 469.7 L484.2 469.4 L487.8 468.7 L491.3 467.8 L494.8 466.6 L498.3 465.2 L501.8 463.8 L505.3 462.3 L508.9 460.7 L512.4 459.2 L515.9 457.7 L519.4 456.3 L522.9 455 L526.4 453.7 L530 452.5 L533.5 451.2 L537 450 L540.5 448.9 L544 447.7 L547.6 446.4 L551.1 445.2 L554.6 443.9 L558.1 442.6 L561.6 441.4 L565.1 440.1 L568.7 438.8 L572.2 437.6 L575.7 436.3 L579.2 435 L582.7 433.7 L586.2 432.5 L589.8 431.2 L593.3 430 L596.8 428.7 L600.3 427.4 L603.8 426.2 L607.4 425 L610.9 423.7 L614.4 422.5 L617.9 421.3 L621.4 420 L624.9 418.8 L628.5 417.6 L632 416.3 L635.5 415.1 L639 413.8 L642.5 412.6 L646 411.3 L649.6 410.1 L653.1 408.9 L656.6 407.6 L660.1 406.4 L663.6 405.3 L667.1 404.1 L670.7 403 L674.2 401.9 L677.7 400.7 L681.2 399.5 L684.7 398.3 L688.3 396.9 L691.8 395.5 L695.3 394 L698.8 392.5 L702.3 390.8 L705.8 389.2 L709.4 387.5 L712.9 385.9 L716.4 384.4 L719.9 382.9 L723.4 381.6 L726.9 380.5 L730.5 379.6 L734 378.9 L737.5 378.5 L741 378.4 L744.5 378.5 L748.1 379 L751.6 379.7 L755.1 380.7 L758.6 381.9 L762.1 383.2 L765.6 384.5 L769.2 385.8 L772.7 387.1"/>
<path d="M423.8 458.5 L427.4 459.2 L430.9 460 L434.4 460.8 L437.9 461.5 L441.4 462.1 L445 462.7 L448.5 463.1 L452 463.5 L455.5 463.9 L459 464.4 L462.5 464.8 L466.1 465 L469.6 465 L473.1 464.7 L476.6 464 L480.1 463.1 L483.6 461.9 L487.2 460.5 L490.7 459.1 L494.2 457.5 L497.7 456 L501.2 454.4 L504.8 452.9 L508.3 451.5 L511.8 450.2 L515.3 448.9 L518.8 447.6 L522.3 446.4 L525.9 445.2 L529.4 443.9 L532.9 442.7 L536.4 441.5 L539.9 440.2 L543.4 439 L547 437.7 L550.5 436.4 L554 435.1 L557.5 433.9 L561 432.6 L564.5 431.3 L568.1 430 L571.6 428.7 L575.1 427.4 L578.6 426.2 L582.1 424.9 L585.7 423.6 L589.2 422.4 L592.7 421.1 L596.2 419.9 L599.7 418.6 L603.2 417.4 L606.8 416.2 L610.3 414.9 L613.8 413.7 L617.3 412.5 L620.8 411.3 L624.3 410 L627.9 408.8 L631.4 407.5 L634.9 406.3 L638.4 405.1 L641.9 403.9 L645.5 402.6 L649 401.5 L652.5 400.3 L656 399.1 L659.5 398 L663 396.9 L666.6 395.8 L670.1 394.6 L673.6 393.3 L677.1 392 L680.6 390.6 L684.1 389.1 L687.7 387.5 L691.2 385.8 L694.7 384 L698.2 382.3 L701.7 380.6 L705.2 379 L708.8 377.4 L712.3 376.1 L715.8 374.9 L719.3 373.9 L722.8 373.2 L726.4 372.8 L729.9 372.7 L733.4 372.9 L736.9 373.4 L740.4 374.2 L743.9 375.3 L747.5 376.6 L751 378 L754.5 379.4 L758 380.7 L761.5 381.9"/>
<path d="M412.7 454.7 L416.2 455.4 L419.7 456.2 L423.3 456.9 L426.8 457.6 L430.3 458.2 L433.8 458.7 L437.3 459.1 L440.8 459.5 L444.4 459.8 L447.9 460.1 L451.4 460.4 L454.9 460.5 L458.4 460.4 L462 460 L465.5 459.4 L469 458.4 L472.5 457.2 L476 455.9 L479.5 454.4 L483.1 452.8 L486.6 451.2 L490.1 449.7 L493.6 448.2 L497.1 446.8 L500.6 445.5 L504.2 444.2 L507.7 442.9 L511.2 441.6 L514.7 440.4 L518.2 439.1 L521.7 437.9 L525.3 436.6 L528.8 435.4 L532.3 434.1 L535.8 432.8 L539.3 431.5 L542.9 430.2 L546.4 428.9 L549.9 427.6 L553.4 426.3 L556.9 425 L560.4 423.7 L564 422.4 L567.5 421.1 L571 419.9 L574.5 418.6 L578 417.3 L581.5 416 L585.1 414.8 L588.6 413.6 L592.1 412.3 L595.6 411.1 L599.1 409.9 L602.6 408.6 L606.2 407.4 L609.7 406.2 L613.2 404.9 L616.7 403.7 L620.2 402.5 L623.8 401.3 L627.3 400 L630.8 398.8 L634.3 397.6 L637.8 396.4 L641.3 395.2 L644.9 394 L648.4 392.9 L651.9 391.8 L655.4 390.6 L658.9 389.5 L662.4 388.2 L666 386.9 L669.5 385.5 L673 384 L676.5 382.3 L680 380.5 L683.6 378.7 L687.1 376.9 L690.6 375.1 L694.1 373.4 L697.6 371.8 L701.1 370.4 L704.7 369.1 L708.2 368.1 L711.7 367.3 L715.2 366.8 L718.7 366.5 L722.2 366.6 L725.8 367.1 L729.3 368 L732.8 369.2 L736.3 370.8 L739.8 372.4 L743.3 373.9 L746.9 375.4 L750.4 376.7"/>
<path d="M401.6 450.9 L405.1 451.6 L408.6 452.3 L412.1 453 L415.6 453.7 L419.1 454.4 L422.7 454.9 L426.2 455.3 L429.7 455.6 L433.2 455.8 L436.7 456 L440.3 456.2 L443.8 456.2 L447.3 456 L450.8 455.5 L454.3 454.8 L457.8 453.9 L461.4 452.7 L464.9 451.4 L468.4 449.9 L471.9 448.4 L475.4 446.8 L478.9 445.2 L482.5 443.8 L486 442.4 L489.5 441 L493 439.7 L496.5 438.4 L500.1 437.1 L503.6 435.9 L507.1 434.6 L510.6 433.3 L514.1 432 L517.6 430.7 L521.2 429.4 L524.7 428.1 L528.2 426.8 L531.7 425.5 L535.2 424.1 L538.7 422.8 L542.3 421.5 L545.8 420.1 L549.3 418.8 L552.8 417.5 L556.3 416.2 L559.8 414.8 L563.4 413.5 L566.9 412.2 L570.4 411 L573.9 409.7 L577.4 408.5 L581 407.2 L584.5 406 L588 404.8 L591.5 403.5 L595 402.3 L598.5 401.1 L602.1 399.8 L605.6 398.6 L609.1 397.4 L612.6 396.1 L616.1 394.9 L619.6 393.6 L623.2 392.4 L626.7 391.1 L630.2 389.9 L633.7 388.7 L637.2 387.6 L640.8 386.4 L644.3 385.2 L647.8 383.9 L651.3 382.7 L654.8 381.3 L658.3 379.9 L661.9 378.3 L665.4 376.5 L668.9 374.7 L672.4 372.8 L675.9 370.9 L679.4 369.1 L683 367.4 L686.5 365.8 L690 364.4 L693.5 363.1 L697 361.9 L700.5 361 L704.1 360.4 L707.6 360.1 L711.1 360.1 L714.6 360.5 L718.1 361.4 L721.7 362.7 L725.2 364.3 L728.7 366.1 L732.2 367.9 L735.7 369.5 L739.2 371"/>
<path d="M390.4 447 L393.9 447.7 L397.5 448.4 L401 449.1 L404.5 449.8 L408 450.5 L411.5 451 L415 451.4 L418.6 451.7 L422.1 451.9 L425.6 452.1 L429.1 452.1 L432.6 452 L436.1 451.7 L439.7 451.2 L443.2 450.5 L446.7 449.5 L450.2 448.4 L453.7 447.1 L457.2 445.8 L460.8 444.3 L464.3 442.8 L467.8 441.3 L471.3 439.8 L474.8 438.4 L478.4 437 L481.9 435.6 L485.4 434.3 L488.9 432.9 L492.4 431.6 L495.9 430.3 L499.5 428.9 L503 427.6 L506.5 426.3 L510 424.9 L513.5 423.6 L517 422.2 L520.6 420.9 L524.1 419.5 L527.6 418.1 L531.1 416.7 L534.6 415.3 L538.2 414 L541.7 412.6 L545.2 411.2 L548.7 409.9 L552.2 408.5 L555.7 407.2 L559.3 405.9 L562.8 404.6 L566.3 403.3 L569.8 402.1 L573.3 400.8 L576.8 399.6 L580.4 398.4 L583.9 397.1 L587.4 395.9 L590.9 394.6 L594.4 393.4 L597.9 392.1 L601.5 390.9 L605 389.6 L608.5 388.3 L612 387 L615.5 385.7 L619.1 384.4 L622.6 383.1 L626.1 381.8 L629.6 380.5 L633.1 379.2 L636.6 377.8 L640.2 376.4 L643.7 374.9 L647.2 373.3 L650.7 371.7 L654.2 369.9 L657.7 368.1 L661.3 366.2 L664.8 364.4 L668.3 362.6 L671.8 360.9 L675.3 359.4 L678.9 357.9 L682.4 356.6 L685.9 355.5 L689.4 354.5 L692.9 353.9 L696.4 353.5 L700 353.4 L703.5 353.7 L707 354.5 L710.5 355.8 L714 357.6 L717.5 359.5 L721.1 361.4 L724.6 363.1 L728.1 364.7"/>
<path d="M379.3 443 L382.8 443.7 L386.3 444.5 L389.8 445.2 L393.3 445.9 L396.9 446.6 L400.4 447.1 L403.9 447.5 L407.4 447.8 L410.9 448 L414.4 448.1 L418 448.1 L421.5 447.9 L425 447.6 L428.5 447 L432 446.3 L435.6 445.3 L439.1 444.3 L442.6 443.1 L446.1 441.7 L449.6 440.3 L453.1 438.9 L456.7 437.4 L460.2 436 L463.7 434.5 L467.2 433.1 L470.7 431.7 L474.2 430.3 L477.8 428.9 L481.3 427.5 L484.8 426.1 L488.3 424.7 L491.8 423.3 L495.3 421.9 L498.9 420.5 L502.4 419.1 L505.9 417.7 L509.4 416.3 L512.9 414.9 L516.5 413.4 L520 412 L523.5 410.6 L527 409.1 L530.5 407.7 L534 406.2 L537.6 404.8 L541.1 403.4 L544.6 402 L548.1 400.6 L551.6 399.3 L555.1 398 L558.7 396.8 L562.2 395.5 L565.7 394.3 L569.2 393 L572.7 391.8 L576.3 390.5 L579.8 389.2 L583.3 387.9 L586.8 386.6 L590.3 385.3 L593.8 384 L597.4 382.6 L600.9 381.3 L604.4 379.9 L607.9 378.5 L611.4 377.1 L614.9 375.7 L618.5 374.2 L622 372.7 L625.5 371.2 L629 369.6 L632.5 368 L636 366.3 L639.6 364.5 L643.1 362.7 L646.6 360.8 L650.1 359 L653.6 357.2 L657.2 355.4 L660.7 353.7 L664.2 352.2 L667.7 350.8 L671.2 349.6 L674.7 348.6 L678.3 347.8 L681.8 347.3 L685.3 347.1 L688.8 347.1 L692.3 347.5 L695.8 348.3 L699.4 349.4 L702.9 350.9 L706.4 352.7 L709.9 354.5 L713.4 356.4 L717 358.1"/>
<path d="M368.1 439.3 L371.6 440 L375.2 440.7 L378.7 441.4 L382.2 442.1 L385.7 442.7 L389.2 443.2 L392.7 443.7 L396.3 444 L399.8 444.1 L403.3 444.2 L406.8 444.1 L410.3 443.9 L413.9 443.5 L417.4 442.9 L420.9 442.1 L424.4 441.2 L427.9 440.2 L431.4 439 L435 437.7 L438.5 436.3 L442 434.9 L445.5 433.5 L449 432 L452.5 430.6 L456.1 429.1 L459.6 427.6 L463.1 426.2 L466.6 424.7 L470.1 423.3 L473.7 421.8 L477.2 420.4 L480.7 418.9 L484.2 417.5 L487.7 416 L491.2 414.6 L494.8 413.1 L498.3 411.6 L501.8 410.2 L505.3 408.7 L508.8 407.2 L512.3 405.7 L515.9 404.2 L519.4 402.7 L522.9 401.2 L526.4 399.7 L529.9 398.2 L533.4 396.7 L537 395.3 L540.5 393.9 L544 392.6 L547.5 391.3 L551 390 L554.6 388.7 L558.1 387.4 L561.6 386.1 L565.1 384.8 L568.6 383.5 L572.1 382.1 L575.7 380.7 L579.2 379.3 L582.7 377.9 L586.2 376.5 L589.7 375 L593.2 373.6 L596.8 372.1 L600.3 370.5 L603.8 369 L607.3 367.4 L610.8 365.7 L614.4 364.1 L617.9 362.3 L621.4 360.6 L624.9 358.8 L628.4 357 L631.9 355.1 L635.5 353.2 L639 351.4 L642.5 349.6 L646 347.8 L649.5 346.2 L653 344.7 L656.6 343.3 L660.1 342.3 L663.6 341.6 L667.1 341.1 L670.6 340.8 L674.1 340.8 L677.7 341.1 L681.2 341.6 L684.7 342.4 L688.2 343.5 L691.7 344.8 L695.3 346.4 L698.8 348 L702.3 349.6 L705.8 351.1"/>
<path d="M357 435.7 L360.5 436.3 L364 437 L367.5 437.7 L371.1 438.3 L374.6 438.9 L378.1 439.4 L381.6 439.8 L385.1 440.1 L388.6 440.2 L392.2 440.3 L395.7 440.1 L399.2 439.9 L402.7 439.4 L406.2 438.8 L409.7 438 L413.3 437.1 L416.8 436 L420.3 434.8 L423.8 433.5 L427.3 432.2 L430.9 430.7 L434.4 429.3 L437.9 427.8 L441.4 426.3 L444.9 424.8 L448.4 423.3 L452 421.8 L455.5 420.3 L459 418.8 L462.5 417.3 L466 415.8 L469.5 414.3 L473.1 412.8 L476.6 411.3 L480.1 409.8 L483.6 408.3 L487.1 406.8 L490.6 405.2 L494.2 403.7 L497.7 402.1 L501.2 400.5 L504.7 399 L508.2 397.4 L511.8 395.8 L515.3 394.3 L518.8 392.7 L522.3 391.2 L525.8 389.7 L529.3 388.3 L532.9 386.9 L536.4 385.5 L539.9 384.1 L543.4 382.7 L546.9 381.4 L550.4 380 L554 378.6 L557.5 377.2 L561 375.7 L564.5 374.3 L568 372.8 L571.6 371.3 L575.1 369.8 L578.6 368.2 L582.1 366.6 L585.6 365 L589.1 363.3 L592.7 361.6 L596.2 359.9 L599.7 358.2 L603.2 356.4 L606.7 354.6 L610.2 352.7 L613.8 350.8 L617.3 349 L620.8 347.1 L624.3 345.2 L627.8 343.4 L631.3 341.6 L634.9 340 L638.4 338.4 L641.9 337.1 L645.4 336 L648.9 335.1 L652.5 334.5 L656 334.1 L659.5 334 L663 334.2 L666.5 334.6 L670 335.3 L673.6 336.1 L677.1 337.2 L680.6 338.4 L684.1 339.7 L687.6 341.1 L691.1 342.4 L694.7 343.6"/>
<path d="M345.8 432.1 L349.4 432.6 L352.9 433.3 L356.4 434 L359.9 434.6 L363.4 435.2 L366.9 435.7 L370.5 436.1 L374 436.3 L377.5 436.4 L381 436.4 L384.5 436.2 L388 435.9 L391.6 435.3 L395.1 434.7 L398.6 433.8 L402.1 432.8 L405.6 431.7 L409.2 430.4 L412.7 429.1 L416.2 427.7 L419.7 426.2 L423.2 424.8 L426.7 423.2 L430.3 421.7 L433.8 420.2 L437.3 418.6 L440.8 417.1 L444.3 415.5 L447.8 414 L451.4 412.5 L454.9 410.9 L458.4 409.4 L461.9 407.8 L465.4 406.3 L469 404.7 L472.5 403.1 L476 401.5 L479.5 399.9 L483 398.3 L486.5 396.6 L490.1 395 L493.6 393.3 L497.1 391.7 L500.6 390 L504.1 388.4 L507.6 386.8 L511.2 385.2 L514.7 383.6 L518.2 382.1 L521.7 380.6 L525.2 379.1 L528.7 377.6 L532.3 376.1 L535.8 374.7 L539.3 373.2 L542.8 371.7 L546.3 370.2 L549.9 368.6 L553.4 367.1 L556.9 365.5 L560.4 363.9 L563.9 362.2 L567.4 360.5 L571 358.8 L574.5 357.1 L578 355.3 L581.5 353.5 L585 351.7 L588.5 349.8 L592.1 348 L595.6 346.1 L599.1 344.2 L602.6 342.3 L606.1 340.4 L609.7 338.5 L613.2 336.7 L616.7 334.9 L620.2 333.2 L623.7 331.6 L627.2 330.1 L630.8 328.8 L634.3 327.8 L637.8 327.1 L641.3 326.6 L644.8 326.4 L648.3 326.5 L651.9 326.7 L655.4 327.2 L658.9 327.9 L662.4 328.8 L665.9 329.7 L669.4 330.8 L673 331.9 L676.5 333 L680 334.1 L683.5 335"/>
<path d="M339.8 430.1 L343.3 430.7 L346.8 431.3 L350.3 432 L353.8 432.6 L357.3 433.2 L360.9 433.7 L364.4 434.1 L367.9 434.3 L371.4 434.4 L374.9 434.3 L378.5 434.1 L382 433.7 L385.5 433.1 L389 432.3 L392.5 431.4 L396 430.4 L399.6 429.2 L403.1 427.9 L406.6 426.6 L410.1 425.1 L413.6 423.6 L417.1 422.1 L420.7 420.6 L424.2 419 L427.7 417.4 L431.2 415.9 L434.7 414.3 L438.2 412.7 L441.8 411.2 L445.3 409.6 L448.8 408.1 L452.3 406.5 L455.8 404.9 L459.4 403.3 L462.9 401.7 L466.4 400.1 L469.9 398.4 L473.4 396.8 L476.9 395.1 L480.5 393.4 L484 391.7 L487.5 390 L491 388.3 L494.5 386.6 L498 384.9 L501.6 383.2 L505.1 381.6 L508.6 380 L512.1 378.4 L515.6 376.8 L519.2 375.3 L522.7 373.7 L526.2 372.2 L529.7 370.7 L533.2 369.1 L536.7 367.6 L540.3 366 L543.8 364.4 L547.3 362.8 L550.8 361.1 L554.3 359.4 L557.8 357.7 L561.4 356 L564.9 354.2 L568.4 352.4 L571.9 350.5 L575.4 348.7 L578.9 346.8 L582.5 344.9 L586 343 L589.5 341.1 L593 339.2 L596.5 337.2 L600.1 335.4 L603.6 333.5 L607.1 331.7 L610.6 329.9 L614.1 328.2 L617.6 326.6 L621.2 325.2 L624.7 323.9 L628.2 322.9 L631.7 322.2 L635.2 321.8 L638.7 321.7 L642.3 321.9 L645.8 322.2 L649.3 322.7 L652.8 323.4 L656.3 324.2 L659.9 325.1 L663.4 326.1 L666.9 327.1 L670.4 328.1 L673.9 328.9 L677.4 329.7"/>
<path d="M334.7 428.7 L338.2 429.2 L341.7 429.8 L345.2 430.4 L348.8 431 L352.3 431.6 L355.8 432 L359.3 432.4 L362.8 432.6 L366.4 432.7 L369.9 432.6 L373.4 432.3 L376.9 431.8 L380.4 431.2 L383.9 430.4 L387.5 429.4 L391 428.3 L394.5 427.1 L398 425.8 L401.5 424.4 L405 422.9 L408.6 421.4 L412.1 419.8 L415.6 418.2 L419.1 416.6 L422.6 415 L426.1 413.5 L429.7 411.9 L433.2 410.3 L436.7 408.7 L440.2 407.1 L443.7 405.5 L447.3 403.9 L450.8 402.3 L454.3 400.7 L457.8 399.1 L461.3 397.4 L464.8 395.7 L468.4 394 L471.9 392.3 L475.4 390.6 L478.9 388.8 L482.4 387 L485.9 385.3 L489.5 383.5 L493 381.8 L496.5 380.1 L500 378.4 L503.5 376.7 L507.1 375.1 L510.6 373.4 L514.1 371.8 L517.6 370.2 L521.1 368.7 L524.6 367.1 L528.2 365.5 L531.7 363.9 L535.2 362.3 L538.7 360.6 L542.2 358.9 L545.7 357.2 L549.3 355.5 L552.8 353.7 L556.3 351.9 L559.8 350.1 L563.3 348.2 L566.8 346.3 L570.4 344.4 L573.9 342.5 L577.4 340.5 L580.9 338.6 L584.4 336.7 L588 334.7 L591.5 332.8 L595 330.9 L598.5 329.1 L602 327.3 L605.5 325.6 L609.1 323.9 L612.6 322.4 L616.1 320.9 L619.6 319.7 L623.1 318.6 L626.6 318 L630.2 317.7 L633.7 317.6 L637.2 317.7 L640.7 318.1 L644.2 318.6 L647.8 319.2 L651.3 320 L654.8 320.9 L658.3 321.8 L661.8 322.7 L665.3 323.6 L668.9 324.4 L672.4 325"/>
<path d="M323.6 425.9 L327.1 426.3 L330.6 426.7 L334.1 427.2 L337.6 427.7 L341.1 428.1 L344.7 428.5 L348.2 428.8 L351.7 429 L355.2 429 L358.7 428.8 L362.2 428.4 L365.8 427.8 L369.3 427.1 L372.8 426.1 L376.3 425 L379.8 423.7 L383.3 422.3 L386.9 420.8 L390.4 419.3 L393.9 417.7 L397.4 416 L400.9 414.4 L404.5 412.7 L408 411 L411.5 409.4 L415 407.7 L418.5 406 L422 404.4 L425.6 402.8 L429.1 401.1 L432.6 399.5 L436.1 397.8 L439.6 396.2 L443.1 394.5 L446.7 392.7 L450.2 391 L453.7 389.2 L457.2 387.4 L460.7 385.6 L464.2 383.7 L467.8 381.8 L471.3 379.9 L474.8 378 L478.3 376.1 L481.8 374.2 L485.4 372.3 L488.9 370.5 L492.4 368.6 L495.9 366.9 L499.4 365.1 L502.9 363.4 L506.5 361.8 L510 360.1 L513.5 358.4 L517 356.7 L520.5 354.9 L524 353.2 L527.6 351.4 L531.1 349.6 L534.6 347.7 L538.1 345.8 L541.6 343.9 L545.2 342 L548.7 340 L552.2 338 L555.7 336 L559.2 334 L562.7 332 L566.3 330 L569.8 327.9 L573.3 326 L576.8 324 L580.3 322.1 L583.8 320.3 L587.4 318.5 L590.9 316.8 L594.4 315.3 L597.9 313.8 L601.4 312.4 L605 311.2 L608.5 310.1 L612 309.1 L615.5 308.4 L619 308 L622.5 307.8 L626.1 307.7 L629.6 307.8 L633.1 308.1 L636.6 308.6 L640.1 309.3 L643.6 310.1 L647.2 311 L650.7 311.9 L654.2 312.8 L657.7 313.6 L661.2 314.2"/>
<path d="M312.4 423.4 L315.9 423.7 L319.4 424 L323 424.4 L326.5 424.8 L330 425.2 L333.5 425.5 L337 425.6 L340.5 425.7 L344.1 425.5 L347.6 425.2 L351.1 424.7 L354.6 424 L358.1 423 L361.7 421.8 L365.2 420.5 L368.7 418.9 L372.2 417.3 L375.7 415.6 L379.2 413.8 L382.8 412 L386.3 410.2 L389.8 408.4 L393.3 406.6 L396.8 404.8 L400.3 403 L403.9 401.3 L407.4 399.5 L410.9 397.8 L414.4 396.1 L417.9 394.4 L421.4 392.7 L425 391 L428.5 389.2 L432 387.4 L435.5 385.6 L439 383.8 L442.6 381.9 L446.1 379.9 L449.6 378 L453.1 375.9 L456.6 373.9 L460.1 371.8 L463.7 369.7 L467.2 367.6 L470.7 365.5 L474.2 363.4 L477.7 361.4 L481.2 359.4 L484.8 357.5 L488.3 355.6 L491.8 353.8 L495.3 352 L498.8 350.1 L502.4 348.3 L505.9 346.4 L509.4 344.5 L512.9 342.6 L516.4 340.7 L519.9 338.7 L523.5 336.7 L527 334.6 L530.5 332.6 L534 330.5 L537.5 328.4 L541 326.3 L544.6 324.1 L548.1 322 L551.6 319.8 L555.1 317.7 L558.6 315.6 L562.1 313.6 L565.7 311.6 L569.2 309.7 L572.7 307.9 L576.2 306.2 L579.7 304.6 L583.3 303.2 L586.8 301.9 L590.3 300.8 L593.8 299.9 L597.3 299 L600.8 298.2 L604.4 297.4 L607.9 296.6 L611.4 295.9 L614.9 295.5 L618.4 295.2 L621.9 295.2 L625.5 295.4 L629 295.9 L632.5 296.6 L636 297.5 L639.5 298.4 L643.1 299.4 L646.6 300.3 L650.1 300.9"/>
<path d="M301.3 421.2 L304.8 421.3 L308.3 421.6 L311.8 422 L315.3 422.4 L318.8 422.8 L322.4 423 L325.9 423 L329.4 422.9 L332.9 422.5 L336.4 422 L340 421.2 L343.5 420.2 L347 419 L350.5 417.5 L354 415.8 L357.5 413.9 L361.1 411.9 L364.6 409.8 L368.1 407.8 L371.6 405.8 L375.1 403.8 L378.6 401.8 L382.2 399.8 L385.7 397.9 L389.2 396 L392.7 394.1 L396.2 392.3 L399.8 390.5 L403.3 388.7 L406.8 386.9 L410.3 385.1 L413.8 383.2 L417.3 381.4 L420.9 379.5 L424.4 377.5 L427.9 375.5 L431.4 373.5 L434.9 371.4 L438.4 369.2 L442 367 L445.5 364.7 L449 362.5 L452.5 360.2 L456 357.9 L459.5 355.6 L463.1 353.4 L466.6 351.1 L470.1 348.9 L473.6 346.8 L477.1 344.8 L480.7 342.7 L484.2 340.7 L487.7 338.6 L491.2 336.6 L494.7 334.5 L498.2 332.4 L501.8 330.3 L505.3 328.1 L508.8 325.9 L512.3 323.7 L515.8 321.5 L519.3 319.3 L522.9 317.1 L526.4 314.9 L529.9 312.6 L533.4 310.3 L536.9 308 L540.5 305.7 L544 303.5 L547.5 301.2 L551 299.1 L554.5 297 L558 295 L561.6 293.1 L565.1 291.4 L568.6 289.8 L572.1 288.5 L575.6 287.3 L579.1 286.3 L582.7 285.5 L586.2 284.8 L589.7 284 L593.2 283 L596.7 281.9 L600.2 280.8 L603.8 279.9 L607.3 279.2 L610.8 278.9 L614.3 278.9 L617.8 279.2 L621.4 279.8 L624.9 280.6 L628.4 281.5 L631.9 282.4 L635.4 283.2 L638.9 283.8"/>
<path d="M290.1 419 L293.6 419.1 L297.2 419.5 L300.7 420.1 L304.2 420.6 L307.7 421 L311.2 421.2 L314.7 421.1 L318.3 420.7 L321.8 419.9 L325.3 419 L328.8 417.8 L332.3 416.4 L335.8 414.8 L339.4 413 L342.9 410.7 L346.4 408.3 L349.9 405.9 L353.4 403.6 L356.9 401.3 L360.5 399.1 L364 396.9 L367.5 394.7 L371 392.6 L374.5 390.5 L378.1 388.4 L381.6 386.3 L385.1 384.3 L388.6 382.3 L392.1 380.4 L395.6 378.4 L399.2 376.5 L402.7 374.5 L406.2 372.4 L409.7 370.3 L413.2 368.2 L416.7 366 L420.3 363.8 L423.8 361.5 L427.3 359.1 L430.8 356.6 L434.3 354.1 L437.9 351.6 L441.4 349 L444.9 346.6 L448.4 344.1 L451.9 341.8 L455.4 339.5 L459 337.1 L462.5 334.7 L466 332.2 L469.5 329.8 L473 327.5 L476.5 325.1 L480.1 322.8 L483.6 320.4 L487.1 318.1 L490.6 315.7 L494.1 313.3 L497.6 310.9 L501.2 308.5 L504.7 306.1 L508.2 303.7 L511.7 301.3 L515.2 299 L518.8 296.6 L522.3 294.2 L525.8 291.7 L529.3 289.3 L532.8 286.8 L536.3 284.4 L539.9 282.1 L543.4 279.9 L546.9 277.8 L550.4 275.8 L553.9 273.9 L557.4 272.1 L561 270.6 L564.5 269.2 L568 268.1 L571.5 267.2 L575 266.6 L578.6 265.8 L582.1 264.6 L585.6 263.1 L589.1 261.6 L592.6 260.3 L596.1 259.4 L599.7 258.8 L603.2 258.7 L606.7 258.8 L610.2 259.3 L613.7 260.2 L617.2 261.3 L620.8 262.6 L624.3 264 L627.8 265.1"/>
<path d="M279 417.4 L282.5 417.5 L286 418.1 L289.5 418.9 L293 419.7 L296.6 420.1 L300.1 420.1 L303.6 419.7 L307.1 419 L310.6 417.7 L314.1 416.1 L317.7 414.3 L321.2 412.3 L324.7 410.3 L328.2 407.8 L331.7 405 L335.3 402.3 L338.8 399.8 L342.3 397.3 L345.8 394.8 L349.3 392.3 L352.8 389.9 L356.4 387.4 L359.9 385 L363.4 382.6 L366.9 380.2 L370.4 377.8 L373.9 375.5 L377.5 373.3 L381 371.2 L384.5 369 L388 366.8 L391.5 364.5 L395.1 362.2 L398.6 359.8 L402.1 357.4 L405.6 354.9 L409.1 352.4 L412.6 349.8 L416.2 347.2 L419.7 344.4 L423.2 341.5 L426.7 338.7 L430.2 335.9 L433.7 333.1 L437.3 330.4 L440.8 327.8 L444.3 325.4 L447.8 322.8 L451.3 319.9 L454.8 317.1 L458.4 314.3 L461.9 311.6 L465.4 309 L468.9 306.3 L472.4 303.6 L476 301 L479.5 298.4 L483 295.7 L486.5 293 L490 290.3 L493.5 287.7 L497.1 285.2 L500.6 282.7 L504.1 280.4 L507.6 277.9 L511.1 275.4 L514.6 272.8 L518.2 270.1 L521.7 267.5 L525.2 264.9 L528.7 262.5 L532.2 260.1 L535.8 257.9 L539.3 255.7 L542.8 253.7 L546.3 251.6 L549.8 249.7 L553.3 247.9 L556.9 246.4 L560.4 245.1 L563.9 244.4 L567.4 243.9 L570.9 242.6 L574.4 240.6 L578 238.7 L581.5 237.3 L585 236.3 L588.5 235.7 L592 235.4 L595.5 235.4 L599.1 235.7 L602.6 236.3 L606.1 237.3 L609.6 238.6 L613.1 240.2 L616.7 241.7"/>
<path d="M275.2 417.4 L278.8 417.3 L282.3 418 L285.8 418.8 L289.3 419.5 L292.8 419.8 L296.3 419.8 L299.9 419.3 L303.4 418.5 L306.9 417.1 L310.4 415.3 L313.9 413.3 L317.5 411.2 L321 409.2 L324.5 406.6 L328 403.5 L331.5 400.6 L335 397.9 L338.6 395.3 L342.1 392.7 L345.6 390.1 L349.1 387.5 L352.6 385 L356.1 382.4 L359.7 379.9 L363.2 377.4 L366.7 374.9 L370.2 372.5 L373.7 370.2 L377.3 367.9 L380.8 365.6 L384.3 363.3 L387.8 360.9 L391.3 358.4 L394.8 355.9 L398.4 353.4 L401.9 350.8 L405.4 348.1 L408.9 345.4 L412.4 342.7 L415.9 339.8 L419.5 336.8 L423 333.9 L426.5 331 L430 328.1 L433.5 325.3 L437 322.7 L440.6 320.1 L444.1 317.4 L447.6 314.4 L451.1 311.4 L454.6 308.5 L458.2 305.7 L461.7 302.9 L465.2 300.1 L468.7 297.3 L472.2 294.5 L475.7 291.8 L479.3 289 L482.8 286.2 L486.3 283.5 L489.8 280.9 L493.3 278.3 L496.8 275.8 L500.4 273.4 L503.9 271 L507.4 268.4 L510.9 265.7 L514.4 263 L518 260.4 L521.5 257.8 L525 255.3 L528.5 252.9 L532 250.6 L535.5 248.5 L539.1 246.4 L542.6 244.2 L546.1 242.2 L549.6 240.3 L553.1 238.7 L556.6 237.3 L560.2 236.5 L563.7 236 L567.2 234.6 L570.7 232.6 L574.2 230.5 L577.7 229.2 L581.3 228.2 L584.8 227.6 L588.3 227.2 L591.8 227.1 L595.3 227.3 L598.9 227.8 L602.4 228.7 L605.9 229.9 L609.4 231.4 L612.9 232.9"/>
<path d="M267.8 418.2 L271.3 418.1 L274.9 418.4 L278.4 418.9 L281.9 419.2 L285.4 419.3 L288.9 419.1 L292.5 418.4 L296 417.4 L299.5 415.9 L303 414 L306.5 411.9 L310 409.7 L313.6 407.4 L317.1 404.6 L320.6 401.3 L324.1 397.9 L327.6 394.7 L331.1 391.7 L334.7 388.7 L338.2 385.8 L341.7 383 L345.2 380.1 L348.7 377.3 L352.2 374.5 L355.8 371.7 L359.3 369 L362.8 366.3 L366.3 363.7 L369.8 361.1 L373.4 358.5 L376.9 355.9 L380.4 353.2 L383.9 350.4 L387.4 347.6 L390.9 344.7 L394.5 341.8 L398 338.9 L401.5 335.9 L405 332.8 L408.5 329.7 L412 326.6 L415.6 323.5 L419.1 320.4 L422.6 317.4 L426.1 314.5 L429.6 311.8 L433.2 309 L436.7 306 L440.2 302.8 L443.7 299.4 L447.2 296.1 L450.7 292.8 L454.3 289.6 L457.8 286.5 L461.3 283.5 L464.8 280.5 L468.3 277.6 L471.8 274.6 L475.4 271.8 L478.9 268.9 L482.4 266.2 L485.9 263.6 L489.4 261 L492.9 258.5 L496.5 255.9 L500 253.4 L503.5 250.7 L507 248 L510.5 245.3 L514.1 242.7 L517.6 240.2 L521.1 237.8 L524.6 235.5 L528.1 233.2 L531.6 231.1 L535.2 228.9 L538.7 226.9 L542.2 224.9 L545.7 223.3 L549.2 221.9 L552.7 220.9 L556.3 220 L559.8 218.5 L563.3 216.6 L566.8 214.7 L570.3 213.2 L573.9 212.1 L577.4 211.2 L580.9 210.7 L584.4 210.4 L587.9 210.4 L591.4 210.7 L595 211.4 L598.5 212.3 L602 213.6 L605.5 214.9"/>
<path d="M256.7 420 L260.2 419.8 L263.7 419.6 L267.2 419.5 L270.8 419.3 L274.3 418.9 L277.8 418.3 L281.3 417.3 L284.8 415.9 L288.3 414.2 L291.9 412.2 L295.4 409.8 L298.9 407.2 L302.4 404.3 L305.9 401 L309.4 397.5 L313 393.8 L316.5 390.1 L320 386.5 L323.5 383 L327 379.6 L330.6 376.2 L334.1 372.9 L337.6 369.6 L341.1 366.3 L344.6 363.1 L348.1 359.9 L351.7 356.7 L355.2 353.6 L358.7 350.4 L362.2 347.3 L365.7 344 L369.2 340.7 L372.8 337.4 L376.3 333.9 L379.8 330.5 L383.3 327 L386.8 323.5 L390.3 319.9 L393.9 316.4 L397.4 312.9 L400.9 309.4 L404.4 305.9 L407.9 302.6 L411.5 299.3 L415 296.2 L418.5 293.1 L422 290 L425.5 286.7 L429 282.9 L432.6 278.9 L436.1 274.9 L439.6 271.1 L443.1 267.3 L446.6 263.8 L450.1 260.4 L453.7 257.1 L457.2 254 L460.7 251 L464.2 248 L467.7 245.1 L471.3 242.3 L474.8 239.6 L478.3 236.9 L481.8 234.3 L485.3 231.7 L488.8 229.1 L492.4 226.5 L495.9 223.9 L499.4 221.3 L502.9 218.8 L506.4 216.4 L509.9 214 L513.5 211.7 L517 209.5 L520.5 207.3 L524 205.2 L527.5 203.2 L531 201.4 L534.6 199.7 L538.1 198.2 L541.6 196.8 L545.1 195.5 L548.6 194 L552.2 192.3 L555.7 190.7 L559.2 189.2 L562.7 187.9 L566.2 186.8 L569.7 186 L573.3 185.4 L576.8 185.1 L580.3 185 L583.8 185.3 L587.3 185.7 L590.8 186.4 L594.4 187.3"/>
<path d="M245.5 421.5 L249.1 421.1 L252.6 420.7 L256.1 420.3 L259.6 419.7 L263.1 419 L266.6 418 L270.2 416.6 L273.7 414.9 L277.2 412.8 L280.7 410.3 L284.2 407.5 L287.7 404.3 L291.3 400.9 L294.8 397.1 L298.3 393.1 L301.8 389.1 L305.3 385 L308.9 381 L312.4 377.1 L315.9 373.2 L319.4 369.4 L322.9 365.6 L326.4 361.8 L330 358.1 L333.5 354.3 L337 350.5 L340.5 346.8 L344 343.1 L347.5 339.4 L351.1 335.7 L354.6 331.8 L358.1 327.8 L361.6 323.7 L365.1 319.6 L368.7 315.4 L372.2 311.1 L375.7 306.9 L379.2 302.8 L382.7 298.6 L386.2 294.5 L389.8 290.5 L393.3 286.5 L396.8 282.6 L400.3 278.9 L403.8 275.2 L407.3 271.6 L410.9 268 L414.4 264.1 L417.9 259.9 L421.4 255.5 L424.9 251.1 L428.4 246.9 L432 243 L435.5 239.3 L439 235.8 L442.5 232.5 L446 229.4 L449.6 226.3 L453.1 223.4 L456.6 220.5 L460.1 217.7 L463.6 215 L467.1 212.4 L470.7 209.8 L474.2 207.2 L477.7 204.6 L481.2 202.1 L484.7 199.6 L488.2 197.2 L491.8 194.8 L495.3 192.6 L498.8 190.4 L502.3 188.2 L505.8 186.1 L509.4 184.1 L512.9 182.1 L516.4 180.2 L519.9 178.3 L523.4 176.5 L526.9 174.8 L530.5 173.1 L534 171.6 L537.5 170.1 L541 168.8 L544.5 167.4 L548 166.1 L551.6 164.8 L555.1 163.6 L558.6 162.6 L562.1 161.7 L565.6 161.1 L569.1 160.7 L572.7 160.5 L576.2 160.7 L579.7 161.2 L583.2 162"/>
<path d="M234.4 422.5 L237.9 422.1 L241.4 421.7 L244.9 421.2 L248.5 420.4 L252 419.4 L255.5 418 L259 416.3 L262.5 414.2 L266.1 411.7 L269.6 408.8 L273.1 405.4 L276.6 401.6 L280.1 397.4 L283.6 393.1 L287.2 388.6 L290.7 384.2 L294.2 379.7 L297.7 375.4 L301.2 371.2 L304.7 367 L308.3 362.8 L311.8 358.6 L315.3 354.3 L318.8 350 L322.3 345.6 L325.8 341.2 L329.4 336.8 L332.9 332.6 L336.4 328.4 L339.9 324.2 L343.4 319.7 L347 314.9 L350.5 310 L354 305 L357.5 300.1 L361 295.1 L364.5 290.1 L368.1 285.2 L371.6 280.4 L375.1 275.6 L378.6 270.9 L382.1 266.2 L385.6 261.6 L389.2 257.1 L392.7 252.8 L396.2 248.6 L399.7 244.5 L403.2 240.5 L406.8 235.9 L410.3 231 L413.8 226.3 L417.3 222.1 L420.8 218.3 L424.3 214.8 L427.9 211.5 L431.4 208.5 L434.9 205.5 L438.4 202.5 L441.9 199.6 L445.4 196.8 L449 194.1 L452.5 191.6 L456 189.1 L459.5 186.6 L463 184.2 L466.5 181.7 L470.1 179.3 L473.6 176.9 L477.1 174.6 L480.6 172.5 L484.1 170.5 L487.7 168.6 L491.2 166.7 L494.7 164.8 L498.2 162.9 L501.7 161.1 L505.2 159.4 L508.8 157.6 L512.3 155.9 L515.8 154.2 L519.3 152.5 L522.8 151.1 L526.3 149.8 L529.9 148.6 L533.4 147.3 L536.9 145.9 L540.4 144.5 L543.9 143.1 L547.5 141.9 L551 140.8 L554.5 139.9 L558 139.1 L561.5 138.6 L565 138.3 L568.6 138.6 L572.1 139.3"/>
<path d="M226.5 423.7 L230 423.2 L233.5 422.7 L237 422.1 L240.5 421.1 L244 419.7 L247.6 418.1 L251.1 416.1 L254.6 413.7 L258.1 410.9 L261.6 407.7 L265.1 404.1 L268.7 399.9 L272.2 395.4 L275.7 390.6 L279.2 385.8 L282.7 381.1 L286.2 376.3 L289.8 371.7 L293.3 367.2 L296.8 362.8 L300.3 358.3 L303.8 353.8 L307.4 349.1 L310.9 344.4 L314.4 339.6 L317.9 334.7 L321.4 329.8 L324.9 325.1 L328.5 320.7 L332 316.2 L335.5 311.3 L339 306 L342.5 300.4 L346 295.1 L349.6 289.6 L353.1 284.1 L356.6 278.6 L360.1 273 L363.6 267.5 L367.2 262.2 L370.7 257.1 L374.2 252 L377.7 247 L381.2 242 L384.7 237.2 L388.3 232.6 L391.8 228.1 L395.3 223.9 L398.8 219.5 L402.3 214.4 L405.8 209.6 L409.4 205.6 L412.9 202 L416.4 198.7 L419.9 195.7 L423.4 192.8 L426.9 190 L430.5 187.1 L434 184.3 L437.5 181.5 L441 179 L444.5 176.6 L448.1 174.2 L451.6 171.9 L455.1 169.6 L458.6 167.3 L462.1 164.9 L465.6 162.6 L469.2 160.5 L472.7 158.6 L476.2 156.8 L479.7 155.1 L483.2 153.3 L486.7 151.6 L490.3 149.9 L493.8 148.4 L497.3 146.9 L500.8 145.3 L504.3 143.8 L507.9 142.2 L511.4 140.6 L514.9 139.4 L518.4 138.3 L521.9 137 L525.4 135.6 L529 134 L532.5 132.5 L536 130.9 L539.5 129.5 L543 128.3 L546.5 127.2 L550.1 126.2 L553.6 125.5 L557.1 125 L560.6 124.9 L564.1 125.6"/>
<path d="M223.3 424.6 L226.8 423.9 L230.3 423.2 L233.8 422.4 L237.3 421.3 L240.8 419.8 L244.4 418.1 L247.9 416 L251.4 413.4 L254.9 410.5 L258.4 407.2 L261.9 403.5 L265.5 399.3 L269 394.7 L272.5 389.8 L276 384.9 L279.5 380 L283 375.2 L286.6 370.4 L290.1 365.8 L293.6 361.2 L297.1 356.6 L300.6 351.9 L304.2 347.1 L307.7 342.2 L311.2 337.2 L314.7 332.2 L318.2 327.1 L321.7 322.2 L325.3 317.5 L328.8 312.8 L332.3 307.7 L335.8 302.3 L339.3 296.8 L342.8 291.1 L346.4 285.5 L349.9 279.9 L353.4 274 L356.9 268.1 L360.4 262.4 L364 257 L367.5 251.6 L371 246.4 L374.5 241.2 L378 236.2 L381.5 231.3 L385.1 226.7 L388.6 222.3 L392.1 218.1 L395.6 213.5 L399.1 208.5 L402.6 203.8 L406.2 199.7 L409.7 196.1 L413.2 192.8 L416.7 189.8 L420.2 187 L423.7 184.2 L427.3 181.4 L430.8 178.6 L434.3 176 L437.8 173.5 L441.3 171.1 L444.9 168.8 L448.4 166.6 L451.9 164.3 L455.4 162 L458.9 159.7 L462.4 157.5 L466 155.5 L469.5 153.7 L473 151.9 L476.5 150.3 L480 148.6 L483.5 146.9 L487.1 145.3 L490.6 143.9 L494.1 142.4 L497.6 141 L501.1 139.5 L504.7 138.1 L508.2 136.7 L511.7 135.5 L515.2 134.4 L518.7 133 L522.2 131.5 L525.8 129.9 L529.3 128.3 L532.8 126.7 L536.3 125.2 L539.8 123.9 L543.3 122.7 L546.9 121.7 L550.4 120.9 L553.9 120.4 L557.4 120.3 L560.9 121"/>
<path d="M212.1 427.7 L215.6 426.5 L219.1 425.2 L222.7 423.8 L226.2 422.2 L229.7 420.3 L233.2 418.1 L236.7 415.6 L240.2 412.7 L243.8 409.4 L247.3 405.7 L250.8 401.6 L254.3 397.1 L257.8 392.4 L261.4 387.5 L264.9 382.2 L268.4 377 L271.9 371.7 L275.4 366.5 L278.9 361.3 L282.5 356.1 L286 350.9 L289.5 345.6 L293 340.2 L296.5 334.7 L300 329.2 L303.6 323.7 L307.1 318 L310.6 312 L314.1 306 L317.6 299.9 L321.1 294 L324.7 288.1 L328.2 282 L331.7 275.9 L335.2 269.7 L338.7 263.4 L342.3 257.2 L345.8 251 L349.3 244.9 L352.8 239 L356.3 233.3 L359.8 227.7 L363.4 222.4 L366.9 217.2 L370.4 212.4 L373.9 207.8 L377.4 203.5 L380.9 199.2 L384.5 194.6 L388 190 L391.5 185.6 L395 181.7 L398.5 178.1 L402.1 174.9 L405.6 172 L409.1 169.2 L412.6 166.6 L416.1 164 L419.6 161.5 L423.2 159.2 L426.7 156.9 L430.2 154.7 L433.7 152.5 L437.2 150.4 L440.7 148.4 L444.3 146.4 L447.8 144.4 L451.3 142.5 L454.8 140.7 L458.3 139 L461.8 137.5 L465.4 136 L468.9 134.6 L472.4 133.2 L475.9 131.9 L479.4 130.7 L483 129.6 L486.5 128.4 L490 127.4 L493.5 126.3 L497 125.3 L500.5 124.2 L504.1 122.8 L507.6 121.3 L511.1 119.6 L514.6 117.8 L518.1 116.1 L521.6 114.4 L525.2 112.8 L528.7 111.3 L532.2 110.1 L535.7 109 L539.2 108.1 L542.8 107.6 L546.3 107.4 L549.8 107.7"/>
<path d="M201 431.2 L204.5 429.5 L208 427.7 L211.5 425.9 L215 423.8 L218.5 421.5 L222.1 418.9 L225.6 415.9 L229.1 412.6 L232.6 408.9 L236.1 404.8 L239.7 400.4 L243.2 395.6 L246.7 390.6 L250.2 385.4 L253.7 380 L257.2 374.6 L260.8 369 L264.3 363.4 L267.8 357.6 L271.3 351.8 L274.8 345.9 L278.3 339.9 L281.9 333.7 L285.4 327.5 L288.9 321.2 L292.4 314.8 L295.9 308.3 L299.5 301.5 L303 294.7 L306.5 287.8 L310 281 L313.5 274.1 L317 267.3 L320.6 260.6 L324.1 253.8 L327.6 247.2 L331.1 240.6 L334.6 234.2 L338.1 227.9 L341.7 221.8 L345.2 216 L348.7 210.3 L352.2 204.9 L355.7 199.7 L359.2 194.7 L362.8 190 L366.3 185.4 L369.8 181.1 L373.3 177.1 L376.8 173.3 L380.4 169.7 L383.9 166.3 L387.4 163.1 L390.9 160.2 L394.4 157.5 L397.9 154.9 L401.5 152.5 L405 150.2 L408.5 147.9 L412 145.8 L415.5 143.7 L419 141.7 L422.6 139.8 L426.1 137.9 L429.6 136.1 L433.1 134.3 L436.6 132.6 L440.2 130.9 L443.7 129.4 L447.2 127.9 L450.7 126.5 L454.2 125.2 L457.7 123.9 L461.3 122.8 L464.8 121.7 L468.3 120.6 L471.8 119.7 L475.3 118.7 L478.8 117.8 L482.4 116.9 L485.9 115.9 L489.4 114.7 L492.9 113.4 L496.4 111.9 L499.9 110.2 L503.5 108.5 L507 106.8 L510.5 105.1 L514 103.5 L517.5 102.1 L521.1 100.9 L524.6 99.9 L528.1 99.1 L531.6 98.6 L535.1 98.4 L538.6 98.6"/>
<path d="M189.8 435.4 L193.3 433.4 L196.9 431.3 L200.4 429 L203.9 426.6 L207.4 423.9 L210.9 420.9 L214.4 417.6 L218 413.9 L221.5 409.8 L225 405.4 L228.5 400.6 L232 395.5 L235.5 390.2 L239.1 384.8 L242.6 379.2 L246.1 373.4 L249.6 367.5 L253.1 361.4 L256.6 355.1 L260.2 348.6 L263.7 342 L267.2 335.2 L270.7 328.2 L274.2 321.1 L277.8 313.9 L281.3 306.6 L284.8 299.1 L288.3 291.7 L291.8 284.2 L295.3 276.7 L298.9 269.2 L302.4 261.8 L305.9 254.4 L309.4 247 L312.9 239.7 L316.4 232.5 L320 225.6 L323.5 218.9 L327 212.4 L330.5 206.1 L334 200.2 L337.6 194.5 L341.1 189.1 L344.6 184.1 L348.1 179.3 L351.6 174.7 L355.1 170.5 L358.7 166.5 L362.2 162.9 L365.7 159.6 L369.2 156.5 L372.7 153.6 L376.2 150.8 L379.8 148.3 L383.3 145.9 L386.8 143.6 L390.3 141.4 L393.8 139.4 L397.3 137.4 L400.9 135.5 L404.4 133.6 L407.9 131.8 L411.4 130.1 L414.9 128.4 L418.5 126.7 L422 125.1 L425.5 123.6 L429 122.1 L432.5 120.7 L436 119.4 L439.6 118.1 L443.1 116.9 L446.6 115.8 L450.1 114.7 L453.6 113.7 L457.1 112.7 L460.7 111.8 L464.2 110.9 L467.7 110.1 L471.2 109.1 L474.7 108.1 L478.3 107 L481.8 105.7 L485.3 104.2 L488.8 102.6 L492.3 101 L495.8 99.4 L499.4 97.9 L502.9 96.4 L506.4 95 L509.9 93.9 L513.4 92.9 L516.9 92.2 L520.5 91.7 L524 91.4 L527.5 91.4"/>
<path d="M178.7 440.5 L182.2 438.2 L185.7 435.8 L189.2 433.3 L192.7 430.6 L196.3 427.6 L199.8 424.3 L203.3 420.7 L206.8 416.7 L210.3 412.3 L213.8 407.6 L217.4 402.5 L220.9 397.1 L224.4 391.5 L227.9 385.7 L231.4 379.8 L235 373.8 L238.5 367.5 L242 361 L245.5 354.2 L249 347.2 L252.5 339.8 L256.1 332.2 L259.6 324.4 L263.1 316.4 L266.6 308.4 L270.1 300.3 L273.6 292.1 L277.2 283.8 L280.7 275.5 L284.2 267.3 L287.7 259.2 L291.2 251.1 L294.8 243.1 L298.3 235.2 L301.8 227.4 L305.3 219.8 L308.8 212.4 L312.3 205.3 L315.9 198.5 L319.4 192.2 L322.9 186.2 L326.4 180.6 L329.9 175.4 L333.4 170.6 L337 166.2 L340.5 162.1 L344 158.4 L347.5 155 L351 151.8 L354.5 148.8 L358.1 146 L361.6 143.5 L365.1 141.1 L368.6 138.9 L372.1 136.8 L375.7 134.8 L379.2 132.9 L382.7 131 L386.2 129.3 L389.7 127.6 L393.2 125.9 L396.8 124.3 L400.3 122.7 L403.8 121.2 L407.3 119.7 L410.8 118.2 L414.3 116.8 L417.9 115.4 L421.4 114.1 L424.9 112.8 L428.4 111.6 L431.9 110.5 L435.5 109.4 L439 108.3 L442.5 107.3 L446 106.4 L449.5 105.5 L453 104.5 L456.6 103.6 L460.1 102.7 L463.6 101.6 L467.1 100.5 L470.6 99.2 L474.1 97.8 L477.7 96.3 L481.2 94.8 L484.7 93.3 L488.2 91.8 L491.7 90.4 L495.2 89.1 L498.8 88 L502.3 87 L505.8 86.1 L509.3 85.5 L512.8 85 L516.4 84.6"/>
<path d="M167.5 446.5 L171 444 L174.6 441.4 L178.1 438.6 L181.6 435.7 L185.1 432.5 L188.6 429 L192.2 425.2 L195.7 421 L199.2 416.4 L202.7 411.4 L206.2 406 L209.7 400.3 L213.3 394.3 L216.8 388.3 L220.3 382.2 L223.8 376 L227.3 369.5 L230.8 362.6 L234.4 355.4 L237.9 347.7 L241.4 339.7 L244.9 331.3 L248.4 322.7 L251.9 313.9 L255.5 305.1 L259 296.2 L262.5 287.2 L266 278.1 L269.5 269.1 L273.1 260.1 L276.6 251.2 L280.1 242.5 L283.6 233.9 L287.1 225.4 L290.6 217 L294.2 208.9 L297.7 201 L301.2 193.5 L304.7 186.4 L308.2 179.9 L311.7 173.9 L315.3 168.4 L318.8 163.5 L322.3 159.1 L325.8 155.1 L329.3 151.5 L332.9 148.3 L336.4 145.4 L339.9 142.6 L343.4 140.1 L346.9 137.7 L350.4 135.5 L354 133.5 L357.5 131.5 L361 129.7 L364.5 128 L368 126.3 L371.5 124.7 L375.1 123.1 L378.6 121.6 L382.1 120.1 L385.6 118.6 L389.1 117.2 L392.6 115.7 L396.2 114.3 L399.7 112.9 L403.2 111.6 L406.7 110.2 L410.2 108.9 L413.8 107.7 L417.3 106.5 L420.8 105.3 L424.3 104.2 L427.8 103.1 L431.3 102 L434.9 101 L438.4 100 L441.9 99 L445.4 98.1 L448.9 97.1 L452.4 96 L456 94.9 L459.5 93.6 L463 92.3 L466.5 90.8 L470 89.4 L473.6 87.9 L477.1 86.5 L480.6 85.1 L484.1 83.8 L487.6 82.6 L491.1 81.5 L494.7 80.5 L498.2 79.6 L501.7 78.8 L505.2 78.2"/>
<path d="M156.4 453.3 L159.9 450.5 L163.4 447.6 L166.9 444.5 L170.5 441.3 L174 437.9 L177.5 434.3 L181 430.5 L184.5 426.3 L188 421.7 L191.6 416.6 L195.1 411.1 L198.6 405.3 L202.1 399.1 L205.6 392.8 L209.1 386.5 L212.7 380 L216.2 373.1 L219.7 365.9 L223.2 358.2 L226.7 350.1 L230.3 341.6 L233.8 332.6 L237.3 323.2 L240.8 313.6 L244.3 304 L247.8 294.4 L251.4 284.7 L254.9 275 L258.4 265.2 L261.9 255.3 L265.4 245.6 L268.9 236.2 L272.5 226.8 L276 217.5 L279.5 208.4 L283 199.6 L286.5 191.3 L290 183.5 L293.6 176.2 L297.1 169.6 L300.6 163.7 L304.1 158.3 L307.6 153.7 L311.2 149.5 L314.7 145.9 L318.2 142.8 L321.7 140 L325.2 137.5 L328.7 135.1 L332.3 133 L335.8 131 L339.3 129.2 L342.8 127.4 L346.3 125.8 L349.8 124.2 L353.4 122.6 L356.9 121.1 L360.4 119.7 L363.9 118.3 L367.4 116.9 L371 115.5 L374.5 114.2 L378 112.8 L381.5 111.4 L385 110 L388.5 108.6 L392.1 107.3 L395.6 106 L399.1 104.6 L402.6 103.4 L406.1 102.1 L409.6 100.9 L413.2 99.7 L416.7 98.5 L420.2 97.4 L423.7 96.3 L427.2 95.1 L430.7 94 L434.3 93 L437.8 91.9 L441.3 90.7 L444.8 89.6 L448.3 88.3 L451.9 87 L455.4 85.6 L458.9 84.3 L462.4 82.9 L465.9 81.5 L469.4 80.2 L473 78.9 L476.5 77.6 L480 76.4 L483.5 75.1 L487 74 L490.5 72.9 L494.1 72"/>
<path d="M145.2 459.7 L148.8 456.6 L152.3 453.2 L155.8 449.7 L159.3 446.2 L162.8 442.7 L166.3 439.1 L169.9 435.3 L173.4 431.1 L176.9 426.6 L180.4 421.6 L183.9 416.2 L187.4 410.4 L191 404.4 L194.5 398 L198 391.2 L201.5 384.2 L205 376.9 L208.6 369.3 L212.1 361.2 L215.6 352.8 L219.1 343.9 L222.6 334.7 L226.1 325.1 L229.7 315.1 L233.2 304.6 L236.7 294.6 L240.2 284.7 L243.7 274.3 L247.2 263.7 L250.8 253 L254.3 242.3 L257.8 231.6 L261.3 221.4 L264.8 211.6 L268.4 202.2 L271.9 193.1 L275.4 184.5 L278.9 176.5 L282.4 169 L285.9 162.4 L289.5 156.5 L293 151.2 L296.5 146.7 L300 142.7 L303.5 139.3 L307 136.3 L310.6 133.8 L314.1 131.5 L317.6 129.4 L321.1 127.5 L324.6 125.7 L328.1 124.1 L331.7 122.6 L335.2 121.1 L338.7 119.6 L342.2 118.2 L345.7 116.8 L349.3 115.5 L352.8 114.1 L356.3 112.8 L359.8 111.5 L363.3 110.2 L366.8 109 L370.4 107.6 L373.9 106.1 L377.4 104.8 L380.9 103.4 L384.4 102 L387.9 100.7 L391.5 99.3 L395 98 L398.5 96.8 L402 95.5 L405.5 94.3 L409.1 93 L412.6 91.8 L416.1 90.5 L419.6 89.3 L423.1 88 L426.6 86.8 L430.2 85.6 L433.7 84.4 L437.2 83.2 L440.7 81.9 L444.2 80.6 L447.7 79.2 L451.3 77.9 L454.8 76.6 L458.3 75.3 L461.8 74 L465.3 72.8 L468.9 71.5 L472.4 70.1 L475.9 68.9 L479.4 67.7 L482.9 66.7"/>
</g>
<path d="M501.9 488.3h.01M490.7 483.4h.01M479.6 478.9h.01M468.4 474.5h.01M457.3 470.3h.01M446.1 466.2h.01M435 462.3h.01M423.8 458.5h.01M412.7 454.7h.01M401.6 450.9h.01M390.4 447h.01M379.3 443h.01M368.1 439.3h.01M357 435.7h.01M345.8 432.1h.01M339.8 430.1h.01M334.7 428.7h.01M323.6 425.9h.01M312.4 423.4h.01M301.3 421.2h.01M290.1 419h.01M279 417.4h.01M275.2 417.4h.01M267.8 418.2h.01M256.7 420h.01M245.5 421.5h.01M234.4 422.5h.01M226.5 423.7h.01M223.3 424.6h.01M212.1 427.7h.01M201 431.2h.01M189.8 435.4h.01M178.7 440.5h.01M167.5 446.5h.01M156.4 453.3h.01M145.2 459.7h.01M512.4 492.6h.01M501.3 487.5h.01M490.1 482.7h.01M479 478h.01M467.8 473.4h.01M456.7 468.8h.01M445.5 464.7h.01M434.4 460.8h.01M423.3 456.9h.01M412.1 453h.01M401 449.1h.01M389.8 445.2h.01M378.7 441.4h.01M367.5 437.7h.01M356.4 434h.01M350.3 432h.01M345.2 430.4h.01M334.1 427.2h.01M323 424.4h.01M311.8 422h.01M300.7 420.1h.01M289.5 418.9h.01M285.8 418.8h.01M278.4 418.9h.01M267.2 419.5h.01M256.1 420.3h.01M244.9 421.2h.01M237 422.1h.01M233.8 422.4h.01M222.7 423.8h.01M211.5 425.9h.01M200.4 429h.01M189.2 433.3h.01M178.1 438.6h.01M166.9 444.5h.01M155.8 449.7h.01M523 498.1h.01M511.8 492.8h.01M500.7 487.2h.01M489.5 482h.01M478.4 476.9h.01M467.2 471.8h.01M456.1 466.9h.01M445 462.7h.01M433.8 458.7h.01M422.7 454.9h.01M411.5 451h.01M400.4 447.1h.01M389.2 443.2h.01M378.1 439.4h.01M366.9 435.7h.01M360.9 433.7h.01M355.8 432h.01M344.7 428.5h.01M333.5 425.5h.01M322.4 423h.01M311.2 421.2h.01M300.1 420.1h.01M296.3 419.8h.01M288.9 419.1h.01M277.8 418.3h.01M266.6 418h.01M255.5 418h.01M247.6 418.1h.01M244.4 418.1h.01M233.2 418.1h.01M222.1 418.9h.01M210.9 420.9h.01M199.8 424.3h.01M188.6 429h.01M177.5 434.3h.01M166.3 439.1h.01M533.5 499.9h.01M522.4 494.7h.01M511.2 489.3h.01M500.1 483.9h.01M488.9 478.8h.01M477.8 473.7h.01M466.7 468.7h.01M455.5 463.9h.01M444.4 459.8h.01M433.2 455.8h.01M422.1 451.9h.01M410.9 448h.01M399.8 444.1h.01M388.6 440.2h.01M377.5 436.4h.01M371.4 434.4h.01M366.4 432.7h.01M355.2 429h.01M344.1 425.5h.01M332.9 422.5h.01M321.8 419.9h.01M310.6 417.7h.01M306.9 417.1h.01M299.5 415.9h.01M288.3 414.2h.01M277.2 412.8h.01M266.1 411.7h.01M258.1 410.9h.01M254.9 410.5h.01M243.8 409.4h.01M232.6 408.9h.01M221.5 409.8h.01M210.3 412.3h.01M199.2 416.4h.01M188 421.7h.01M176.9 426.6h.01M544.1 499.1h.01M532.9 494.3h.01M521.8 489.3h.01M510.6 484.3h.01M499.5 479.4h.01M488.3 474.6h.01M477.2 469.7h.01M466.1 465h.01M454.9 460.5h.01M443.8 456.2h.01M432.6 452h.01M421.5 447.9h.01M410.3 443.9h.01M399.2 439.9h.01M388 435.9h.01M382 433.7h.01M376.9 431.8h.01M365.8 427.8h.01M354.6 424h.01M343.5 420.2h.01M332.3 416.4h.01M321.2 412.3h.01M317.5 411.2h.01M310 409.7h.01M298.9 407.2h.01M287.7 404.3h.01M276.6 401.6h.01M268.7 399.9h.01M265.5 399.3h.01M254.3 397.1h.01M243.2 395.6h.01M232 395.5h.01M220.9 397.1h.01M209.7 400.3h.01M198.6 405.3h.01M187.4 410.4h.01M550.1 497.9h.01M539 493.2h.01M527.8 488.4h.01M516.7 483.6h.01M505.5 478.8h.01M494.4 474.2h.01M483.2 469.5h.01M472.1 464.8h.01M460.9 460.2h.01M449.8 455.7h.01M438.7 451.4h.01M427.5 447.2h.01M416.4 443.1h.01M405.2 439h.01M394.1 434.9h.01M388 432.6h.01M382.9 430.6h.01M371.8 426.4h.01M360.6 422.2h.01M349.5 418h.01M338.4 413.5h.01M327.2 408.6h.01M323.5 407.4h.01M316.1 405.5h.01M304.9 402h.01M293.8 398.2h.01M282.6 394.3h.01M274.7 392h.01M271.5 391.2h.01M260.3 388.9h.01M249.2 386.9h.01M238.1 386.3h.01M226.9 387.4h.01M215.8 390h.01M204.6 394.6h.01M193.5 399.9h.01M554.6 496.6h.01M543.5 492.1h.01M532.3 487.4h.01M521.2 482.6h.01M510 478h.01M498.9 473.4h.01M487.8 468.7h.01M476.6 464h.01M465.5 459.4h.01M454.3 454.8h.01M443.2 450.5h.01M432 446.3h.01M420.9 442.1h.01M409.7 438h.01M398.6 433.8h.01M392.5 431.4h.01M387.5 429.4h.01M376.3 425h.01M365.2 420.5h.01M354 415.8h.01M342.9 410.7h.01M331.7 405h.01M328 403.5h.01M320.6 401.3h.01M309.4 397.5h.01M298.3 393.1h.01M287.2 388.6h.01M279.2 385.8h.01M276 384.9h.01M264.9 382.2h.01M253.7 380h.01M242.6 379.2h.01M231.4 379.8h.01M220.3 382.2h.01M209.1 386.5h.01M198 391.2h.01M565.2 493h.01M554 488.5h.01M542.9 483.8h.01M531.7 479.2h.01M520.6 474.5h.01M509.5 469.9h.01M498.3 465.2h.01M487.2 460.5h.01M476 455.9h.01M464.9 451.4h.01M453.7 447.1h.01M442.6 443.1h.01M431.4 439h.01M420.3 434.8h.01M409.2 430.4h.01M403.1 427.9h.01M398 425.8h.01M386.9 420.8h.01M375.7 415.6h.01M364.6 409.8h.01M353.4 403.6h.01M342.3 397.3h.01M338.6 395.3h.01M331.1 391.7h.01M320 386.5h.01M308.9 381h.01M297.7 375.4h.01M289.8 371.7h.01M286.6 370.4h.01M275.4 366.5h.01M264.3 363.4h.01M253.1 361.4h.01M242 361h.01M230.8 362.6h.01M219.7 365.9h.01M208.6 369.3h.01M575.7 488.9h.01M564.6 484.2h.01M553.4 479.5h.01M542.3 474.8h.01M531.1 470.2h.01M520 465.5h.01M508.9 460.7h.01M497.7 456h.01M486.6 451.2h.01M475.4 446.8h.01M464.3 442.8h.01M453.1 438.9h.01M442 434.9h.01M430.9 430.7h.01M419.7 426.2h.01M413.6 423.6h.01M408.6 421.4h.01M397.4 416h.01M386.3 410.2h.01M375.1 403.8h.01M364 396.9h.01M352.8 389.9h.01M349.1 387.5h.01M341.7 383h.01M330.6 376.2h.01M319.4 369.4h.01M308.3 362.8h.01M300.3 358.3h.01M297.1 356.6h.01M286 350.9h.01M274.8 345.9h.01M263.7 342h.01M252.5 339.8h.01M241.4 339.7h.01M230.3 341.6h.01M219.1 343.9h.01M586.3 484.9h.01M575.1 480.2h.01M564 475.4h.01M552.8 470.6h.01M541.7 465.9h.01M530.6 461.1h.01M519.4 456.3h.01M508.3 451.5h.01M497.1 446.8h.01M486 442.4h.01M474.8 438.4h.01M463.7 434.5h.01M452.5 430.6h.01M441.4 426.3h.01M430.3 421.7h.01M424.2 419h.01M419.1 416.6h.01M408 411h.01M396.8 404.8h.01M385.7 397.9h.01M374.5 390.5h.01M363.4 382.6h.01M359.7 379.9h.01M352.2 374.5h.01M341.1 366.3h.01M330 358.1h.01M318.8 350h.01M310.9 344.4h.01M307.7 342.2h.01M296.5 334.7h.01M285.4 327.5h.01M274.2 321.1h.01M263.1 316.4h.01M251.9 313.9h.01M240.8 313.6h.01M229.7 315.1h.01M590.3 483.5h.01M579.2 478.8h.01M568 474h.01M556.9 469.2h.01M545.7 464.4h.01M534.6 459.6h.01M523.4 454.8h.01M512.3 450h.01M501.1 445.3h.01M490 440.9h.01M478.9 436.8h.01M467.7 432.9h.01M456.6 428.9h.01M445.4 424.6h.01M434.3 420h.01M428.2 417.2h.01M423.1 414.8h.01M412 409.1h.01M400.8 402.8h.01M389.7 395.7h.01M378.6 388.1h.01M367.4 379.9h.01M363.7 377h.01M356.3 371.3h.01M345.1 362.6h.01M334 353.8h.01M322.8 344.9h.01M314.9 338.9h.01M311.7 336.5h.01M300.5 328.4h.01M289.4 320.3h.01M278.3 312.9h.01M267.1 307.2h.01M256 303.8h.01M244.8 302.6h.01M233.7 303.1h.01M596.8 481.4h.01M585.7 476.5h.01M574.5 471.7h.01M563.4 466.9h.01M552.3 462.1h.01M541.1 457.3h.01M530 452.5h.01M518.8 447.6h.01M507.7 442.9h.01M496.5 438.4h.01M485.4 434.3h.01M474.2 430.3h.01M463.1 426.2h.01M452 421.8h.01M440.8 417.1h.01M434.7 414.3h.01M429.7 411.9h.01M418.5 406h.01M407.4 399.5h.01M396.2 392.3h.01M385.1 384.3h.01M373.9 375.5h.01M370.2 372.5h.01M362.8 366.3h.01M351.7 356.7h.01M340.5 346.8h.01M329.4 336.8h.01M321.4 329.8h.01M318.2 327.1h.01M307.1 318h.01M295.9 308.3h.01M284.8 299.1h.01M273.6 292.1h.01M262.5 287.2h.01M251.4 284.7h.01M240.2 284.7h.01M607.4 477.9h.01M596.2 473.1h.01M585.1 468.2h.01M574 463.4h.01M562.8 458.6h.01M551.7 453.7h.01M540.5 448.9h.01M529.4 443.9h.01M518.2 439.1h.01M507.1 434.6h.01M495.9 430.3h.01M484.8 426.1h.01M473.7 421.8h.01M462.5 417.3h.01M451.4 412.5h.01M445.3 409.6h.01M440.2 407.1h.01M429.1 401.1h.01M417.9 394.4h.01M406.8 386.9h.01M395.6 378.4h.01M384.5 369h.01M380.8 365.6h.01M373.4 358.5h.01M362.2 347.3h.01M351.1 335.7h.01M339.9 324.2h.01M332 316.2h.01M328.8 312.8h.01M317.6 299.9h.01M306.5 287.8h.01M295.3 276.7h.01M284.2 267.3h.01M273.1 260.1h.01M261.9 255.3h.01M250.8 253h.01M617.9 474.4h.01M606.8 469.6h.01M595.6 464.7h.01M584.5 459.8h.01M573.4 455h.01M562.2 450.1h.01M551.1 445.2h.01M539.9 440.2h.01M528.8 435.4h.01M517.6 430.7h.01M506.5 426.3h.01M495.3 421.9h.01M484.2 417.5h.01M473.1 412.8h.01M461.9 407.8h.01M455.8 404.9h.01M450.8 402.3h.01M439.6 396.2h.01M428.5 389.2h.01M417.3 381.4h.01M406.2 372.4h.01M395.1 362.2h.01M391.3 358.4h.01M383.9 350.4h.01M372.8 337.4h.01M361.6 323.7h.01M350.5 310h.01M342.5 300.4h.01M339.3 296.8h.01M328.2 282h.01M317 267.3h.01M305.9 254.4h.01M294.8 243.1h.01M283.6 233.9h.01M272.5 226.8h.01M261.3 221.4h.01M628.5 470.9h.01M617.3 466h.01M606.2 461.1h.01M595.1 456.2h.01M583.9 451.3h.01M572.8 446.3h.01M561.6 441.4h.01M550.5 436.4h.01M539.3 431.5h.01M528.2 426.8h.01M517 422.2h.01M505.9 417.7h.01M494.8 413.1h.01M483.6 408.3h.01M472.5 403.1h.01M466.4 400.1h.01M461.3 397.4h.01M450.2 391h.01M439 383.8h.01M427.9 375.5h.01M416.7 366h.01M405.6 354.9h.01M401.9 350.8h.01M394.5 341.8h.01M383.3 327h.01M372.2 311.1h.01M361 295.1h.01M353.1 284.1h.01M349.9 279.9h.01M338.7 263.4h.01M327.6 247.2h.01M316.4 232.5h.01M305.3 219.8h.01M294.2 208.9h.01M283 199.6h.01M271.9 193.1h.01M639 467.3h.01M627.9 462.4h.01M616.8 457.4h.01M605.6 452.5h.01M594.5 447.5h.01M583.3 442.5h.01M572.2 437.6h.01M561 432.6h.01M549.9 427.6h.01M538.7 422.8h.01M527.6 418.1h.01M516.5 413.4h.01M505.3 408.7h.01M494.2 403.7h.01M483 398.3h.01M476.9 395.1h.01M471.9 392.3h.01M460.7 385.6h.01M449.6 378h.01M438.4 369.2h.01M427.3 359.1h.01M416.2 347.2h.01M412.4 342.7h.01M405 332.8h.01M393.9 316.4h.01M382.7 298.6h.01M371.6 280.4h.01M363.6 267.5h.01M360.4 262.4h.01M349.3 244.9h.01M338.1 227.9h.01M327 212.4h.01M315.9 198.5h.01M304.7 186.4h.01M293.6 176.2h.01M282.4 169h.01M649.6 463.7h.01M638.5 458.8h.01M627.3 453.8h.01M616.2 448.8h.01M605 443.8h.01M593.9 438.8h.01M582.7 433.7h.01M571.6 428.7h.01M560.4 423.7h.01M549.3 418.8h.01M538.2 414h.01M527 409.1h.01M515.9 404.2h.01M504.7 399h.01M493.6 393.3h.01M487.5 390h.01M482.4 387h.01M471.3 379.9h.01M460.1 371.8h.01M449 362.5h.01M437.9 351.6h.01M426.7 338.7h.01M423 333.9h.01M415.6 323.5h.01M404.4 305.9h.01M393.3 286.5h.01M382.1 266.2h.01M374.2 252h.01M371 246.4h.01M359.8 227.7h.01M348.7 210.3h.01M337.6 194.5h.01M326.4 180.6h.01M315.3 168.4h.01M304.1 158.3h.01M293 151.2h.01M660.1 460.1h.01M649 455.1h.01M637.9 450.1h.01M626.7 445.1h.01M615.6 440.1h.01M604.4 435h.01M593.3 430h.01M582.1 424.9h.01M571 419.9h.01M559.8 414.8h.01M548.7 409.9h.01M537.6 404.8h.01M526.4 399.7h.01M515.3 394.3h.01M504.1 388.4h.01M498 384.9h.01M493 381.8h.01M481.8 374.2h.01M470.7 365.5h.01M459.5 355.6h.01M448.4 344.1h.01M437.3 330.4h.01M433.5 325.3h.01M426.1 314.5h.01M415 296.2h.01M403.8 275.2h.01M392.7 252.8h.01M384.7 237.2h.01M381.5 231.3h.01M370.4 212.4h.01M359.2 194.7h.01M348.1 179.3h.01M337 166.2h.01M325.8 155.1h.01M314.7 145.9h.01M303.5 139.3h.01M670.7 456.5h.01M659.6 451.5h.01M648.4 446.5h.01M637.3 441.4h.01M626.1 436.4h.01M615 431.3h.01M603.8 426.2h.01M592.7 421.1h.01M581.5 416h.01M570.4 411h.01M559.3 405.9h.01M548.1 400.6h.01M537 395.3h.01M525.8 389.7h.01M514.7 383.6h.01M508.6 380h.01M503.5 376.7h.01M492.4 368.6h.01M481.2 359.4h.01M470.1 348.9h.01M459 337.1h.01M447.8 322.8h.01M444.1 317.4h.01M436.7 306h.01M425.5 286.7h.01M414.4 264.1h.01M403.2 240.5h.01M395.3 223.9h.01M392.1 218.1h.01M380.9 199.2h.01M369.8 181.1h.01M358.7 166.5h.01M347.5 155h.01M336.4 145.4h.01M325.2 137.5h.01M314.1 131.5h.01M681.3 452.9h.01M670.1 447.9h.01M659 442.8h.01M647.8 437.8h.01M636.7 432.7h.01M625.5 427.6h.01M614.4 422.5h.01M603.2 417.4h.01M592.1 412.3h.01M581 407.2h.01M569.8 402.1h.01M558.7 396.8h.01M547.5 391.3h.01M536.4 385.5h.01M525.2 379.1h.01M519.2 375.3h.01M514.1 371.8h.01M502.9 363.4h.01M491.8 353.8h.01M480.7 342.7h.01M469.5 329.8h.01M458.4 314.3h.01M454.6 308.5h.01M447.2 296.1h.01M436.1 274.9h.01M424.9 251.1h.01M413.8 226.3h.01M405.8 209.6h.01M402.6 203.8h.01M391.5 185.6h.01M380.4 169.7h.01M369.2 156.5h.01M358.1 146h.01M346.9 137.7h.01M335.8 131h.01M324.6 125.7h.01M691.8 449.2h.01M680.7 444.2h.01M669.5 439.1h.01M658.4 434.1h.01M647.2 429h.01M636.1 423.9h.01M624.9 418.8h.01M613.8 413.7h.01M602.7 408.6h.01M591.5 403.5h.01M580.4 398.4h.01M569.2 393h.01M558.1 387.4h.01M546.9 381.4h.01M535.8 374.7h.01M529.7 370.7h.01M524.6 367.1h.01M513.5 358.4h.01M502.4 348.3h.01M491.2 336.6h.01M480.1 322.8h.01M468.9 306.3h.01M465.2 300.1h.01M457.8 286.5h.01M446.6 263.8h.01M435.5 239.3h.01M424.3 214.8h.01M416.4 198.7h.01M413.2 192.8h.01M402.1 174.9h.01M390.9 160.2h.01M379.8 148.3h.01M368.6 138.9h.01M357.5 131.5h.01M346.3 125.8h.01M335.2 121.1h.01M702.4 445.6h.01M691.2 440.5h.01M680.1 435.4h.01M668.9 430.3h.01M657.8 425.2h.01M646.6 420.2h.01M635.5 415.1h.01M624.3 410h.01M613.2 404.9h.01M602.1 399.8h.01M590.9 394.6h.01M579.8 389.2h.01M568.6 383.5h.01M557.5 377.2h.01M546.3 370.2h.01M540.3 366h.01M535.2 362.3h.01M524 353.2h.01M512.9 342.6h.01M501.8 330.3h.01M490.6 315.7h.01M479.5 298.4h.01M475.7 291.8h.01M468.3 277.6h.01M457.2 254h.01M446 229.4h.01M434.9 205.5h.01M426.9 190h.01M423.7 184.2h.01M412.6 166.6h.01M401.5 152.5h.01M390.3 141.4h.01M379.2 132.9h.01M368 126.3h.01M356.9 121.1h.01M345.7 116.8h.01M712.9 441.9h.01M701.8 436.8h.01M690.6 431.7h.01M679.5 426.6h.01M668.3 421.5h.01M657.2 416.4h.01M646 411.3h.01M634.9 406.3h.01M623.8 401.3h.01M612.6 396.1h.01M601.5 390.9h.01M590.3 385.3h.01M579.2 379.3h.01M568 372.8h.01M556.9 365.5h.01M550.8 361.1h.01M545.7 357.2h.01M534.6 347.7h.01M523.5 336.7h.01M512.3 323.7h.01M501.2 308.5h.01M490 290.3h.01M486.3 283.5h.01M478.9 268.9h.01M467.7 245.1h.01M456.6 220.5h.01M445.4 196.8h.01M437.5 181.5h.01M434.3 176h.01M423.2 159.2h.01M412 145.8h.01M400.9 135.5h.01M389.7 127.6h.01M378.6 121.6h.01M367.4 116.9h.01M356.3 112.8h.01M723.5 438.2h.01M712.3 433.1h.01M701.2 428h.01M690 422.9h.01M678.9 417.8h.01M667.7 412.7h.01M656.6 407.6h.01M645.5 402.6h.01M634.3 397.6h.01M623.2 392.4h.01M612 387h.01M600.9 381.3h.01M589.7 375h.01M578.6 368.2h.01M567.4 360.5h.01M561.4 356h.01M556.3 351.9h.01M545.2 342h.01M534 330.5h.01M522.9 317.1h.01M511.7 301.3h.01M500.6 282.7h.01M496.8 275.8h.01M489.4 261h.01M478.3 236.9h.01M467.1 212.4h.01M456 189.1h.01M448.1 174.2h.01M444.9 168.8h.01M433.7 152.5h.01M422.6 139.8h.01M411.4 130.1h.01M400.3 122.7h.01M389.1 117.2h.01M378 112.8h.01M366.8 109h.01M734 434.5h.01M722.9 429.4h.01M711.7 424.4h.01M700.6 419.3h.01M689.4 414.2h.01M678.3 409.1h.01M667.1 404.1h.01M656 399.1h.01M644.9 394h.01M633.7 388.7h.01M622.6 383.1h.01M611.4 377.1h.01M600.3 370.5h.01M589.1 363.3h.01M578 355.3h.01M571.9 350.5h.01M566.8 346.3h.01M555.7 336h.01M544.6 324.1h.01M533.4 310.3h.01M522.3 294.2h.01M511.1 275.4h.01M507.4 268.4h.01M500 253.4h.01M488.8 229.1h.01M477.7 204.6h.01M466.5 181.7h.01M458.6 167.3h.01M455.4 162h.01M444.3 146.4h.01M433.1 134.3h.01M422 125.1h.01M410.8 118.2h.01M399.7 112.9h.01M388.5 108.6h.01M377.4 104.8h.01M744.6 430.9h.01M733.4 425.8h.01M722.3 420.8h.01M711.1 415.8h.01M700 410.7h.01M688.8 405.7h.01M677.7 400.7h.01M666.6 395.8h.01M655.4 390.6h.01M644.3 385.2h.01M633.1 379.2h.01M622 372.7h.01M610.8 365.7h.01M599.7 358.2h.01M588.5 349.8h.01M582.5 344.9h.01M577.4 340.5h.01M566.3 330h.01M555.1 317.7h.01M544 303.5h.01M532.8 286.8h.01M521.7 267.5h.01M518 260.4h.01M510.5 245.3h.01M499.4 221.3h.01M488.2 197.2h.01M477.1 174.6h.01M469.2 160.5h.01M466 155.5h.01M454.8 140.7h.01M443.7 129.4h.01M432.5 120.7h.01M421.4 114.1h.01M410.2 108.9h.01M399.1 104.6h.01M387.9 100.7h.01M751.1 428.6h.01M740 423.5h.01M728.8 418.5h.01M717.7 413.5h.01M706.5 408.4h.01M695.4 403.4h.01M684.2 398.4h.01M673.1 393.5h.01M661.9 388.4h.01M650.8 382.9h.01M639.7 376.6h.01M628.5 369.8h.01M617.4 362.6h.01M606.2 354.8h.01M595.1 346.3h.01M589 341.3h.01M583.9 336.9h.01M572.8 326.2h.01M561.6 313.9h.01M550.5 299.4h.01M539.4 282.4h.01M528.2 262.8h.01M524.5 255.6h.01M517.1 240.6h.01M505.9 216.7h.01M494.8 192.9h.01M483.6 170.8h.01M475.7 157.1h.01M472.5 152.2h.01M461.3 137.7h.01M450.2 126.7h.01M439.1 118.3h.01M427.9 111.8h.01M416.8 106.6h.01M405.6 102.3h.01M394.5 98.2h.01M755.1 427.2h.01M744 422h.01M732.8 417h.01M721.7 412h.01M710.5 406.9h.01M699.4 401.9h.01M688.3 396.9h.01M677.1 392h.01M666 386.9h.01M654.8 381.3h.01M643.7 374.9h.01M632.5 368h.01M621.4 360.6h.01M610.2 352.7h.01M599.1 344.2h.01M593 339.2h.01M588 334.7h.01M576.8 324h.01M565.7 311.6h.01M554.5 297h.01M543.4 279.9h.01M532.2 260.1h.01M528.5 252.9h.01M521.1 237.8h.01M509.9 214h.01M498.8 190.4h.01M487.7 168.6h.01M479.7 155.1h.01M476.5 150.3h.01M465.4 136h.01M454.2 125.2h.01M443.1 116.9h.01M431.9 110.5h.01M420.8 105.3h.01M409.6 100.9h.01M398.5 96.8h.01M765.7 423.1h.01M754.5 417.8h.01M743.4 412.6h.01M732.2 407.6h.01M721.1 402.6h.01M710 397.5h.01M698.8 392.5h.01M687.7 387.5h.01M676.5 382.3h.01M665.4 376.5h.01M654.2 369.9h.01M643.1 362.7h.01M631.9 355.1h.01M620.8 347.1h.01M609.7 338.5h.01M603.6 333.5h.01M598.5 329.1h.01M587.4 318.5h.01M576.2 306.2h.01M565.1 291.4h.01M553.9 273.9h.01M542.8 253.7h.01M539.1 246.4h.01M531.6 231.1h.01M520.5 207.3h.01M509.4 184.1h.01M498.2 162.9h.01M490.3 149.9h.01M487.1 145.3h.01M475.9 131.9h.01M464.8 121.7h.01M453.6 113.7h.01M442.5 107.3h.01M431.3 102h.01M420.2 97.4h.01M409.1 93h.01M776.2 418.9h.01M765.1 413.2h.01M753.9 407.9h.01M742.8 402.8h.01M731.6 397.8h.01M720.5 392.7h.01M709.4 387.5h.01M698.2 382.3h.01M687.1 376.9h.01M675.9 370.9h.01M664.8 364.4h.01M653.6 357.2h.01M642.5 349.6h.01M631.3 341.6h.01M620.2 333.2h.01M614.1 328.2h.01M609.1 323.9h.01M597.9 313.8h.01M586.8 301.9h.01M575.6 287.3h.01M564.5 269.2h.01M553.3 247.9h.01M549.6 240.3h.01M542.2 224.9h.01M531 201.4h.01M519.9 178.3h.01M508.8 157.6h.01M500.8 145.3h.01M497.6 141h.01M486.5 128.4h.01M475.3 118.7h.01M464.2 110.9h.01M453 104.5h.01M441.9 99h.01M430.7 94h.01M419.6 89.3h.01M786.8 415.3h.01M775.6 409.2h.01M764.5 403.6h.01M753.3 398.5h.01M742.2 393.5h.01M731.1 388.3h.01M719.9 382.9h.01M708.8 377.4h.01M697.6 371.8h.01M686.5 365.8h.01M675.3 359.4h.01M664.2 352.2h.01M653 344.7h.01M641.9 337.1h.01M630.8 328.8h.01M624.7 323.9h.01M619.6 319.7h.01M608.5 310.1h.01M597.3 299h.01M586.2 284.8h.01M575 266.6h.01M563.9 244.4h.01M560.2 236.5h.01M552.7 220.9h.01M541.6 196.8h.01M530.5 173.1h.01M519.3 152.5h.01M511.4 140.6h.01M508.2 136.7h.01M497 125.3h.01M485.9 115.9h.01M474.7 108.1h.01M463.6 101.6h.01M452.4 96h.01M441.3 90.7h.01M430.2 85.6h.01M791.3 414.2h.01M780.2 407.8h.01M769 402.1h.01M757.9 397h.01M746.7 391.9h.01M735.6 386.7h.01M724.4 381.3h.01M713.3 375.7h.01M702.1 370h.01M691 364h.01M679.9 357.6h.01M668.7 350.4h.01M657.6 343h.01M646.4 335.7h.01M635.3 327.6h.01M629.2 322.7h.01M624.1 318.4h.01M613 308.9h.01M601.8 298h.01M590.7 283.7h.01M579.6 265.5h.01M568.4 243.6h.01M564.7 235.8h.01M557.3 219.6h.01M546.1 195.1h.01M535 171.2h.01M523.8 150.7h.01M515.9 139.1h.01M512.7 135.2h.01M501.5 123.8h.01M490.4 114.4h.01M479.3 106.6h.01M468.1 100.2h.01M457 94.5h.01M445.8 89.2h.01M434.7 84.1h.01M797.3 413.3h.01M786.2 406.6h.01M775 400.7h.01M763.9 395.4h.01M752.8 390.3h.01M741.6 385h.01M730.5 379.6h.01M719.3 373.9h.01M708.2 368.1h.01M697 361.9h.01M685.9 355.5h.01M674.7 348.6h.01M663.6 341.6h.01M652.5 334.5h.01M641.3 326.6h.01M635.2 321.8h.01M630.2 317.7h.01M619 308h.01M607.9 296.6h.01M596.7 281.9h.01M585.6 263.1h.01M574.4 240.6h.01M570.7 232.6h.01M563.3 216.6h.01M552.2 192.3h.01M541 168.8h.01M529.9 148.6h.01M521.9 137h.01M518.7 133h.01M507.6 121.3h.01M496.4 111.9h.01M485.3 104.2h.01M474.1 97.8h.01M463 92.3h.01M451.9 87h.01M440.7 81.9h.01M807.9 411.5h.01M796.7 405.2h.01M785.6 399.5h.01M774.4 394.1h.01M763.3 388.8h.01M752.2 383.7h.01M741 378.4h.01M729.9 372.7h.01M718.7 366.5h.01M707.6 360.1h.01M696.4 353.5h.01M685.3 347.1h.01M674.2 340.8h.01M663 334.2h.01M651.9 326.7h.01M645.8 322.2h.01M640.7 318.1h.01M629.6 307.8h.01M618.4 295.2h.01M607.3 279.2h.01M596.1 259.4h.01M585 236.3h.01M581.3 228.2h.01M573.9 212.1h.01M562.7 187.9h.01M551.6 164.8h.01M540.4 144.5h.01M532.5 132.5h.01M529.3 128.3h.01M518.1 116.1h.01M507 106.8h.01M495.8 99.4h.01M484.7 93.3h.01M473.6 87.9h.01M462.4 82.9h.01M451.3 77.9h.01M818.4 411.4h.01M807.3 405.8h.01M796.1 400.5h.01M785 395.2h.01M773.9 389.9h.01M762.7 384.8h.01M751.6 379.7h.01M740.4 374.2h.01M729.3 368h.01M718.1 361.4h.01M707 354.5h.01M695.8 348.3h.01M684.7 342.4h.01M673.6 336.1h.01M662.4 328.8h.01M656.3 324.2h.01M651.3 320h.01M640.1 309.3h.01M629 295.9h.01M617.8 279.2h.01M606.7 258.8h.01M595.5 235.4h.01M591.8 227.1h.01M584.4 210.4h.01M573.3 185.4h.01M562.1 161.7h.01M551 140.8h.01M543 128.3h.01M539.8 123.9h.01M528.7 111.3h.01M517.5 102.1h.01M506.4 95h.01M495.2 89.1h.01M484.1 83.8h.01M473 78.9h.01M461.8 74h.01M829 415.3h.01M817.8 409.9h.01M806.7 404.5h.01M795.6 399h.01M784.4 393.6h.01M773.3 388.3h.01M762.1 383.2h.01M751 378h.01M739.8 372.4h.01M728.7 366.1h.01M717.5 359.5h.01M706.4 352.7h.01M695.3 346.4h.01M684.1 339.7h.01M673 331.9h.01M666.9 327.1h.01M661.8 322.7h.01M650.7 311.9h.01M639.5 298.4h.01M628.4 281.5h.01M617.2 261.3h.01M606.1 237.3h.01M602.4 228.7h.01M595 211.4h.01M583.8 185.3h.01M572.7 160.5h.01M561.5 138.6h.01M553.6 125.5h.01M550.4 120.9h.01M539.2 108.1h.01M528.1 99.1h.01M516.9 92.2h.01M505.8 86.1h.01M494.7 80.5h.01M483.5 75.1h.01M472.4 70.1h.01M828.4 414.9h.01M817.3 409.4h.01M806.1 403.8h.01M795 398.2h.01M783.8 392.6h.01M772.7 387.1h.01M761.5 381.9h.01M750.4 376.7h.01M739.2 371h.01M728.1 364.7h.01M717 358.1h.01M705.8 351.1h.01M694.7 343.6h.01M683.5 335h.01M677.4 329.7h.01M672.4 325h.01M661.2 314.2h.01M650.1 300.9h.01M638.9 283.8h.01M627.8 265.1h.01M616.7 241.7h.01M612.9 232.9h.01M605.5 214.9h.01M594.4 187.3h.01M583.2 162h.01M572.1 139.3h.01M564.1 125.6h.01M560.9 121h.01M549.8 107.7h.01M538.6 98.6h.01M527.5 91.4h.01M516.4 84.6h.01M505.2 78.2h.01M494.1 72h.01M482.9 66.7h.01" fill="none" stroke="#000" stroke-opacity=".55" stroke-width="2.7" stroke-linecap="round"/>
<g fill="none" stroke-width="8.2">
<path d="M670.7 456.5 L667.7 455.2 L664.7 453.8 L661.7 452.5 L658.7 451.1 L655.7 449.8 L652.7 448.5 L649.7 447.1 L646.7 445.7 L643.7 444.4 L640.7 443 L637.7 441.7 L634.7 440.3 L631.7 438.9 L628.7 437.6 L625.7 436.2 L622.8 434.8 L619.8 433.5 L616.8 432.1 L613.8 430.7 L610.8 429.4 L607.8 428 L604.8 426.6 L601.8 425.3 L598.8 423.9 L595.8 422.5 L592.8 421.2 L589.8 419.8 L586.8 418.4 L583.8 417.1 L580.8 415.7 L577.8 414.3 L574.8 413 L571.8 411.6 L568.8 410.2 L565.8 408.9 L562.8 407.5 L559.8 406.1 L556.8 404.7 L553.8 403.3 L550.8 401.9 L547.8 400.5 L544.8 399.1 L541.8 397.6 L538.8 396.2 L535.8 394.8 L532.8 393.3 L529.9 391.8 L526.9 390.3 L523.9 388.7 L520.9 387.1 L517.9 385.5 L514.9 383.7 L511.9 382 L508.9 380.2 L505.9 378.3 L502.9 376.3 L499.9 374.2 L496.9 372 L493.9 369.8 L490.9 367.5 L487.9 365.1 L484.9 362.5 L481.9 360 L478.9 357.3 L475.9 354.6 L472.9 351.7 L469.9 348.7 L466.9 345.7 L463.9 342.6 L460.9 339.3 L457.9 335.9 L454.9 332.3 L451.9 328.4 L448.9 324.3 L445.9 320.1 L442.9 315.8 L439.9 311.2 L436.9 306.5 L434 301.6 L431 296.5 L428 291.1 L425 285.6 L422 279.9 L419 273.8 L416 267.5 L413 261.1 L410 254.7 L407 248.4 L404 242.1 L401 235.7 L398 229.4 L395 223.3 L392 217.9 L389 213 L386 207.9 L383 202.7 L380 197.6 L377 192.5 L374 187.6 L371 182.9 L368 178.5 L365 174.4 L362 170.5 L359 167 L356 163.6 L353 160.4 L350 157.4 L347 154.5 L344 151.8 L341.1 149.2 L338.1 146.7 L335.1 144.4 L332.1 142.1 L329.1 140 L326.1 138 L323.1 136.1 L320.1 134.4 L317.1 132.9 L314.1 131.5" stroke="#231f20"/>
</g>
<circle cx="515.8" cy="186" r="8.9" fill="#63051a"/>
<path d="M274.7 450.2V493.4" stroke="#1c75bc" stroke-width="7.8" stroke-linecap="round" fill="none"/>
<circle cx="274.7" cy="472.2" r="9" fill="#1c75bc"/>
<g class="ax">
<path d="M113.1 507.7 L469.7 670.4 L871.7 526.2"/>
<path d="M469.7 670.4L458.9 674.3"/>
<path d="M307.6 596.5L296.8 600.3"/>
<path d="M145.5 522.5L134.7 526.4"/>
<path d="M420.9 648.1L415.7 650"/>
<path d="M392.4 635.1L387.2 637"/>
<path d="M372.1 625.9L366.9 627.7"/>
<path d="M356.4 618.7L351.2 620.6"/>
<path d="M343.6 612.9L338.4 614.7"/>
<path d="M332.7 607.9L327.5 609.8"/>
<path d="M323.3 603.6L318.1 605.5"/>
<path d="M315 599.8L309.8 601.7"/>
<path d="M258.8 574.2L253.6 576.1"/>
<path d="M230.3 561.2L225.1 563"/>
<path d="M210 551.9L204.8 553.8"/>
<path d="M194.3 544.8L189.1 546.6"/>
<path d="M181.5 538.9L176.3 540.8"/>
<path d="M170.6 534L165.4 535.8"/>
<path d="M161.2 529.7L156 531.5"/>
<path d="M152.9 525.9L147.7 527.8"/>
<path d="M469.7 670.4L480.2 675.2"/>
<path d="M670.7 598.3L681.2 603.1"/>
<path d="M509.9 656L515.4 658.5"/>
<path d="M550.1 641.6L555.6 644.1"/>
<path d="M590.3 627.1L595.8 629.6"/>
<path d="M630.5 612.7L636 615.2"/>
<path d="M710.9 583.9L716.4 586.4"/>
<path d="M751.1 569.5L756.6 572"/>
<path d="M791.3 555L796.8 557.5"/>
<path d="M831.5 540.6L837 543.1"/>
</g>
<g class="zax">
<path d="M113.1 507.7L113.1 162.2" stroke-width="2.2"/>
<path d="M113.1 446L102.6 441.3"/>
<path d="M113.1 384.3L102.6 379.6"/>
<path d="M113.1 322.6L102.6 317.9"/>
<path d="M113.1 260.9L102.6 256.2"/>
<path d="M113.1 199.2L102.6 194.5"/>
</g>
<g class="t29">
<text x="92.2" y="447" text-anchor="end">0.2</text>
<text x="92.2" y="385.3" text-anchor="end">0.4</text>
<text x="92.2" y="323.6" text-anchor="end">0.6</text>
<text x="92.2" y="261.9" text-anchor="end">0.8</text>
<text x="92.2" y="200.2" text-anchor="end">1</text>
<text x="83.9" y="558.2">10<tspan class="sup" dy="-10.4" dx="0.2">3</tspan></text>
<text x="252.6" y="638.1">10<tspan class="sup" dy="-10.4" dx="0.2">2</tspan></text>
<text x="415.7" y="713.6">10<tspan class="sup" dy="-10.4" dx="0.2">1</tspan></text>
<text x="483.2" y="711.2">10<tspan class="sup" dy="-10.4" dx="0.2">-5</tspan></text>
<text x="680.6" y="633.9">10<tspan class="sup" dy="-10.4" dx="0.2">0</tspan></text>
<text x="865.5" y="559.7">10<tspan class="sup" dy="-10.4" dx="0.2">5</tspan></text>
</g>
<g class="t33">
<text transform="translate(125.4 685.1) scale(1.017 1)">[MNZ] µg/ml</text>
<text transform="translate(669.8 682.1) scale(1.006 1)">Initial Gv:Li ratio</text>
<text transform="translate(27.8 459.6) rotate(-90) scale(1.014 1)">Proportion <tspan font-style="italic">L. iners</tspan></text>
</g>
<rect x="664.6" y="54.2" width="305.5" height="210.3" fill="#fff" stroke="#424242" stroke-width="1.8"/>
<g class="t23">
<path d="M672.3 72.3H729" stroke="#c8c32c" stroke-width="8.2" fill="none"/>
<text transform="translate(742.3 80.9) scale(1.058 1)">500 <tspan class="mu">μ</tspan>g/ml MNZ</text>
<path d="M672.3 101.4H729" stroke="#662d91" stroke-width="8.2" fill="none"/>
<text transform="translate(742.3 110) scale(1.058 1)">250 <tspan class="mu">μ</tspan>g/ml MNZ</text>
<path d="M672.3 130.5H729" stroke="#1c75bc" stroke-width="8.2" fill="none"/>
<text transform="translate(742.3 139.1) scale(1.058 1)">0.001x</text>
<path d="M672.3 159.6H729" stroke="#63051a" stroke-width="8.2" fill="none"/>
<text transform="translate(742.3 168.2) scale(1.058 1)">1000x</text>
<path d="M672.3 188.7H729" stroke="#231f20" stroke-width="8.2" fill="none"/>
<text transform="translate(742.3 197.3) scale(1.058 1)">1x</text>
<path d="M672.3 217.8H729" stroke="#63051a" stroke-width="8.2" fill="none"/>
<circle cx="700.6" cy="217.8" r="9" fill="#63051a"/>
<text transform="translate(742.3 226.4) scale(1.058 1)">High Gv:Li Exp Data</text>
<path d="M672.3 246.9H729" stroke="#1c75bc" stroke-width="8.2" fill="none"/>
<circle cx="700.6" cy="246.9" r="9" fill="#1c75bc"/>
<text transform="translate(742.3 255.5) scale(1.058 1)">Low Gv:Li Exp Data</text>
</g>
<clipPath id="cb"><rect x="1138.1" y="52.8" width="708.5" height="566.9"/></clipPath>
<g clip-path="url(#cb)" fill="none" stroke="#2db9ae" stroke-width="11.6" stroke-linejoin="round">
<path d="M1136 346.4 L1169.2 342.9 L1208.4 338 L1247.6 332.2 L1286.9 323.9 L1326.1 313.5 L1353.8 304.3 L1387.1 287.6 L1415.7 268.6 L1436.5 247.4 L1450.6 223 L1466.6 204.4 L1479.9 185.7 L1490.6 172.4 L1503.9 153.8 L1514.5 135.2 L1527.8 116.5 L1535.8 100.6 L1546.5 84.6 L1554.5 68.6 L1562.5 49.5"/>
<path d="M1330.6 50 L1348.2 81.2 L1364.4 113 L1383.5 145.9 L1404.1 175.3 L1427.6 204.7 L1450.1 230.2 L1467.7 250.4 L1487.9 269.3 L1515.6 288.2 L1540.8 303.4 L1566 314.7 L1591.3 322.3 L1616.5 328.6 L1641.7 332.3 L1682 336.9 L1717.3 339.4 L1767.7 341.7 L1818.1 342.9 L1849 343.5"/>
</g>
<g class="bgrid">
<path d="M1293.6 619.7V52.8"/>
<path d="M1487.9 619.7V52.8"/>
<path d="M1682.2 619.7V52.8"/>
<path d="M1138.1 430.3H1846.6" stroke-dashoffset="6.33" stroke-dasharray="4 12.53"/>
<path d="M1138.1 115.6H1846.6" stroke-dashoffset="6.33" stroke-dasharray="4 12.53"/>
</g>
<g class="bax">
<path d="M1138.1 52.8V619.7H1846.6V52.8" stroke="#444"/>
<path d="M1137.2 52.8H1847.5" stroke="#111" stroke-width="2.3"/>
<path d="M1137.2 619.7H1847.5" stroke="#111" stroke-width="2.3"/>
<path d="M1145.7 619.7v-4.2M1145.7 52.8v4.2M1157.8 619.7v-4.2M1157.8 52.8v4.2M1167.2 619.7v-4.2M1167.2 52.8v4.2M1174.9 619.7v-4.2M1174.9 52.8v4.2M1181.4 619.7v-4.2M1181.4 52.8v4.2M1187 619.7v-4.2M1187 52.8v4.2M1192 619.7v-4.2M1192 52.8v4.2M1196.5 619.7v-4.2M1196.5 52.8v4.2M1225.7 619.7v-4.2M1225.7 52.8v4.2M1242.8 619.7v-4.2M1242.8 52.8v4.2M1254.9 619.7v-4.2M1254.9 52.8v4.2M1264.4 619.7v-4.2M1264.4 52.8v4.2M1272 619.7v-4.2M1272 52.8v4.2M1278.6 619.7v-4.2M1278.6 52.8v4.2M1284.2 619.7v-4.2M1284.2 52.8v4.2M1289.2 619.7v-4.2M1289.2 52.8v4.2M1293.6 619.7v-7.6M1293.6 52.8v7.6M1322.8 619.7v-4.2M1322.8 52.8v4.2M1340 619.7v-4.2M1340 52.8v4.2M1352.1 619.7v-4.2M1352.1 52.8v4.2M1361.5 619.7v-4.2M1361.5 52.8v4.2M1369.2 619.7v-4.2M1369.2 52.8v4.2M1375.7 619.7v-4.2M1375.7 52.8v4.2M1381.3 619.7v-4.2M1381.3 52.8v4.2M1386.3 619.7v-4.2M1386.3 52.8v4.2M1390.8 619.7v-4.2M1390.8 52.8v4.2M1420 619.7v-4.2M1420 52.8v4.2M1437.1 619.7v-4.2M1437.1 52.8v4.2M1449.2 619.7v-4.2M1449.2 52.8v4.2M1458.7 619.7v-4.2M1458.7 52.8v4.2M1466.3 619.7v-4.2M1466.3 52.8v4.2M1472.9 619.7v-4.2M1472.9 52.8v4.2M1478.5 619.7v-4.2M1478.5 52.8v4.2M1483.5 619.7v-4.2M1483.5 52.8v4.2M1487.9 619.7v-7.6M1487.9 52.8v7.6M1517.1 619.7v-4.2M1517.1 52.8v4.2M1534.3 619.7v-4.2M1534.3 52.8v4.2M1546.4 619.7v-4.2M1546.4 52.8v4.2M1555.8 619.7v-4.2M1555.8 52.8v4.2M1563.5 619.7v-4.2M1563.5 52.8v4.2M1570 619.7v-4.2M1570 52.8v4.2M1575.6 619.7v-4.2M1575.6 52.8v4.2M1580.6 619.7v-4.2M1580.6 52.8v4.2M1585.1 619.7v-4.2M1585.1 52.8v4.2M1614.3 619.7v-4.2M1614.3 52.8v4.2M1631.4 619.7v-4.2M1631.4 52.8v4.2M1643.5 619.7v-4.2M1643.5 52.8v4.2M1653 619.7v-4.2M1653 52.8v4.2M1660.6 619.7v-4.2M1660.6 52.8v4.2M1667.2 619.7v-4.2M1667.2 52.8v4.2M1672.8 619.7v-4.2M1672.8 52.8v4.2M1677.8 619.7v-4.2M1677.8 52.8v4.2M1682.2 619.7v-7.6M1682.2 52.8v7.6M1711.4 619.7v-4.2M1711.4 52.8v4.2M1728.6 619.7v-4.2M1728.6 52.8v4.2M1740.7 619.7v-4.2M1740.7 52.8v4.2M1750.1 619.7v-4.2M1750.1 52.8v4.2M1757.8 619.7v-4.2M1757.8 52.8v4.2M1764.3 619.7v-4.2M1764.3 52.8v4.2M1769.9 619.7v-4.2M1769.9 52.8v4.2M1774.9 619.7v-4.2M1774.9 52.8v4.2M1779.4 619.7v-4.2M1779.4 52.8v4.2M1808.6 619.7v-4.2M1808.6 52.8v4.2M1825.7 619.7v-4.2M1825.7 52.8v4.2M1837.8 619.7v-4.2M1837.8 52.8v4.2" stroke="#111" stroke-width="1.9"/>
<path d="M1138.1 594.8h4.2M1846.6 594.8h-4.2M1138.1 555.5h4.2M1846.6 555.5h-4.2M1138.1 525h4.2M1846.6 525h-4.2M1138.1 500.1h4.2M1846.6 500.1h-4.2M1138.1 479h4.2M1846.6 479h-4.2M1138.1 460.8h4.2M1846.6 460.8h-4.2M1138.1 444.7h4.2M1846.6 444.7h-4.2M1138.1 430.3h7.6M1846.6 430.3h-7.6M1138.1 335.6h4.2M1846.6 335.6h-4.2M1138.1 280.1h4.2M1846.6 280.1h-4.2M1138.1 240.8h4.2M1846.6 240.8h-4.2M1138.1 210.3h4.2M1846.6 210.3h-4.2M1138.1 185.4h4.2M1846.6 185.4h-4.2M1138.1 164.3h4.2M1846.6 164.3h-4.2M1138.1 146.1h4.2M1846.6 146.1h-4.2M1138.1 130h4.2M1846.6 130h-4.2M1138.1 115.6h7.6M1846.6 115.6h-7.6" stroke="#444"/>
</g>
<circle cx="1196.4" cy="210.3" r="11.3" fill="#1b5a82"/>
<circle cx="1778.5" cy="210.3" r="11.4" fill="#63051a"/>
<g class="t29">
<text x="1081.7" y="141.2">10<tspan class="sup" dy="-11.8" dx="0.2">3</tspan></text>
<text x="1081.7" y="451.7">10<tspan class="sup" dy="-11.8" dx="0.2">2</tspan></text>
<text x="1269.7" y="661">10<tspan class="sup" dy="-11.8" dx="0.2">-2</tspan></text>
<text x="1462" y="661">10<tspan class="sup" dy="-11.8" dx="0.2">0</tspan></text>
<text x="1641.7" y="661">10<tspan class="sup" dy="-11.8" dx="0.2">2</tspan></text>
<text x="1886.1" y="151.2">0.001x Gv<tspan dx="-1.5">:</tspan>Li</text>
<text x="1886" y="396.4">1<tspan dx="-2.5">,</tspan>000x Gv<tspan dx="-1.5">:</tspan>Li</text>
</g>
<g class="t33">
<text x="1373.4" y="706.4">Initial Gv:Li ratio</text>
<text transform="translate(1056.4 428.2) rotate(-90) scale(1.012 1)">[MNZ] µg/ml</text>
</g>
<g class="bi">
<text x="1424.3" y="102">Gv</text>
<text x="1432.4" y="142.8">Li</text>
<text x="1266.4" y="197">Gv</text>
<text x="1274.5" y="237.8">Li</text>
<text x="1636.4" y="197">Gv</text>
<text x="1644.5" y="237.8">Li</text>
<text x="1424.3" y="396.6">Gv</text>
<text x="1432.4" y="437.4">Li</text>
</g>
<path d="M1485.7 102.8Q1491.7 88.4 1499.5 78L1485.7 83L1471.9 78Q1479.7 88.4 1485.7 102.8Z" fill="#000"/>
<rect x="1483.8" y="78" width="3.8" height="5" fill="#000"/>
<path d="M1485.7 143.6Q1491.7 129.2 1499.5 118.8L1485.7 123.8L1471.9 118.8Q1479.7 129.2 1485.7 143.6Z" fill="#000"/>
<rect x="1483.8" y="118.8" width="3.8" height="5" fill="#000"/>
<path d="M1327.8 172.5Q1333.8 186.8 1341.6 197.1L1327.8 192.1L1314 197.1Q1321.8 186.8 1327.8 172.5Z" fill="#000"/>
<rect x="1325.9" y="192.1" width="3.8" height="5" fill="#000"/>
<path d="M1327.8 238.6Q1333.8 224.2 1341.6 213.8L1327.8 218.8L1314 213.8Q1321.8 224.2 1327.8 238.6Z" fill="#000"/>
<rect x="1325.9" y="213.8" width="3.8" height="5" fill="#000"/>
<path d="M1697.8 197.8Q1703.8 183.4 1711.6 173L1697.8 178L1684 173Q1691.8 183.4 1697.8 197.8Z" fill="#000"/>
<rect x="1695.9" y="173" width="3.8" height="5" fill="#000"/>
<path d="M1697.8 213.3Q1703.8 227.6 1711.6 237.9L1697.8 232.9L1684 237.9Q1691.8 227.6 1697.8 213.3Z" fill="#000"/>
<rect x="1695.9" y="232.9" width="3.8" height="5" fill="#000"/>
<path d="M1485.7 372.1Q1491.7 386.4 1499.5 396.7L1485.7 391.7L1471.9 396.7Q1479.7 386.4 1485.7 372.1Z" fill="#000"/>
<rect x="1483.8" y="391.7" width="3.8" height="5" fill="#000"/>
<path d="M1485.7 412.9Q1491.7 427.2 1499.5 437.5L1485.7 432.5L1471.9 437.5Q1479.7 427.2 1485.7 412.9Z" fill="#000"/>
<rect x="1483.8" y="432.5" width="3.8" height="5" fill="#000"/>
<circle cx="1963.5" cy="229" r="62.7" fill="#1b5a82"/>
<circle cx="1963.5" cy="472.9" r="62.8" fill="#63051a"/>
<path d="M1963.5 472.9V410.1A62.8 62.8 0 0 1 2017.9 441.5Z" fill="#bbbdbf"/>
<g class="t29" fill="#fff">
<text x="1930.6" y="240.3" style="fill:#fff">100%</text>
<text x="1926.5" y="509" style="fill:#fff">83.3%</text>
</g>
<text class="lab" transform="translate(-1.3 30.9) scale(1.03 1)">a</text>
<text class="lab" transform="translate(1027 30.8) scale(1.03 1)">b</text>
</svg></body></html>
